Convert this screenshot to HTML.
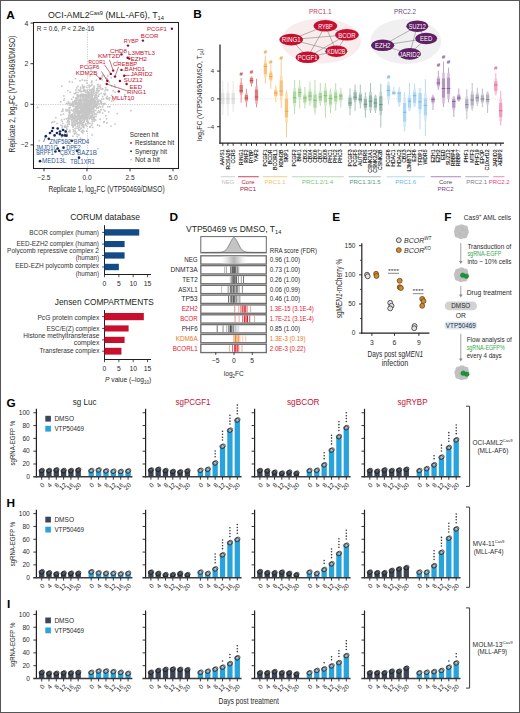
<!DOCTYPE html>
<html><head><meta charset="utf-8"><style>
html,body{margin:0;padding:0;background:#fff;}
svg{display:block;font-family:"Liberation Sans", sans-serif;}
</style></head><body>
<svg width="520" height="713" viewBox="0 0 520 713">
<rect x="0" y="0" width="520" height="713" fill="#fff"/>
<text x="6.30" y="18.60" font-size="11.8" fill="#000" font-weight="bold">A</text>
<text x="48" y="17.8" font-size="8.6" fill="#231f20" textLength="116" lengthAdjust="spacingAndGlyphs">OCI-AML2<tspan font-size="5.6" dy="-3">Cas9</tspan><tspan dy="3"> (MLL-AF6), T</tspan><tspan font-size="5.6" dy="1.8">14</tspan></text>
<line x1="87.50" y1="22.50" x2="87.50" y2="168.50" stroke="#b8b8b8" stroke-width="0.7" stroke-dasharray="1.2,1.2"/>
<line x1="33.50" y1="104.50" x2="178.50" y2="104.50" stroke="#b8b8b8" stroke-width="0.7" stroke-dasharray="1.2,1.2"/>
<circle cx="73.05" cy="110.75" r="0.90" fill="#c6c6c6"/>
<circle cx="93.66" cy="108.48" r="0.90" fill="#c6c6c6"/>
<circle cx="72.08" cy="115.69" r="0.90" fill="#c6c6c6"/>
<circle cx="88.86" cy="95.01" r="0.90" fill="#c6c6c6"/>
<circle cx="73.13" cy="127.36" r="0.90" fill="#c6c6c6"/>
<circle cx="90.98" cy="100.09" r="0.90" fill="#c6c6c6"/>
<circle cx="98.67" cy="90.86" r="0.90" fill="#c6c6c6"/>
<circle cx="83.47" cy="111.61" r="0.90" fill="#c6c6c6"/>
<circle cx="108.30" cy="98.32" r="0.90" fill="#c6c6c6"/>
<circle cx="77.13" cy="123.65" r="0.90" fill="#c6c6c6"/>
<circle cx="85.31" cy="106.43" r="0.90" fill="#c6c6c6"/>
<circle cx="81.22" cy="110.71" r="0.90" fill="#c6c6c6"/>
<circle cx="86.96" cy="100.08" r="0.90" fill="#c6c6c6"/>
<circle cx="94.61" cy="100.76" r="0.90" fill="#c6c6c6"/>
<circle cx="67.80" cy="110.36" r="0.90" fill="#c6c6c6"/>
<circle cx="71.23" cy="117.20" r="0.90" fill="#c6c6c6"/>
<circle cx="70.73" cy="115.74" r="0.90" fill="#c6c6c6"/>
<circle cx="77.19" cy="110.14" r="0.90" fill="#c6c6c6"/>
<circle cx="115.07" cy="92.26" r="0.90" fill="#c6c6c6"/>
<circle cx="92.24" cy="117.32" r="0.90" fill="#c6c6c6"/>
<circle cx="81.74" cy="103.20" r="0.90" fill="#c6c6c6"/>
<circle cx="83.56" cy="105.13" r="0.90" fill="#c6c6c6"/>
<circle cx="85.38" cy="117.87" r="0.90" fill="#c6c6c6"/>
<circle cx="89.66" cy="113.62" r="0.90" fill="#c6c6c6"/>
<circle cx="101.80" cy="103.99" r="0.90" fill="#c6c6c6"/>
<circle cx="90.79" cy="104.89" r="0.90" fill="#c6c6c6"/>
<circle cx="93.27" cy="109.58" r="0.90" fill="#c6c6c6"/>
<circle cx="93.70" cy="104.58" r="0.90" fill="#c6c6c6"/>
<circle cx="96.15" cy="95.79" r="0.90" fill="#c6c6c6"/>
<circle cx="85.73" cy="115.43" r="0.90" fill="#c6c6c6"/>
<circle cx="91.55" cy="99.83" r="0.90" fill="#c6c6c6"/>
<circle cx="99.67" cy="103.87" r="0.90" fill="#c6c6c6"/>
<circle cx="89.57" cy="100.51" r="0.90" fill="#c6c6c6"/>
<circle cx="87.05" cy="104.86" r="0.90" fill="#c6c6c6"/>
<circle cx="86.11" cy="113.41" r="0.90" fill="#c6c6c6"/>
<circle cx="75.00" cy="117.41" r="0.90" fill="#c6c6c6"/>
<circle cx="89.91" cy="90.32" r="0.90" fill="#c6c6c6"/>
<circle cx="93.50" cy="92.95" r="0.90" fill="#c6c6c6"/>
<circle cx="91.64" cy="97.49" r="0.90" fill="#c6c6c6"/>
<circle cx="86.12" cy="99.75" r="0.90" fill="#c6c6c6"/>
<circle cx="100.89" cy="102.72" r="0.90" fill="#c6c6c6"/>
<circle cx="77.98" cy="92.30" r="0.90" fill="#c6c6c6"/>
<circle cx="86.69" cy="97.45" r="0.90" fill="#c6c6c6"/>
<circle cx="92.54" cy="115.29" r="0.90" fill="#c6c6c6"/>
<circle cx="107.02" cy="78.43" r="0.90" fill="#c6c6c6"/>
<circle cx="86.06" cy="99.97" r="0.90" fill="#c6c6c6"/>
<circle cx="85.60" cy="116.54" r="0.90" fill="#c6c6c6"/>
<circle cx="83.38" cy="105.19" r="0.90" fill="#c6c6c6"/>
<circle cx="94.78" cy="95.68" r="0.90" fill="#c6c6c6"/>
<circle cx="84.97" cy="94.55" r="0.90" fill="#c6c6c6"/>
<circle cx="77.35" cy="104.28" r="0.90" fill="#c6c6c6"/>
<circle cx="94.75" cy="105.68" r="0.90" fill="#c6c6c6"/>
<circle cx="67.79" cy="126.39" r="0.90" fill="#c6c6c6"/>
<circle cx="86.62" cy="101.91" r="0.90" fill="#c6c6c6"/>
<circle cx="98.80" cy="110.59" r="0.90" fill="#c6c6c6"/>
<circle cx="84.44" cy="101.88" r="0.90" fill="#c6c6c6"/>
<circle cx="82.96" cy="132.78" r="0.90" fill="#c6c6c6"/>
<circle cx="91.91" cy="81.25" r="0.90" fill="#c6c6c6"/>
<circle cx="93.75" cy="112.46" r="0.90" fill="#c6c6c6"/>
<circle cx="80.59" cy="108.22" r="0.90" fill="#c6c6c6"/>
<circle cx="107.54" cy="89.70" r="0.90" fill="#c6c6c6"/>
<circle cx="85.48" cy="92.26" r="0.90" fill="#c6c6c6"/>
<circle cx="83.66" cy="90.21" r="0.90" fill="#c6c6c6"/>
<circle cx="78.06" cy="116.54" r="0.90" fill="#c6c6c6"/>
<circle cx="91.12" cy="90.54" r="0.90" fill="#c6c6c6"/>
<circle cx="90.49" cy="102.07" r="0.90" fill="#c6c6c6"/>
<circle cx="67.50" cy="124.62" r="0.90" fill="#c6c6c6"/>
<circle cx="78.75" cy="116.75" r="0.90" fill="#c6c6c6"/>
<circle cx="89.87" cy="108.76" r="0.90" fill="#c6c6c6"/>
<circle cx="91.74" cy="103.58" r="0.90" fill="#c6c6c6"/>
<circle cx="81.33" cy="108.85" r="0.90" fill="#c6c6c6"/>
<circle cx="88.40" cy="97.65" r="0.90" fill="#c6c6c6"/>
<circle cx="79.98" cy="113.08" r="0.90" fill="#c6c6c6"/>
<circle cx="71.75" cy="99.22" r="0.90" fill="#c6c6c6"/>
<circle cx="97.90" cy="102.85" r="0.90" fill="#c6c6c6"/>
<circle cx="79.98" cy="123.09" r="0.90" fill="#c6c6c6"/>
<circle cx="86.00" cy="105.45" r="0.90" fill="#c6c6c6"/>
<circle cx="104.68" cy="94.94" r="0.90" fill="#c6c6c6"/>
<circle cx="77.20" cy="136.64" r="0.90" fill="#c6c6c6"/>
<circle cx="97.51" cy="99.39" r="0.90" fill="#c6c6c6"/>
<circle cx="69.47" cy="114.65" r="0.90" fill="#c6c6c6"/>
<circle cx="69.48" cy="81.74" r="0.90" fill="#c6c6c6"/>
<circle cx="94.81" cy="97.03" r="0.90" fill="#c6c6c6"/>
<circle cx="82.79" cy="130.57" r="0.90" fill="#c6c6c6"/>
<circle cx="83.25" cy="124.49" r="0.90" fill="#c6c6c6"/>
<circle cx="89.96" cy="126.69" r="0.90" fill="#c6c6c6"/>
<circle cx="75.99" cy="100.76" r="0.90" fill="#c6c6c6"/>
<circle cx="99.69" cy="111.88" r="0.90" fill="#c6c6c6"/>
<circle cx="70.17" cy="107.30" r="0.90" fill="#c6c6c6"/>
<circle cx="92.34" cy="113.91" r="0.90" fill="#c6c6c6"/>
<circle cx="77.97" cy="118.77" r="0.90" fill="#c6c6c6"/>
<circle cx="73.37" cy="121.12" r="0.90" fill="#c6c6c6"/>
<circle cx="96.04" cy="95.20" r="0.90" fill="#c6c6c6"/>
<circle cx="103.52" cy="98.89" r="0.90" fill="#c6c6c6"/>
<circle cx="83.16" cy="118.84" r="0.90" fill="#c6c6c6"/>
<circle cx="83.27" cy="122.07" r="0.90" fill="#c6c6c6"/>
<circle cx="67.91" cy="110.34" r="0.90" fill="#c6c6c6"/>
<circle cx="97.80" cy="92.78" r="0.90" fill="#c6c6c6"/>
<circle cx="96.80" cy="99.15" r="0.90" fill="#c6c6c6"/>
<circle cx="77.75" cy="111.11" r="0.90" fill="#c6c6c6"/>
<circle cx="80.95" cy="121.32" r="0.90" fill="#c6c6c6"/>
<circle cx="68.70" cy="131.65" r="0.90" fill="#c6c6c6"/>
<circle cx="84.37" cy="106.89" r="0.90" fill="#c6c6c6"/>
<circle cx="80.01" cy="96.50" r="0.90" fill="#c6c6c6"/>
<circle cx="86.08" cy="101.65" r="0.90" fill="#c6c6c6"/>
<circle cx="95.74" cy="110.41" r="0.90" fill="#c6c6c6"/>
<circle cx="66.12" cy="110.76" r="0.90" fill="#c6c6c6"/>
<circle cx="78.03" cy="98.75" r="0.90" fill="#c6c6c6"/>
<circle cx="87.56" cy="96.63" r="0.90" fill="#c6c6c6"/>
<circle cx="91.51" cy="125.27" r="0.90" fill="#c6c6c6"/>
<circle cx="91.10" cy="111.46" r="0.90" fill="#c6c6c6"/>
<circle cx="77.40" cy="116.50" r="0.90" fill="#c6c6c6"/>
<circle cx="91.55" cy="95.68" r="0.90" fill="#c6c6c6"/>
<circle cx="93.81" cy="119.83" r="0.90" fill="#c6c6c6"/>
<circle cx="78.93" cy="135.01" r="0.90" fill="#c6c6c6"/>
<circle cx="83.47" cy="102.89" r="0.90" fill="#c6c6c6"/>
<circle cx="77.32" cy="109.76" r="0.90" fill="#c6c6c6"/>
<circle cx="86.57" cy="97.15" r="0.90" fill="#c6c6c6"/>
<circle cx="76.79" cy="120.75" r="0.90" fill="#c6c6c6"/>
<circle cx="77.33" cy="94.72" r="0.90" fill="#c6c6c6"/>
<circle cx="94.55" cy="104.11" r="0.90" fill="#c6c6c6"/>
<circle cx="86.52" cy="106.09" r="0.90" fill="#c6c6c6"/>
<circle cx="86.31" cy="109.42" r="0.90" fill="#c6c6c6"/>
<circle cx="81.32" cy="122.57" r="0.90" fill="#c6c6c6"/>
<circle cx="78.46" cy="95.13" r="0.90" fill="#c6c6c6"/>
<circle cx="89.40" cy="105.02" r="0.90" fill="#c6c6c6"/>
<circle cx="82.42" cy="108.81" r="0.90" fill="#c6c6c6"/>
<circle cx="87.70" cy="113.02" r="0.90" fill="#c6c6c6"/>
<circle cx="86.24" cy="104.98" r="0.90" fill="#c6c6c6"/>
<circle cx="77.47" cy="119.99" r="0.90" fill="#c6c6c6"/>
<circle cx="75.14" cy="123.98" r="0.90" fill="#c6c6c6"/>
<circle cx="92.69" cy="127.42" r="0.90" fill="#c6c6c6"/>
<circle cx="81.94" cy="115.79" r="0.90" fill="#c6c6c6"/>
<circle cx="78.66" cy="110.50" r="0.90" fill="#c6c6c6"/>
<circle cx="94.90" cy="101.93" r="0.90" fill="#c6c6c6"/>
<circle cx="83.12" cy="115.17" r="0.90" fill="#c6c6c6"/>
<circle cx="83.22" cy="99.91" r="0.90" fill="#c6c6c6"/>
<circle cx="80.76" cy="121.77" r="0.90" fill="#c6c6c6"/>
<circle cx="72.68" cy="125.75" r="0.90" fill="#c6c6c6"/>
<circle cx="71.51" cy="104.39" r="0.90" fill="#c6c6c6"/>
<circle cx="87.72" cy="108.94" r="0.90" fill="#c6c6c6"/>
<circle cx="97.98" cy="107.59" r="0.90" fill="#c6c6c6"/>
<circle cx="91.41" cy="96.59" r="0.90" fill="#c6c6c6"/>
<circle cx="70.06" cy="131.65" r="0.90" fill="#c6c6c6"/>
<circle cx="75.81" cy="103.98" r="0.90" fill="#c6c6c6"/>
<circle cx="96.46" cy="114.09" r="0.90" fill="#c6c6c6"/>
<circle cx="94.16" cy="106.91" r="0.90" fill="#c6c6c6"/>
<circle cx="80.77" cy="115.83" r="0.90" fill="#c6c6c6"/>
<circle cx="81.41" cy="128.12" r="0.90" fill="#c6c6c6"/>
<circle cx="75.12" cy="125.71" r="0.90" fill="#c6c6c6"/>
<circle cx="88.98" cy="85.07" r="0.90" fill="#c6c6c6"/>
<circle cx="109.79" cy="97.99" r="0.90" fill="#c6c6c6"/>
<circle cx="68.43" cy="121.07" r="0.90" fill="#c6c6c6"/>
<circle cx="75.70" cy="93.31" r="0.90" fill="#c6c6c6"/>
<circle cx="89.72" cy="112.76" r="0.90" fill="#c6c6c6"/>
<circle cx="93.11" cy="98.32" r="0.90" fill="#c6c6c6"/>
<circle cx="69.32" cy="121.83" r="0.90" fill="#c6c6c6"/>
<circle cx="82.20" cy="109.37" r="0.90" fill="#c6c6c6"/>
<circle cx="85.65" cy="111.08" r="0.90" fill="#c6c6c6"/>
<circle cx="86.18" cy="113.25" r="0.90" fill="#c6c6c6"/>
<circle cx="76.09" cy="97.75" r="0.90" fill="#c6c6c6"/>
<circle cx="87.77" cy="102.18" r="0.90" fill="#c6c6c6"/>
<circle cx="69.61" cy="118.03" r="0.90" fill="#c6c6c6"/>
<circle cx="92.03" cy="117.12" r="0.90" fill="#c6c6c6"/>
<circle cx="94.62" cy="106.73" r="0.90" fill="#c6c6c6"/>
<circle cx="88.16" cy="107.66" r="0.90" fill="#c6c6c6"/>
<circle cx="86.45" cy="95.26" r="0.90" fill="#c6c6c6"/>
<circle cx="80.67" cy="94.79" r="0.90" fill="#c6c6c6"/>
<circle cx="77.16" cy="121.58" r="0.90" fill="#c6c6c6"/>
<circle cx="91.02" cy="115.42" r="0.90" fill="#c6c6c6"/>
<circle cx="80.98" cy="101.18" r="0.90" fill="#c6c6c6"/>
<circle cx="95.66" cy="119.97" r="0.90" fill="#c6c6c6"/>
<circle cx="89.12" cy="87.04" r="0.90" fill="#c6c6c6"/>
<circle cx="95.52" cy="104.75" r="0.90" fill="#c6c6c6"/>
<circle cx="78.84" cy="114.33" r="0.90" fill="#c6c6c6"/>
<circle cx="73.71" cy="116.79" r="0.90" fill="#c6c6c6"/>
<circle cx="82.68" cy="110.75" r="0.90" fill="#c6c6c6"/>
<circle cx="95.40" cy="104.71" r="0.90" fill="#c6c6c6"/>
<circle cx="70.88" cy="105.21" r="0.90" fill="#c6c6c6"/>
<circle cx="74.46" cy="118.21" r="0.90" fill="#c6c6c6"/>
<circle cx="83.18" cy="112.46" r="0.90" fill="#c6c6c6"/>
<circle cx="75.10" cy="115.88" r="0.90" fill="#c6c6c6"/>
<circle cx="104.71" cy="103.44" r="0.90" fill="#c6c6c6"/>
<circle cx="83.15" cy="97.84" r="0.90" fill="#c6c6c6"/>
<circle cx="91.34" cy="97.01" r="0.90" fill="#c6c6c6"/>
<circle cx="92.43" cy="123.65" r="0.90" fill="#c6c6c6"/>
<circle cx="76.39" cy="111.42" r="0.90" fill="#c6c6c6"/>
<circle cx="89.05" cy="92.95" r="0.90" fill="#c6c6c6"/>
<circle cx="88.78" cy="108.38" r="0.90" fill="#c6c6c6"/>
<circle cx="84.78" cy="110.27" r="0.90" fill="#c6c6c6"/>
<circle cx="86.71" cy="100.40" r="0.90" fill="#c6c6c6"/>
<circle cx="81.26" cy="118.18" r="0.90" fill="#c6c6c6"/>
<circle cx="76.48" cy="101.72" r="0.90" fill="#c6c6c6"/>
<circle cx="96.32" cy="92.03" r="0.90" fill="#c6c6c6"/>
<circle cx="92.38" cy="95.75" r="0.90" fill="#c6c6c6"/>
<circle cx="84.40" cy="101.75" r="0.90" fill="#c6c6c6"/>
<circle cx="74.65" cy="115.67" r="0.90" fill="#c6c6c6"/>
<circle cx="77.61" cy="104.80" r="0.90" fill="#c6c6c6"/>
<circle cx="79.03" cy="112.35" r="0.90" fill="#c6c6c6"/>
<circle cx="88.14" cy="92.84" r="0.90" fill="#c6c6c6"/>
<circle cx="77.06" cy="121.70" r="0.90" fill="#c6c6c6"/>
<circle cx="92.01" cy="115.28" r="0.90" fill="#c6c6c6"/>
<circle cx="88.62" cy="111.77" r="0.90" fill="#c6c6c6"/>
<circle cx="83.44" cy="127.05" r="0.90" fill="#c6c6c6"/>
<circle cx="91.05" cy="109.76" r="0.90" fill="#c6c6c6"/>
<circle cx="76.07" cy="92.17" r="0.90" fill="#c6c6c6"/>
<circle cx="91.03" cy="69.80" r="0.90" fill="#c6c6c6"/>
<circle cx="88.21" cy="109.78" r="0.90" fill="#c6c6c6"/>
<circle cx="85.42" cy="91.80" r="0.90" fill="#c6c6c6"/>
<circle cx="84.17" cy="104.00" r="0.90" fill="#c6c6c6"/>
<circle cx="89.22" cy="114.84" r="0.90" fill="#c6c6c6"/>
<circle cx="85.62" cy="112.73" r="0.90" fill="#c6c6c6"/>
<circle cx="72.85" cy="105.92" r="0.90" fill="#c6c6c6"/>
<circle cx="90.60" cy="104.27" r="0.90" fill="#c6c6c6"/>
<circle cx="75.99" cy="132.92" r="0.90" fill="#c6c6c6"/>
<circle cx="88.93" cy="106.90" r="0.90" fill="#c6c6c6"/>
<circle cx="68.78" cy="117.42" r="0.90" fill="#c6c6c6"/>
<circle cx="70.29" cy="116.27" r="0.90" fill="#c6c6c6"/>
<circle cx="85.75" cy="104.10" r="0.90" fill="#c6c6c6"/>
<circle cx="86.44" cy="105.57" r="0.90" fill="#c6c6c6"/>
<circle cx="73.83" cy="117.91" r="0.90" fill="#c6c6c6"/>
<circle cx="79.67" cy="113.28" r="0.90" fill="#c6c6c6"/>
<circle cx="86.93" cy="100.83" r="0.90" fill="#c6c6c6"/>
<circle cx="99.61" cy="125.76" r="0.90" fill="#c6c6c6"/>
<circle cx="88.14" cy="108.32" r="0.90" fill="#c6c6c6"/>
<circle cx="105.56" cy="87.62" r="0.90" fill="#c6c6c6"/>
<circle cx="69.07" cy="112.66" r="0.90" fill="#c6c6c6"/>
<circle cx="79.58" cy="101.07" r="0.90" fill="#c6c6c6"/>
<circle cx="74.62" cy="114.68" r="0.90" fill="#c6c6c6"/>
<circle cx="83.20" cy="109.99" r="0.90" fill="#c6c6c6"/>
<circle cx="79.00" cy="129.62" r="0.90" fill="#c6c6c6"/>
<circle cx="88.70" cy="96.09" r="0.90" fill="#c6c6c6"/>
<circle cx="83.79" cy="118.85" r="0.90" fill="#c6c6c6"/>
<circle cx="86.31" cy="101.70" r="0.90" fill="#c6c6c6"/>
<circle cx="82.79" cy="109.38" r="0.90" fill="#c6c6c6"/>
<circle cx="97.50" cy="112.44" r="0.90" fill="#c6c6c6"/>
<circle cx="79.24" cy="130.16" r="0.90" fill="#c6c6c6"/>
<circle cx="77.92" cy="119.25" r="0.90" fill="#c6c6c6"/>
<circle cx="75.50" cy="120.10" r="0.90" fill="#c6c6c6"/>
<circle cx="101.11" cy="101.29" r="0.90" fill="#c6c6c6"/>
<circle cx="83.36" cy="87.02" r="0.90" fill="#c6c6c6"/>
<circle cx="83.86" cy="125.95" r="0.90" fill="#c6c6c6"/>
<circle cx="88.16" cy="115.68" r="0.90" fill="#c6c6c6"/>
<circle cx="99.64" cy="112.55" r="0.90" fill="#c6c6c6"/>
<circle cx="79.03" cy="127.29" r="0.90" fill="#c6c6c6"/>
<circle cx="85.33" cy="118.00" r="0.90" fill="#c6c6c6"/>
<circle cx="83.81" cy="112.45" r="0.90" fill="#c6c6c6"/>
<circle cx="78.73" cy="102.04" r="0.90" fill="#c6c6c6"/>
<circle cx="93.11" cy="103.04" r="0.90" fill="#c6c6c6"/>
<circle cx="76.06" cy="123.56" r="0.90" fill="#c6c6c6"/>
<circle cx="86.93" cy="83.17" r="0.90" fill="#c6c6c6"/>
<circle cx="80.18" cy="118.48" r="0.90" fill="#c6c6c6"/>
<circle cx="77.94" cy="122.78" r="0.90" fill="#c6c6c6"/>
<circle cx="75.39" cy="115.29" r="0.90" fill="#c6c6c6"/>
<circle cx="97.74" cy="101.17" r="0.90" fill="#c6c6c6"/>
<circle cx="79.68" cy="127.03" r="0.90" fill="#c6c6c6"/>
<circle cx="86.40" cy="107.56" r="0.90" fill="#c6c6c6"/>
<circle cx="73.03" cy="125.36" r="0.90" fill="#c6c6c6"/>
<circle cx="84.03" cy="98.48" r="0.90" fill="#c6c6c6"/>
<circle cx="90.24" cy="103.16" r="0.90" fill="#c6c6c6"/>
<circle cx="81.42" cy="106.79" r="0.90" fill="#c6c6c6"/>
<circle cx="84.31" cy="86.76" r="0.90" fill="#c6c6c6"/>
<circle cx="73.90" cy="117.72" r="0.90" fill="#c6c6c6"/>
<circle cx="96.20" cy="104.64" r="0.90" fill="#c6c6c6"/>
<circle cx="97.65" cy="101.64" r="0.90" fill="#c6c6c6"/>
<circle cx="85.77" cy="111.32" r="0.90" fill="#c6c6c6"/>
<circle cx="71.60" cy="124.97" r="0.90" fill="#c6c6c6"/>
<circle cx="104.99" cy="90.80" r="0.90" fill="#c6c6c6"/>
<circle cx="90.05" cy="95.81" r="0.90" fill="#c6c6c6"/>
<circle cx="89.71" cy="95.31" r="0.90" fill="#c6c6c6"/>
<circle cx="81.95" cy="111.92" r="0.90" fill="#c6c6c6"/>
<circle cx="93.56" cy="106.93" r="0.90" fill="#c6c6c6"/>
<circle cx="72.06" cy="117.30" r="0.90" fill="#c6c6c6"/>
<circle cx="79.36" cy="104.98" r="0.90" fill="#c6c6c6"/>
<circle cx="77.73" cy="122.56" r="0.90" fill="#c6c6c6"/>
<circle cx="81.34" cy="94.55" r="0.90" fill="#c6c6c6"/>
<circle cx="83.97" cy="107.00" r="0.90" fill="#c6c6c6"/>
<circle cx="84.51" cy="105.37" r="0.90" fill="#c6c6c6"/>
<circle cx="93.04" cy="89.78" r="0.90" fill="#c6c6c6"/>
<circle cx="69.15" cy="103.05" r="0.90" fill="#c6c6c6"/>
<circle cx="84.39" cy="111.58" r="0.90" fill="#c6c6c6"/>
<circle cx="106.70" cy="98.00" r="0.90" fill="#c6c6c6"/>
<circle cx="102.48" cy="88.94" r="0.90" fill="#c6c6c6"/>
<circle cx="74.86" cy="108.66" r="0.90" fill="#c6c6c6"/>
<circle cx="91.26" cy="105.91" r="0.90" fill="#c6c6c6"/>
<circle cx="62.80" cy="123.49" r="0.90" fill="#c6c6c6"/>
<circle cx="82.64" cy="120.37" r="0.90" fill="#c6c6c6"/>
<circle cx="101.38" cy="101.62" r="0.90" fill="#c6c6c6"/>
<circle cx="80.77" cy="113.32" r="0.90" fill="#c6c6c6"/>
<circle cx="77.14" cy="120.04" r="0.90" fill="#c6c6c6"/>
<circle cx="85.29" cy="104.77" r="0.90" fill="#c6c6c6"/>
<circle cx="79.71" cy="111.81" r="0.90" fill="#c6c6c6"/>
<circle cx="71.51" cy="110.14" r="0.90" fill="#c6c6c6"/>
<circle cx="77.46" cy="109.98" r="0.90" fill="#c6c6c6"/>
<circle cx="76.00" cy="118.05" r="0.90" fill="#c6c6c6"/>
<circle cx="86.42" cy="119.36" r="0.90" fill="#c6c6c6"/>
<circle cx="107.36" cy="96.32" r="0.90" fill="#c6c6c6"/>
<circle cx="83.74" cy="116.05" r="0.90" fill="#c6c6c6"/>
<circle cx="99.23" cy="86.53" r="0.90" fill="#c6c6c6"/>
<circle cx="87.20" cy="120.50" r="0.90" fill="#c6c6c6"/>
<circle cx="79.74" cy="104.75" r="0.90" fill="#c6c6c6"/>
<circle cx="79.66" cy="122.74" r="0.90" fill="#c6c6c6"/>
<circle cx="73.39" cy="122.02" r="0.90" fill="#c6c6c6"/>
<circle cx="84.55" cy="114.76" r="0.90" fill="#c6c6c6"/>
<circle cx="84.59" cy="80.43" r="0.90" fill="#c6c6c6"/>
<circle cx="100.89" cy="109.80" r="0.90" fill="#c6c6c6"/>
<circle cx="87.61" cy="105.77" r="0.90" fill="#c6c6c6"/>
<circle cx="83.14" cy="98.65" r="0.90" fill="#c6c6c6"/>
<circle cx="81.33" cy="113.27" r="0.90" fill="#c6c6c6"/>
<circle cx="80.94" cy="111.24" r="0.90" fill="#c6c6c6"/>
<circle cx="96.36" cy="94.16" r="0.90" fill="#c6c6c6"/>
<circle cx="71.96" cy="119.50" r="0.90" fill="#c6c6c6"/>
<circle cx="77.01" cy="104.23" r="0.90" fill="#c6c6c6"/>
<circle cx="86.51" cy="98.36" r="0.90" fill="#c6c6c6"/>
<circle cx="83.84" cy="127.70" r="0.90" fill="#c6c6c6"/>
<circle cx="88.61" cy="103.83" r="0.90" fill="#c6c6c6"/>
<circle cx="89.14" cy="118.80" r="0.90" fill="#c6c6c6"/>
<circle cx="85.18" cy="114.81" r="0.90" fill="#c6c6c6"/>
<circle cx="78.04" cy="108.29" r="0.90" fill="#c6c6c6"/>
<circle cx="87.69" cy="115.49" r="0.90" fill="#c6c6c6"/>
<circle cx="68.52" cy="141.63" r="0.90" fill="#c6c6c6"/>
<circle cx="79.08" cy="100.06" r="0.90" fill="#c6c6c6"/>
<circle cx="83.91" cy="131.08" r="0.90" fill="#c6c6c6"/>
<circle cx="76.41" cy="108.49" r="0.90" fill="#c6c6c6"/>
<circle cx="99.96" cy="88.31" r="0.90" fill="#c6c6c6"/>
<circle cx="87.83" cy="104.55" r="0.90" fill="#c6c6c6"/>
<circle cx="74.58" cy="118.19" r="0.90" fill="#c6c6c6"/>
<circle cx="81.33" cy="117.75" r="0.90" fill="#c6c6c6"/>
<circle cx="85.01" cy="111.96" r="0.90" fill="#c6c6c6"/>
<circle cx="87.55" cy="92.37" r="0.90" fill="#c6c6c6"/>
<circle cx="91.31" cy="100.47" r="0.90" fill="#c6c6c6"/>
<circle cx="82.18" cy="124.72" r="0.90" fill="#c6c6c6"/>
<circle cx="83.36" cy="103.51" r="0.90" fill="#c6c6c6"/>
<circle cx="75.05" cy="100.93" r="0.90" fill="#c6c6c6"/>
<circle cx="81.32" cy="106.33" r="0.90" fill="#c6c6c6"/>
<circle cx="81.37" cy="122.53" r="0.90" fill="#c6c6c6"/>
<circle cx="103.63" cy="109.55" r="0.90" fill="#c6c6c6"/>
<circle cx="92.95" cy="109.29" r="0.90" fill="#c6c6c6"/>
<circle cx="87.01" cy="114.99" r="0.90" fill="#c6c6c6"/>
<circle cx="80.55" cy="101.28" r="0.90" fill="#c6c6c6"/>
<circle cx="102.49" cy="107.03" r="0.90" fill="#c6c6c6"/>
<circle cx="84.51" cy="98.86" r="0.90" fill="#c6c6c6"/>
<circle cx="78.56" cy="104.45" r="0.90" fill="#c6c6c6"/>
<circle cx="77.13" cy="106.28" r="0.90" fill="#c6c6c6"/>
<circle cx="88.48" cy="94.08" r="0.90" fill="#c6c6c6"/>
<circle cx="87.80" cy="118.43" r="0.90" fill="#c6c6c6"/>
<circle cx="90.59" cy="116.00" r="0.90" fill="#c6c6c6"/>
<circle cx="91.39" cy="89.53" r="0.90" fill="#c6c6c6"/>
<circle cx="89.95" cy="110.88" r="0.90" fill="#c6c6c6"/>
<circle cx="95.49" cy="100.70" r="0.90" fill="#c6c6c6"/>
<circle cx="72.85" cy="118.15" r="0.90" fill="#c6c6c6"/>
<circle cx="97.60" cy="104.26" r="0.90" fill="#c6c6c6"/>
<circle cx="85.55" cy="111.17" r="0.90" fill="#c6c6c6"/>
<circle cx="68.76" cy="121.92" r="0.90" fill="#c6c6c6"/>
<circle cx="87.73" cy="104.49" r="0.90" fill="#c6c6c6"/>
<circle cx="82.80" cy="130.52" r="0.90" fill="#c6c6c6"/>
<circle cx="95.77" cy="95.05" r="0.90" fill="#c6c6c6"/>
<circle cx="93.93" cy="90.25" r="0.90" fill="#c6c6c6"/>
<circle cx="80.29" cy="116.62" r="0.90" fill="#c6c6c6"/>
<circle cx="87.34" cy="90.10" r="0.90" fill="#c6c6c6"/>
<circle cx="68.76" cy="119.12" r="0.90" fill="#c6c6c6"/>
<circle cx="77.78" cy="106.38" r="0.90" fill="#c6c6c6"/>
<circle cx="98.02" cy="103.95" r="0.90" fill="#c6c6c6"/>
<circle cx="72.90" cy="114.10" r="0.90" fill="#c6c6c6"/>
<circle cx="81.77" cy="125.18" r="0.90" fill="#c6c6c6"/>
<circle cx="92.64" cy="109.13" r="0.90" fill="#c6c6c6"/>
<circle cx="90.77" cy="118.04" r="0.90" fill="#c6c6c6"/>
<circle cx="94.60" cy="117.22" r="0.90" fill="#c6c6c6"/>
<circle cx="94.20" cy="121.13" r="0.90" fill="#c6c6c6"/>
<circle cx="97.24" cy="105.16" r="0.90" fill="#c6c6c6"/>
<circle cx="69.97" cy="118.52" r="0.90" fill="#c6c6c6"/>
<circle cx="87.55" cy="116.54" r="0.90" fill="#c6c6c6"/>
<circle cx="79.84" cy="108.15" r="0.90" fill="#c6c6c6"/>
<circle cx="82.85" cy="139.77" r="0.90" fill="#c6c6c6"/>
<circle cx="80.43" cy="106.26" r="0.90" fill="#c6c6c6"/>
<circle cx="87.18" cy="96.81" r="0.90" fill="#c6c6c6"/>
<circle cx="78.01" cy="86.37" r="0.90" fill="#c6c6c6"/>
<circle cx="91.85" cy="101.23" r="0.90" fill="#c6c6c6"/>
<circle cx="94.50" cy="93.39" r="0.90" fill="#c6c6c6"/>
<circle cx="85.37" cy="114.03" r="0.90" fill="#c6c6c6"/>
<circle cx="93.93" cy="99.00" r="0.90" fill="#c6c6c6"/>
<circle cx="66.84" cy="128.88" r="0.90" fill="#c6c6c6"/>
<circle cx="88.76" cy="104.93" r="0.90" fill="#c6c6c6"/>
<circle cx="87.02" cy="100.56" r="0.90" fill="#c6c6c6"/>
<circle cx="85.77" cy="91.85" r="0.90" fill="#c6c6c6"/>
<circle cx="78.94" cy="115.30" r="0.90" fill="#c6c6c6"/>
<circle cx="87.42" cy="99.31" r="0.90" fill="#c6c6c6"/>
<circle cx="91.73" cy="89.57" r="0.90" fill="#c6c6c6"/>
<circle cx="79.99" cy="99.12" r="0.90" fill="#c6c6c6"/>
<circle cx="88.77" cy="116.40" r="0.90" fill="#c6c6c6"/>
<circle cx="83.14" cy="88.26" r="0.90" fill="#c6c6c6"/>
<circle cx="91.72" cy="109.09" r="0.90" fill="#c6c6c6"/>
<circle cx="62.14" cy="127.74" r="0.90" fill="#c6c6c6"/>
<circle cx="77.89" cy="111.12" r="0.90" fill="#c6c6c6"/>
<circle cx="105.88" cy="89.31" r="0.90" fill="#c6c6c6"/>
<circle cx="87.33" cy="116.11" r="0.90" fill="#c6c6c6"/>
<circle cx="73.40" cy="116.39" r="0.90" fill="#c6c6c6"/>
<circle cx="80.08" cy="80.73" r="0.90" fill="#c6c6c6"/>
<circle cx="80.67" cy="116.53" r="0.90" fill="#c6c6c6"/>
<circle cx="94.90" cy="101.92" r="0.90" fill="#c6c6c6"/>
<circle cx="72.95" cy="101.71" r="0.90" fill="#c6c6c6"/>
<circle cx="81.52" cy="123.18" r="0.90" fill="#c6c6c6"/>
<circle cx="87.41" cy="101.88" r="0.90" fill="#c6c6c6"/>
<circle cx="81.28" cy="103.10" r="0.90" fill="#c6c6c6"/>
<circle cx="92.04" cy="113.03" r="0.90" fill="#c6c6c6"/>
<circle cx="65.31" cy="142.55" r="0.90" fill="#c6c6c6"/>
<circle cx="83.23" cy="96.74" r="0.90" fill="#c6c6c6"/>
<circle cx="93.73" cy="89.44" r="0.90" fill="#c6c6c6"/>
<circle cx="101.66" cy="98.88" r="0.90" fill="#c6c6c6"/>
<circle cx="94.23" cy="118.30" r="0.90" fill="#c6c6c6"/>
<circle cx="90.82" cy="100.98" r="0.90" fill="#c6c6c6"/>
<circle cx="83.54" cy="113.24" r="0.90" fill="#c6c6c6"/>
<circle cx="74.06" cy="112.57" r="0.90" fill="#c6c6c6"/>
<circle cx="96.29" cy="105.60" r="0.90" fill="#c6c6c6"/>
<circle cx="89.35" cy="112.32" r="0.90" fill="#c6c6c6"/>
<circle cx="86.78" cy="117.13" r="0.90" fill="#c6c6c6"/>
<circle cx="87.93" cy="108.63" r="0.90" fill="#c6c6c6"/>
<circle cx="87.35" cy="112.82" r="0.90" fill="#c6c6c6"/>
<circle cx="73.49" cy="117.55" r="0.90" fill="#c6c6c6"/>
<circle cx="94.05" cy="87.41" r="0.90" fill="#c6c6c6"/>
<circle cx="81.40" cy="102.02" r="0.90" fill="#c6c6c6"/>
<circle cx="91.47" cy="100.63" r="0.90" fill="#c6c6c6"/>
<circle cx="70.01" cy="112.92" r="0.90" fill="#c6c6c6"/>
<circle cx="75.42" cy="101.50" r="0.90" fill="#c6c6c6"/>
<circle cx="91.74" cy="98.24" r="0.90" fill="#c6c6c6"/>
<circle cx="60.87" cy="114.91" r="0.90" fill="#c6c6c6"/>
<circle cx="90.92" cy="117.58" r="0.90" fill="#c6c6c6"/>
<circle cx="93.43" cy="102.73" r="0.90" fill="#c6c6c6"/>
<circle cx="82.72" cy="116.39" r="0.90" fill="#c6c6c6"/>
<circle cx="74.96" cy="117.80" r="0.90" fill="#c6c6c6"/>
<circle cx="113.08" cy="90.83" r="0.90" fill="#c6c6c6"/>
<circle cx="86.35" cy="113.78" r="0.90" fill="#c6c6c6"/>
<circle cx="78.68" cy="116.97" r="0.90" fill="#c6c6c6"/>
<circle cx="76.19" cy="104.09" r="0.90" fill="#c6c6c6"/>
<circle cx="81.91" cy="101.09" r="0.90" fill="#c6c6c6"/>
<circle cx="73.69" cy="104.90" r="0.90" fill="#c6c6c6"/>
<circle cx="84.17" cy="101.84" r="0.90" fill="#c6c6c6"/>
<circle cx="83.45" cy="117.74" r="0.90" fill="#c6c6c6"/>
<circle cx="95.66" cy="106.62" r="0.90" fill="#c6c6c6"/>
<circle cx="83.05" cy="117.93" r="0.90" fill="#c6c6c6"/>
<circle cx="86.32" cy="111.22" r="0.90" fill="#c6c6c6"/>
<circle cx="87.04" cy="103.51" r="0.90" fill="#c6c6c6"/>
<circle cx="78.02" cy="125.88" r="0.90" fill="#c6c6c6"/>
<circle cx="88.44" cy="97.04" r="0.90" fill="#c6c6c6"/>
<circle cx="90.89" cy="116.28" r="0.90" fill="#c6c6c6"/>
<circle cx="90.04" cy="101.49" r="0.90" fill="#c6c6c6"/>
<circle cx="87.06" cy="102.65" r="0.90" fill="#c6c6c6"/>
<circle cx="81.41" cy="107.85" r="0.90" fill="#c6c6c6"/>
<circle cx="93.03" cy="108.74" r="0.90" fill="#c6c6c6"/>
<circle cx="71.05" cy="116.64" r="0.90" fill="#c6c6c6"/>
<circle cx="86.24" cy="125.77" r="0.90" fill="#c6c6c6"/>
<circle cx="78.14" cy="105.88" r="0.90" fill="#c6c6c6"/>
<circle cx="83.03" cy="108.19" r="0.90" fill="#c6c6c6"/>
<circle cx="72.72" cy="105.65" r="0.90" fill="#c6c6c6"/>
<circle cx="100.72" cy="101.54" r="0.90" fill="#c6c6c6"/>
<circle cx="77.62" cy="123.58" r="0.90" fill="#c6c6c6"/>
<circle cx="92.69" cy="102.85" r="0.90" fill="#c6c6c6"/>
<circle cx="77.04" cy="100.25" r="0.90" fill="#c6c6c6"/>
<circle cx="91.52" cy="98.51" r="0.90" fill="#c6c6c6"/>
<circle cx="68.08" cy="118.23" r="0.90" fill="#c6c6c6"/>
<circle cx="90.23" cy="117.42" r="0.90" fill="#c6c6c6"/>
<circle cx="93.05" cy="89.43" r="0.90" fill="#c6c6c6"/>
<circle cx="94.02" cy="110.36" r="0.90" fill="#c6c6c6"/>
<circle cx="77.85" cy="102.53" r="0.90" fill="#c6c6c6"/>
<circle cx="93.65" cy="91.11" r="0.90" fill="#c6c6c6"/>
<circle cx="95.57" cy="103.32" r="0.90" fill="#c6c6c6"/>
<circle cx="80.61" cy="128.92" r="0.90" fill="#c6c6c6"/>
<circle cx="91.70" cy="81.72" r="0.90" fill="#c6c6c6"/>
<circle cx="80.12" cy="115.43" r="0.90" fill="#c6c6c6"/>
<circle cx="90.45" cy="101.37" r="0.90" fill="#c6c6c6"/>
<circle cx="71.69" cy="122.37" r="0.90" fill="#c6c6c6"/>
<circle cx="74.22" cy="93.72" r="0.90" fill="#c6c6c6"/>
<circle cx="77.76" cy="103.45" r="0.90" fill="#c6c6c6"/>
<circle cx="102.23" cy="79.84" r="0.90" fill="#c6c6c6"/>
<circle cx="97.66" cy="84.95" r="0.90" fill="#c6c6c6"/>
<circle cx="72.95" cy="118.01" r="0.90" fill="#c6c6c6"/>
<circle cx="77.66" cy="114.91" r="0.90" fill="#c6c6c6"/>
<circle cx="108.77" cy="111.93" r="0.90" fill="#c6c6c6"/>
<circle cx="89.61" cy="117.88" r="0.90" fill="#c6c6c6"/>
<circle cx="96.85" cy="88.67" r="0.90" fill="#c6c6c6"/>
<circle cx="79.67" cy="90.29" r="0.90" fill="#c6c6c6"/>
<circle cx="85.12" cy="94.99" r="0.90" fill="#c6c6c6"/>
<circle cx="87.31" cy="112.38" r="0.90" fill="#c6c6c6"/>
<circle cx="80.89" cy="111.45" r="0.90" fill="#c6c6c6"/>
<circle cx="90.15" cy="104.00" r="0.90" fill="#c6c6c6"/>
<circle cx="106.34" cy="98.43" r="0.90" fill="#c6c6c6"/>
<circle cx="80.08" cy="117.88" r="0.90" fill="#c6c6c6"/>
<circle cx="77.20" cy="126.62" r="0.90" fill="#c6c6c6"/>
<circle cx="75.27" cy="104.27" r="0.90" fill="#c6c6c6"/>
<circle cx="84.98" cy="109.77" r="0.90" fill="#c6c6c6"/>
<circle cx="87.67" cy="95.96" r="0.90" fill="#c6c6c6"/>
<circle cx="90.14" cy="97.56" r="0.90" fill="#c6c6c6"/>
<circle cx="79.22" cy="113.78" r="0.90" fill="#c6c6c6"/>
<circle cx="77.21" cy="113.23" r="0.90" fill="#c6c6c6"/>
<circle cx="76.83" cy="116.18" r="0.90" fill="#c6c6c6"/>
<circle cx="82.80" cy="111.39" r="0.90" fill="#c6c6c6"/>
<circle cx="81.95" cy="114.60" r="0.90" fill="#c6c6c6"/>
<circle cx="96.59" cy="105.19" r="0.90" fill="#c6c6c6"/>
<circle cx="75.03" cy="111.51" r="0.90" fill="#c6c6c6"/>
<circle cx="74.30" cy="124.53" r="0.90" fill="#c6c6c6"/>
<circle cx="85.20" cy="124.56" r="0.90" fill="#c6c6c6"/>
<circle cx="54.52" cy="121.66" r="0.90" fill="#c6c6c6"/>
<circle cx="94.03" cy="119.82" r="0.90" fill="#c6c6c6"/>
<circle cx="76.09" cy="107.11" r="0.90" fill="#c6c6c6"/>
<circle cx="65.96" cy="127.06" r="0.90" fill="#c6c6c6"/>
<circle cx="73.24" cy="116.39" r="0.90" fill="#c6c6c6"/>
<circle cx="66.10" cy="109.35" r="0.90" fill="#c6c6c6"/>
<circle cx="83.08" cy="106.06" r="0.90" fill="#c6c6c6"/>
<circle cx="81.37" cy="131.16" r="0.90" fill="#c6c6c6"/>
<circle cx="83.01" cy="122.49" r="0.90" fill="#c6c6c6"/>
<circle cx="84.51" cy="116.81" r="0.90" fill="#c6c6c6"/>
<circle cx="81.48" cy="112.05" r="0.90" fill="#c6c6c6"/>
<circle cx="91.59" cy="96.83" r="0.90" fill="#c6c6c6"/>
<circle cx="75.08" cy="113.58" r="0.90" fill="#c6c6c6"/>
<circle cx="97.98" cy="96.10" r="0.90" fill="#c6c6c6"/>
<circle cx="77.65" cy="113.23" r="0.90" fill="#c6c6c6"/>
<circle cx="81.19" cy="100.72" r="0.90" fill="#c6c6c6"/>
<circle cx="84.73" cy="104.45" r="0.90" fill="#c6c6c6"/>
<circle cx="104.96" cy="110.99" r="0.90" fill="#c6c6c6"/>
<circle cx="75.00" cy="130.72" r="0.90" fill="#c6c6c6"/>
<circle cx="69.63" cy="107.81" r="0.90" fill="#c6c6c6"/>
<circle cx="87.13" cy="90.63" r="0.90" fill="#c6c6c6"/>
<circle cx="66.08" cy="127.06" r="0.90" fill="#c6c6c6"/>
<circle cx="97.83" cy="90.84" r="0.90" fill="#c6c6c6"/>
<circle cx="92.64" cy="95.22" r="0.90" fill="#c6c6c6"/>
<circle cx="84.72" cy="108.30" r="0.90" fill="#c6c6c6"/>
<circle cx="84.72" cy="99.80" r="0.90" fill="#c6c6c6"/>
<circle cx="82.91" cy="105.98" r="0.90" fill="#c6c6c6"/>
<circle cx="97.92" cy="112.28" r="0.90" fill="#c6c6c6"/>
<circle cx="77.45" cy="106.50" r="0.90" fill="#c6c6c6"/>
<circle cx="81.97" cy="111.25" r="0.90" fill="#c6c6c6"/>
<circle cx="103.91" cy="93.67" r="0.90" fill="#c6c6c6"/>
<circle cx="80.54" cy="99.51" r="0.90" fill="#c6c6c6"/>
<circle cx="107.80" cy="106.77" r="0.90" fill="#c6c6c6"/>
<circle cx="78.20" cy="110.57" r="0.90" fill="#c6c6c6"/>
<circle cx="78.51" cy="89.91" r="0.90" fill="#c6c6c6"/>
<circle cx="89.30" cy="109.69" r="0.90" fill="#c6c6c6"/>
<circle cx="88.98" cy="113.83" r="0.90" fill="#c6c6c6"/>
<circle cx="78.80" cy="110.35" r="0.90" fill="#c6c6c6"/>
<circle cx="106.60" cy="118.80" r="0.90" fill="#c6c6c6"/>
<circle cx="88.32" cy="92.78" r="0.90" fill="#c6c6c6"/>
<circle cx="91.29" cy="85.47" r="0.90" fill="#c6c6c6"/>
<circle cx="88.60" cy="104.64" r="0.90" fill="#c6c6c6"/>
<circle cx="83.20" cy="117.56" r="0.90" fill="#c6c6c6"/>
<circle cx="99.61" cy="111.94" r="0.90" fill="#c6c6c6"/>
<circle cx="83.27" cy="114.20" r="0.90" fill="#c6c6c6"/>
<circle cx="77.13" cy="134.46" r="0.90" fill="#c6c6c6"/>
<circle cx="80.87" cy="108.91" r="0.90" fill="#c6c6c6"/>
<circle cx="85.75" cy="99.22" r="0.90" fill="#c6c6c6"/>
<circle cx="82.91" cy="115.57" r="0.90" fill="#c6c6c6"/>
<circle cx="87.28" cy="100.18" r="0.90" fill="#c6c6c6"/>
<circle cx="76.02" cy="128.05" r="0.90" fill="#c6c6c6"/>
<circle cx="74.90" cy="102.97" r="0.90" fill="#c6c6c6"/>
<circle cx="93.69" cy="112.18" r="0.90" fill="#c6c6c6"/>
<circle cx="85.45" cy="99.44" r="0.90" fill="#c6c6c6"/>
<circle cx="96.76" cy="108.25" r="0.90" fill="#c6c6c6"/>
<circle cx="82.19" cy="95.52" r="0.90" fill="#c6c6c6"/>
<circle cx="106.81" cy="81.00" r="0.90" fill="#c6c6c6"/>
<circle cx="73.82" cy="109.62" r="0.90" fill="#c6c6c6"/>
<circle cx="81.64" cy="110.45" r="0.90" fill="#c6c6c6"/>
<circle cx="78.26" cy="116.47" r="0.90" fill="#c6c6c6"/>
<circle cx="84.32" cy="90.43" r="0.90" fill="#c6c6c6"/>
<circle cx="90.92" cy="100.59" r="0.90" fill="#c6c6c6"/>
<circle cx="84.67" cy="115.71" r="0.90" fill="#c6c6c6"/>
<circle cx="82.29" cy="97.15" r="0.90" fill="#c6c6c6"/>
<circle cx="92.13" cy="84.61" r="0.90" fill="#c6c6c6"/>
<circle cx="86.84" cy="107.25" r="0.90" fill="#c6c6c6"/>
<circle cx="69.39" cy="112.52" r="0.90" fill="#c6c6c6"/>
<circle cx="68.41" cy="101.81" r="0.90" fill="#c6c6c6"/>
<circle cx="78.57" cy="111.52" r="0.90" fill="#c6c6c6"/>
<circle cx="71.87" cy="120.09" r="0.90" fill="#c6c6c6"/>
<circle cx="75.77" cy="101.76" r="0.90" fill="#c6c6c6"/>
<circle cx="86.73" cy="118.88" r="0.90" fill="#c6c6c6"/>
<circle cx="66.48" cy="118.74" r="0.90" fill="#c6c6c6"/>
<circle cx="79.90" cy="121.88" r="0.90" fill="#c6c6c6"/>
<circle cx="89.90" cy="107.25" r="0.90" fill="#c6c6c6"/>
<circle cx="85.45" cy="113.69" r="0.90" fill="#c6c6c6"/>
<circle cx="79.13" cy="115.81" r="0.90" fill="#c6c6c6"/>
<circle cx="69.53" cy="110.14" r="0.90" fill="#c6c6c6"/>
<circle cx="88.16" cy="123.52" r="0.90" fill="#c6c6c6"/>
<circle cx="85.37" cy="96.34" r="0.90" fill="#c6c6c6"/>
<circle cx="86.62" cy="94.25" r="0.90" fill="#c6c6c6"/>
<circle cx="81.93" cy="109.69" r="0.90" fill="#c6c6c6"/>
<circle cx="72.35" cy="123.92" r="0.90" fill="#c6c6c6"/>
<circle cx="67.49" cy="126.45" r="0.90" fill="#c6c6c6"/>
<circle cx="86.69" cy="101.96" r="0.90" fill="#c6c6c6"/>
<circle cx="95.23" cy="101.21" r="0.90" fill="#c6c6c6"/>
<circle cx="75.23" cy="109.04" r="0.90" fill="#c6c6c6"/>
<circle cx="83.07" cy="91.30" r="0.90" fill="#c6c6c6"/>
<circle cx="102.61" cy="88.95" r="0.90" fill="#c6c6c6"/>
<circle cx="73.87" cy="119.31" r="0.90" fill="#c6c6c6"/>
<circle cx="86.19" cy="114.50" r="0.90" fill="#c6c6c6"/>
<circle cx="89.28" cy="98.89" r="0.90" fill="#c6c6c6"/>
<circle cx="92.21" cy="101.87" r="0.90" fill="#c6c6c6"/>
<circle cx="76.21" cy="121.20" r="0.90" fill="#c6c6c6"/>
<circle cx="83.28" cy="95.75" r="0.90" fill="#c6c6c6"/>
<circle cx="99.04" cy="90.70" r="0.90" fill="#c6c6c6"/>
<circle cx="87.79" cy="99.80" r="0.90" fill="#c6c6c6"/>
<circle cx="92.06" cy="91.34" r="0.90" fill="#c6c6c6"/>
<circle cx="92.37" cy="119.37" r="0.90" fill="#c6c6c6"/>
<circle cx="93.27" cy="99.73" r="0.90" fill="#c6c6c6"/>
<circle cx="80.15" cy="105.43" r="0.90" fill="#c6c6c6"/>
<circle cx="87.10" cy="107.45" r="0.90" fill="#c6c6c6"/>
<circle cx="68.73" cy="115.74" r="0.90" fill="#c6c6c6"/>
<circle cx="89.59" cy="106.05" r="0.90" fill="#c6c6c6"/>
<circle cx="69.67" cy="111.77" r="0.90" fill="#c6c6c6"/>
<circle cx="91.10" cy="102.94" r="0.90" fill="#c6c6c6"/>
<circle cx="88.38" cy="109.73" r="0.90" fill="#c6c6c6"/>
<circle cx="78.31" cy="106.44" r="0.90" fill="#c6c6c6"/>
<circle cx="81.12" cy="108.32" r="0.90" fill="#c6c6c6"/>
<circle cx="114.66" cy="84.90" r="0.90" fill="#c6c6c6"/>
<circle cx="85.68" cy="123.85" r="0.90" fill="#c6c6c6"/>
<circle cx="85.32" cy="100.32" r="0.90" fill="#c6c6c6"/>
<circle cx="77.88" cy="114.28" r="0.90" fill="#c6c6c6"/>
<circle cx="63.48" cy="114.15" r="0.90" fill="#c6c6c6"/>
<circle cx="78.89" cy="104.53" r="0.90" fill="#c6c6c6"/>
<circle cx="97.09" cy="103.11" r="0.90" fill="#c6c6c6"/>
<circle cx="93.56" cy="100.92" r="0.90" fill="#c6c6c6"/>
<circle cx="82.52" cy="112.19" r="0.90" fill="#c6c6c6"/>
<circle cx="76.51" cy="99.84" r="0.90" fill="#c6c6c6"/>
<circle cx="92.60" cy="113.97" r="0.90" fill="#c6c6c6"/>
<circle cx="92.24" cy="111.40" r="0.90" fill="#c6c6c6"/>
<circle cx="70.44" cy="103.97" r="0.90" fill="#c6c6c6"/>
<circle cx="72.54" cy="102.98" r="0.90" fill="#c6c6c6"/>
<circle cx="86.27" cy="98.36" r="0.90" fill="#c6c6c6"/>
<circle cx="89.17" cy="94.28" r="0.90" fill="#c6c6c6"/>
<circle cx="87.65" cy="100.85" r="0.90" fill="#c6c6c6"/>
<circle cx="86.73" cy="96.19" r="0.90" fill="#c6c6c6"/>
<circle cx="80.78" cy="100.20" r="0.90" fill="#c6c6c6"/>
<circle cx="98.41" cy="101.42" r="0.90" fill="#c6c6c6"/>
<circle cx="88.51" cy="111.27" r="0.90" fill="#c6c6c6"/>
<circle cx="81.74" cy="107.21" r="0.90" fill="#c6c6c6"/>
<circle cx="81.24" cy="118.91" r="0.90" fill="#c6c6c6"/>
<circle cx="84.14" cy="106.60" r="0.90" fill="#c6c6c6"/>
<circle cx="87.42" cy="99.66" r="0.90" fill="#c6c6c6"/>
<circle cx="67.94" cy="103.19" r="0.90" fill="#c6c6c6"/>
<circle cx="82.83" cy="116.92" r="0.90" fill="#c6c6c6"/>
<circle cx="80.97" cy="105.81" r="0.90" fill="#c6c6c6"/>
<circle cx="92.50" cy="107.64" r="0.90" fill="#c6c6c6"/>
<circle cx="85.89" cy="123.48" r="0.90" fill="#c6c6c6"/>
<circle cx="85.99" cy="108.62" r="0.90" fill="#c6c6c6"/>
<circle cx="80.42" cy="101.69" r="0.90" fill="#c6c6c6"/>
<circle cx="101.07" cy="89.06" r="0.90" fill="#c6c6c6"/>
<circle cx="77.16" cy="97.05" r="0.90" fill="#c6c6c6"/>
<circle cx="81.32" cy="110.44" r="0.90" fill="#c6c6c6"/>
<circle cx="79.03" cy="106.73" r="0.90" fill="#c6c6c6"/>
<circle cx="89.56" cy="104.13" r="0.90" fill="#c6c6c6"/>
<circle cx="82.47" cy="110.84" r="0.90" fill="#c6c6c6"/>
<circle cx="80.70" cy="100.69" r="0.90" fill="#c6c6c6"/>
<circle cx="79.59" cy="112.44" r="0.90" fill="#c6c6c6"/>
<circle cx="82.48" cy="116.87" r="0.90" fill="#c6c6c6"/>
<circle cx="82.31" cy="124.10" r="0.90" fill="#c6c6c6"/>
<circle cx="88.21" cy="100.92" r="0.90" fill="#c6c6c6"/>
<circle cx="81.64" cy="94.40" r="0.90" fill="#c6c6c6"/>
<circle cx="76.82" cy="106.95" r="0.90" fill="#c6c6c6"/>
<circle cx="88.85" cy="111.29" r="0.90" fill="#c6c6c6"/>
<circle cx="82.19" cy="100.72" r="0.90" fill="#c6c6c6"/>
<circle cx="84.99" cy="105.24" r="0.90" fill="#c6c6c6"/>
<circle cx="97.37" cy="99.20" r="0.90" fill="#c6c6c6"/>
<circle cx="68.96" cy="124.03" r="0.90" fill="#c6c6c6"/>
<circle cx="92.14" cy="105.46" r="0.90" fill="#c6c6c6"/>
<circle cx="74.44" cy="133.38" r="0.90" fill="#c6c6c6"/>
<circle cx="87.41" cy="91.84" r="0.90" fill="#c6c6c6"/>
<circle cx="72.84" cy="136.13" r="0.90" fill="#c6c6c6"/>
<circle cx="89.02" cy="111.24" r="0.90" fill="#c6c6c6"/>
<circle cx="81.71" cy="113.03" r="0.90" fill="#c6c6c6"/>
<circle cx="76.09" cy="108.50" r="0.90" fill="#c6c6c6"/>
<circle cx="92.91" cy="100.15" r="0.90" fill="#c6c6c6"/>
<circle cx="79.28" cy="100.83" r="0.90" fill="#c6c6c6"/>
<circle cx="83.40" cy="103.15" r="0.90" fill="#c6c6c6"/>
<circle cx="75.79" cy="106.51" r="0.90" fill="#c6c6c6"/>
<circle cx="91.29" cy="91.87" r="0.90" fill="#c6c6c6"/>
<circle cx="84.68" cy="103.82" r="0.90" fill="#c6c6c6"/>
<circle cx="79.11" cy="102.48" r="0.90" fill="#c6c6c6"/>
<circle cx="91.59" cy="93.78" r="0.90" fill="#c6c6c6"/>
<circle cx="80.87" cy="122.35" r="0.90" fill="#c6c6c6"/>
<circle cx="83.80" cy="110.74" r="0.90" fill="#c6c6c6"/>
<circle cx="77.56" cy="106.08" r="0.90" fill="#c6c6c6"/>
<circle cx="93.15" cy="99.73" r="0.90" fill="#c6c6c6"/>
<circle cx="94.65" cy="98.90" r="0.90" fill="#c6c6c6"/>
<circle cx="75.46" cy="118.97" r="0.90" fill="#c6c6c6"/>
<circle cx="81.18" cy="103.34" r="0.90" fill="#c6c6c6"/>
<circle cx="92.90" cy="102.42" r="0.90" fill="#c6c6c6"/>
<circle cx="93.75" cy="111.41" r="0.90" fill="#c6c6c6"/>
<circle cx="83.39" cy="94.15" r="0.90" fill="#c6c6c6"/>
<circle cx="88.51" cy="95.82" r="0.90" fill="#c6c6c6"/>
<circle cx="67.12" cy="134.15" r="0.90" fill="#c6c6c6"/>
<circle cx="76.51" cy="102.71" r="0.90" fill="#c6c6c6"/>
<circle cx="99.34" cy="106.35" r="0.90" fill="#c6c6c6"/>
<circle cx="75.41" cy="123.20" r="0.90" fill="#c6c6c6"/>
<circle cx="76.26" cy="107.29" r="0.90" fill="#c6c6c6"/>
<circle cx="81.56" cy="91.40" r="0.90" fill="#c6c6c6"/>
<circle cx="91.05" cy="111.48" r="0.90" fill="#c6c6c6"/>
<circle cx="86.60" cy="108.67" r="0.90" fill="#c6c6c6"/>
<circle cx="91.68" cy="95.49" r="0.90" fill="#c6c6c6"/>
<circle cx="81.26" cy="101.28" r="0.90" fill="#c6c6c6"/>
<circle cx="89.66" cy="106.35" r="0.90" fill="#c6c6c6"/>
<circle cx="86.79" cy="100.36" r="0.90" fill="#c6c6c6"/>
<circle cx="81.54" cy="116.52" r="0.90" fill="#c6c6c6"/>
<circle cx="96.06" cy="101.99" r="0.90" fill="#c6c6c6"/>
<circle cx="79.02" cy="106.72" r="0.90" fill="#c6c6c6"/>
<circle cx="70.97" cy="115.06" r="0.90" fill="#c6c6c6"/>
<circle cx="72.01" cy="119.23" r="0.90" fill="#c6c6c6"/>
<circle cx="68.16" cy="124.16" r="0.90" fill="#c6c6c6"/>
<circle cx="92.63" cy="105.67" r="0.90" fill="#c6c6c6"/>
<circle cx="73.37" cy="97.27" r="0.90" fill="#c6c6c6"/>
<circle cx="78.71" cy="96.87" r="0.90" fill="#c6c6c6"/>
<circle cx="79.66" cy="125.24" r="0.90" fill="#c6c6c6"/>
<circle cx="101.30" cy="103.41" r="0.90" fill="#c6c6c6"/>
<circle cx="91.39" cy="92.88" r="0.90" fill="#c6c6c6"/>
<circle cx="72.48" cy="114.07" r="0.90" fill="#c6c6c6"/>
<circle cx="79.22" cy="105.19" r="0.90" fill="#c6c6c6"/>
<circle cx="84.35" cy="120.72" r="0.90" fill="#c6c6c6"/>
<circle cx="84.99" cy="100.52" r="0.90" fill="#c6c6c6"/>
<circle cx="81.78" cy="104.23" r="0.90" fill="#c6c6c6"/>
<circle cx="79.62" cy="111.40" r="0.90" fill="#c6c6c6"/>
<circle cx="87.65" cy="105.16" r="0.90" fill="#c6c6c6"/>
<circle cx="96.04" cy="92.75" r="0.90" fill="#c6c6c6"/>
<circle cx="92.15" cy="97.07" r="0.90" fill="#c6c6c6"/>
<circle cx="85.89" cy="118.87" r="0.90" fill="#c6c6c6"/>
<circle cx="94.15" cy="86.04" r="0.90" fill="#c6c6c6"/>
<circle cx="86.52" cy="109.63" r="0.90" fill="#c6c6c6"/>
<circle cx="84.15" cy="96.64" r="0.90" fill="#c6c6c6"/>
<circle cx="87.09" cy="116.45" r="0.90" fill="#c6c6c6"/>
<circle cx="82.92" cy="116.59" r="0.90" fill="#c6c6c6"/>
<circle cx="82.65" cy="117.98" r="0.90" fill="#c6c6c6"/>
<circle cx="76.54" cy="98.08" r="0.90" fill="#c6c6c6"/>
<circle cx="94.02" cy="118.81" r="0.90" fill="#c6c6c6"/>
<circle cx="75.58" cy="117.43" r="0.90" fill="#c6c6c6"/>
<circle cx="80.95" cy="123.66" r="0.90" fill="#c6c6c6"/>
<circle cx="92.56" cy="119.61" r="0.90" fill="#c6c6c6"/>
<circle cx="90.80" cy="98.04" r="0.90" fill="#c6c6c6"/>
<circle cx="81.15" cy="116.45" r="0.90" fill="#c6c6c6"/>
<circle cx="85.04" cy="106.51" r="0.90" fill="#c6c6c6"/>
<circle cx="65.44" cy="130.77" r="0.90" fill="#c6c6c6"/>
<circle cx="89.31" cy="106.70" r="0.90" fill="#c6c6c6"/>
<circle cx="80.72" cy="119.97" r="0.90" fill="#c6c6c6"/>
<circle cx="78.09" cy="119.15" r="0.90" fill="#c6c6c6"/>
<circle cx="109.86" cy="106.75" r="0.90" fill="#c6c6c6"/>
<circle cx="98.42" cy="96.04" r="0.90" fill="#c6c6c6"/>
<circle cx="86.43" cy="105.28" r="0.90" fill="#c6c6c6"/>
<circle cx="81.04" cy="94.44" r="0.90" fill="#c6c6c6"/>
<circle cx="89.12" cy="106.02" r="0.90" fill="#c6c6c6"/>
<circle cx="83.38" cy="106.90" r="0.90" fill="#c6c6c6"/>
<circle cx="74.13" cy="116.95" r="0.90" fill="#c6c6c6"/>
<circle cx="78.83" cy="105.26" r="0.90" fill="#c6c6c6"/>
<circle cx="89.95" cy="123.46" r="0.90" fill="#c6c6c6"/>
<circle cx="82.47" cy="99.70" r="0.90" fill="#c6c6c6"/>
<circle cx="72.74" cy="126.12" r="0.90" fill="#c6c6c6"/>
<circle cx="93.58" cy="104.59" r="0.90" fill="#c6c6c6"/>
<circle cx="80.40" cy="122.30" r="0.90" fill="#c6c6c6"/>
<circle cx="86.04" cy="112.83" r="0.90" fill="#c6c6c6"/>
<circle cx="86.43" cy="103.05" r="0.90" fill="#c6c6c6"/>
<circle cx="90.88" cy="107.94" r="0.90" fill="#c6c6c6"/>
<circle cx="79.73" cy="110.53" r="0.90" fill="#c6c6c6"/>
<circle cx="83.60" cy="107.04" r="0.90" fill="#c6c6c6"/>
<circle cx="79.68" cy="113.16" r="0.90" fill="#c6c6c6"/>
<circle cx="79.17" cy="116.85" r="0.90" fill="#c6c6c6"/>
<circle cx="85.92" cy="96.22" r="0.90" fill="#c6c6c6"/>
<circle cx="79.63" cy="105.18" r="0.90" fill="#c6c6c6"/>
<circle cx="87.63" cy="105.47" r="0.90" fill="#c6c6c6"/>
<circle cx="90.66" cy="110.34" r="0.90" fill="#c6c6c6"/>
<circle cx="89.61" cy="102.56" r="0.90" fill="#c6c6c6"/>
<circle cx="52.79" cy="121.93" r="0.90" fill="#c6c6c6"/>
<circle cx="89.94" cy="86.23" r="0.90" fill="#c6c6c6"/>
<circle cx="74.86" cy="112.51" r="0.90" fill="#c6c6c6"/>
<circle cx="87.69" cy="115.97" r="0.90" fill="#c6c6c6"/>
<circle cx="95.40" cy="97.95" r="0.90" fill="#c6c6c6"/>
<circle cx="77.26" cy="123.85" r="0.90" fill="#c6c6c6"/>
<circle cx="80.70" cy="87.14" r="0.90" fill="#c6c6c6"/>
<circle cx="104.11" cy="121.80" r="0.90" fill="#c6c6c6"/>
<circle cx="67.93" cy="110.68" r="0.90" fill="#c6c6c6"/>
<circle cx="83.52" cy="114.97" r="0.90" fill="#c6c6c6"/>
<circle cx="89.99" cy="104.33" r="0.90" fill="#c6c6c6"/>
<circle cx="87.11" cy="104.24" r="0.90" fill="#c6c6c6"/>
<circle cx="74.59" cy="100.75" r="0.90" fill="#c6c6c6"/>
<circle cx="80.31" cy="99.44" r="0.90" fill="#c6c6c6"/>
<circle cx="90.79" cy="104.47" r="0.90" fill="#c6c6c6"/>
<circle cx="85.76" cy="108.01" r="0.90" fill="#c6c6c6"/>
<circle cx="67.74" cy="120.48" r="0.90" fill="#c6c6c6"/>
<circle cx="88.40" cy="121.90" r="0.90" fill="#c6c6c6"/>
<circle cx="70.92" cy="105.03" r="0.90" fill="#c6c6c6"/>
<circle cx="91.86" cy="119.38" r="0.90" fill="#c6c6c6"/>
<circle cx="88.69" cy="106.46" r="0.90" fill="#c6c6c6"/>
<circle cx="93.39" cy="106.61" r="0.90" fill="#c6c6c6"/>
<circle cx="82.46" cy="116.69" r="0.90" fill="#c6c6c6"/>
<circle cx="86.13" cy="108.61" r="0.90" fill="#c6c6c6"/>
<circle cx="78.51" cy="114.88" r="0.90" fill="#c6c6c6"/>
<circle cx="77.61" cy="105.87" r="0.90" fill="#c6c6c6"/>
<circle cx="75.07" cy="128.59" r="0.90" fill="#c6c6c6"/>
<circle cx="75.68" cy="102.41" r="0.90" fill="#c6c6c6"/>
<circle cx="79.85" cy="104.43" r="0.90" fill="#c6c6c6"/>
<circle cx="91.19" cy="109.63" r="0.90" fill="#c6c6c6"/>
<circle cx="91.38" cy="99.57" r="0.90" fill="#c6c6c6"/>
<circle cx="84.08" cy="115.40" r="0.90" fill="#c6c6c6"/>
<circle cx="83.92" cy="121.15" r="0.90" fill="#c6c6c6"/>
<circle cx="81.96" cy="115.33" r="0.90" fill="#c6c6c6"/>
<circle cx="88.48" cy="102.75" r="0.90" fill="#c6c6c6"/>
<circle cx="78.61" cy="102.95" r="0.90" fill="#c6c6c6"/>
<circle cx="95.38" cy="101.73" r="0.90" fill="#c6c6c6"/>
<circle cx="77.70" cy="106.98" r="0.90" fill="#c6c6c6"/>
<circle cx="62.13" cy="126.11" r="0.90" fill="#c6c6c6"/>
<circle cx="89.80" cy="85.73" r="0.90" fill="#c6c6c6"/>
<circle cx="77.72" cy="96.91" r="0.90" fill="#c6c6c6"/>
<circle cx="105.79" cy="78.22" r="0.90" fill="#c6c6c6"/>
<circle cx="62.86" cy="109.15" r="0.90" fill="#c6c6c6"/>
<circle cx="86.22" cy="97.36" r="0.90" fill="#c6c6c6"/>
<circle cx="82.84" cy="115.22" r="0.90" fill="#c6c6c6"/>
<circle cx="82.38" cy="94.63" r="0.90" fill="#c6c6c6"/>
<circle cx="92.17" cy="107.00" r="0.90" fill="#c6c6c6"/>
<circle cx="87.97" cy="97.88" r="0.90" fill="#c6c6c6"/>
<circle cx="89.67" cy="105.89" r="0.90" fill="#c6c6c6"/>
<circle cx="78.42" cy="118.88" r="0.90" fill="#c6c6c6"/>
<circle cx="80.45" cy="115.92" r="0.90" fill="#c6c6c6"/>
<circle cx="69.96" cy="130.10" r="0.90" fill="#c6c6c6"/>
<circle cx="92.52" cy="114.99" r="0.90" fill="#c6c6c6"/>
<circle cx="72.40" cy="115.26" r="0.90" fill="#c6c6c6"/>
<circle cx="97.76" cy="88.65" r="0.90" fill="#c6c6c6"/>
<circle cx="80.65" cy="120.58" r="0.90" fill="#c6c6c6"/>
<circle cx="79.51" cy="119.98" r="0.90" fill="#c6c6c6"/>
<circle cx="79.39" cy="106.30" r="0.90" fill="#c6c6c6"/>
<circle cx="74.65" cy="121.33" r="0.90" fill="#c6c6c6"/>
<circle cx="82.05" cy="109.88" r="0.90" fill="#c6c6c6"/>
<circle cx="77.38" cy="119.95" r="0.90" fill="#c6c6c6"/>
<circle cx="74.03" cy="121.40" r="0.90" fill="#c6c6c6"/>
<circle cx="89.27" cy="108.12" r="0.90" fill="#c6c6c6"/>
<circle cx="55.78" cy="117.72" r="0.90" fill="#c6c6c6"/>
<circle cx="83.81" cy="117.30" r="0.90" fill="#c6c6c6"/>
<circle cx="82.09" cy="139.59" r="0.90" fill="#c6c6c6"/>
<circle cx="69.17" cy="105.04" r="0.90" fill="#c6c6c6"/>
<circle cx="104.15" cy="76.05" r="0.90" fill="#c6c6c6"/>
<circle cx="77.65" cy="111.62" r="0.90" fill="#c6c6c6"/>
<circle cx="91.64" cy="116.63" r="0.90" fill="#c6c6c6"/>
<circle cx="100.56" cy="106.78" r="0.90" fill="#c6c6c6"/>
<circle cx="87.70" cy="117.99" r="0.90" fill="#c6c6c6"/>
<circle cx="87.82" cy="106.67" r="0.90" fill="#c6c6c6"/>
<circle cx="94.45" cy="114.39" r="0.90" fill="#c6c6c6"/>
<circle cx="84.34" cy="90.31" r="0.90" fill="#c6c6c6"/>
<circle cx="73.38" cy="110.81" r="0.90" fill="#c6c6c6"/>
<circle cx="88.49" cy="111.08" r="0.90" fill="#c6c6c6"/>
<circle cx="81.95" cy="95.62" r="0.90" fill="#c6c6c6"/>
<circle cx="95.00" cy="96.98" r="0.90" fill="#c6c6c6"/>
<circle cx="86.91" cy="118.28" r="0.90" fill="#c6c6c6"/>
<circle cx="85.28" cy="90.03" r="0.90" fill="#c6c6c6"/>
<circle cx="94.20" cy="116.59" r="0.90" fill="#c6c6c6"/>
<circle cx="65.20" cy="125.36" r="0.90" fill="#c6c6c6"/>
<circle cx="85.96" cy="113.00" r="0.90" fill="#c6c6c6"/>
<circle cx="81.58" cy="106.47" r="0.90" fill="#c6c6c6"/>
<circle cx="92.75" cy="101.75" r="0.90" fill="#c6c6c6"/>
<circle cx="96.05" cy="116.25" r="0.90" fill="#c6c6c6"/>
<circle cx="88.77" cy="101.76" r="0.90" fill="#c6c6c6"/>
<circle cx="70.60" cy="103.35" r="0.90" fill="#c6c6c6"/>
<circle cx="69.58" cy="130.80" r="0.90" fill="#c6c6c6"/>
<circle cx="109.24" cy="82.01" r="0.90" fill="#c6c6c6"/>
<circle cx="87.93" cy="92.93" r="0.90" fill="#c6c6c6"/>
<circle cx="95.12" cy="113.83" r="0.90" fill="#c6c6c6"/>
<circle cx="88.93" cy="91.92" r="0.90" fill="#c6c6c6"/>
<circle cx="82.94" cy="108.42" r="0.90" fill="#c6c6c6"/>
<circle cx="80.11" cy="103.35" r="0.90" fill="#c6c6c6"/>
<circle cx="79.27" cy="117.01" r="0.90" fill="#c6c6c6"/>
<circle cx="73.01" cy="123.80" r="0.90" fill="#c6c6c6"/>
<circle cx="86.47" cy="102.52" r="0.90" fill="#c6c6c6"/>
<circle cx="80.82" cy="120.79" r="0.90" fill="#c6c6c6"/>
<circle cx="87.60" cy="103.05" r="0.90" fill="#c6c6c6"/>
<circle cx="96.30" cy="106.89" r="0.90" fill="#c6c6c6"/>
<circle cx="80.58" cy="105.30" r="0.90" fill="#c6c6c6"/>
<circle cx="98.66" cy="101.15" r="0.90" fill="#c6c6c6"/>
<circle cx="83.66" cy="118.16" r="0.90" fill="#c6c6c6"/>
<circle cx="80.90" cy="100.77" r="0.90" fill="#c6c6c6"/>
<circle cx="92.38" cy="92.86" r="0.90" fill="#c6c6c6"/>
<circle cx="69.10" cy="108.23" r="0.90" fill="#c6c6c6"/>
<circle cx="75.79" cy="107.07" r="0.90" fill="#c6c6c6"/>
<circle cx="62.30" cy="121.30" r="0.90" fill="#c6c6c6"/>
<circle cx="76.18" cy="100.03" r="0.90" fill="#c6c6c6"/>
<circle cx="85.57" cy="94.68" r="0.90" fill="#c6c6c6"/>
<circle cx="80.32" cy="90.82" r="0.90" fill="#c6c6c6"/>
<circle cx="80.28" cy="91.54" r="0.90" fill="#c6c6c6"/>
<circle cx="79.87" cy="120.66" r="0.90" fill="#c6c6c6"/>
<circle cx="92.83" cy="107.81" r="0.90" fill="#c6c6c6"/>
<circle cx="83.89" cy="122.16" r="0.90" fill="#c6c6c6"/>
<circle cx="81.21" cy="108.94" r="0.90" fill="#c6c6c6"/>
<circle cx="77.83" cy="107.98" r="0.90" fill="#c6c6c6"/>
<circle cx="62.90" cy="111.00" r="0.90" fill="#c6c6c6"/>
<circle cx="80.60" cy="95.62" r="0.90" fill="#c6c6c6"/>
<circle cx="81.15" cy="116.72" r="0.90" fill="#c6c6c6"/>
<circle cx="80.22" cy="107.83" r="0.90" fill="#c6c6c6"/>
<circle cx="90.02" cy="109.97" r="0.90" fill="#c6c6c6"/>
<circle cx="76.96" cy="108.04" r="0.90" fill="#c6c6c6"/>
<circle cx="92.18" cy="121.72" r="0.90" fill="#c6c6c6"/>
<circle cx="74.59" cy="120.44" r="0.90" fill="#c6c6c6"/>
<circle cx="100.47" cy="87.26" r="0.90" fill="#c6c6c6"/>
<circle cx="91.92" cy="99.30" r="0.90" fill="#c6c6c6"/>
<circle cx="73.93" cy="102.70" r="0.90" fill="#c6c6c6"/>
<circle cx="80.27" cy="118.60" r="0.90" fill="#c6c6c6"/>
<circle cx="102.62" cy="113.10" r="0.90" fill="#c6c6c6"/>
<circle cx="97.43" cy="99.27" r="0.90" fill="#c6c6c6"/>
<circle cx="75.78" cy="111.21" r="0.90" fill="#c6c6c6"/>
<circle cx="76.52" cy="110.73" r="0.90" fill="#c6c6c6"/>
<circle cx="78.38" cy="123.58" r="0.90" fill="#c6c6c6"/>
<circle cx="109.41" cy="99.89" r="0.90" fill="#c6c6c6"/>
<circle cx="93.72" cy="103.79" r="0.90" fill="#c6c6c6"/>
<circle cx="90.80" cy="117.62" r="0.90" fill="#c6c6c6"/>
<circle cx="74.64" cy="146.69" r="0.90" fill="#c6c6c6"/>
<circle cx="93.87" cy="98.74" r="0.90" fill="#c6c6c6"/>
<circle cx="73.38" cy="105.87" r="0.90" fill="#c6c6c6"/>
<circle cx="90.02" cy="75.75" r="0.90" fill="#c6c6c6"/>
<circle cx="86.67" cy="97.87" r="0.90" fill="#c6c6c6"/>
<circle cx="90.22" cy="97.41" r="0.90" fill="#c6c6c6"/>
<circle cx="84.22" cy="112.63" r="0.90" fill="#c6c6c6"/>
<circle cx="91.13" cy="92.23" r="0.90" fill="#c6c6c6"/>
<circle cx="73.47" cy="125.74" r="0.90" fill="#c6c6c6"/>
<circle cx="84.06" cy="90.35" r="0.90" fill="#c6c6c6"/>
<circle cx="82.49" cy="126.52" r="0.90" fill="#c6c6c6"/>
<circle cx="92.05" cy="96.57" r="0.90" fill="#c6c6c6"/>
<circle cx="102.74" cy="96.49" r="0.90" fill="#c6c6c6"/>
<circle cx="102.99" cy="105.56" r="0.90" fill="#c6c6c6"/>
<circle cx="92.96" cy="102.34" r="0.90" fill="#c6c6c6"/>
<circle cx="73.24" cy="117.16" r="0.90" fill="#c6c6c6"/>
<circle cx="96.97" cy="90.25" r="0.90" fill="#c6c6c6"/>
<circle cx="80.90" cy="99.02" r="0.90" fill="#c6c6c6"/>
<circle cx="92.95" cy="94.64" r="0.90" fill="#c6c6c6"/>
<circle cx="87.16" cy="103.76" r="0.90" fill="#c6c6c6"/>
<circle cx="76.69" cy="113.18" r="0.90" fill="#c6c6c6"/>
<circle cx="85.62" cy="115.10" r="0.90" fill="#c6c6c6"/>
<circle cx="81.76" cy="108.08" r="0.90" fill="#c6c6c6"/>
<circle cx="86.48" cy="96.54" r="0.90" fill="#c6c6c6"/>
<circle cx="74.80" cy="117.51" r="0.90" fill="#c6c6c6"/>
<circle cx="87.00" cy="110.74" r="0.90" fill="#c6c6c6"/>
<circle cx="87.59" cy="111.32" r="0.90" fill="#c6c6c6"/>
<circle cx="95.56" cy="104.59" r="0.90" fill="#c6c6c6"/>
<circle cx="73.78" cy="106.50" r="0.90" fill="#c6c6c6"/>
<circle cx="100.11" cy="119.26" r="0.90" fill="#c6c6c6"/>
<circle cx="83.25" cy="108.23" r="0.90" fill="#c6c6c6"/>
<circle cx="94.18" cy="87.93" r="0.90" fill="#c6c6c6"/>
<circle cx="82.99" cy="124.80" r="0.90" fill="#c6c6c6"/>
<circle cx="90.75" cy="94.72" r="0.90" fill="#c6c6c6"/>
<circle cx="88.84" cy="105.11" r="0.90" fill="#c6c6c6"/>
<circle cx="76.84" cy="87.82" r="0.90" fill="#c6c6c6"/>
<circle cx="73.20" cy="129.56" r="0.90" fill="#c6c6c6"/>
<circle cx="93.65" cy="100.41" r="0.90" fill="#c6c6c6"/>
<circle cx="90.78" cy="101.25" r="0.90" fill="#c6c6c6"/>
<circle cx="100.31" cy="85.33" r="0.90" fill="#c6c6c6"/>
<circle cx="79.31" cy="100.96" r="0.90" fill="#c6c6c6"/>
<circle cx="73.43" cy="131.44" r="0.90" fill="#c6c6c6"/>
<circle cx="95.78" cy="106.48" r="0.90" fill="#c6c6c6"/>
<circle cx="64.32" cy="119.36" r="0.90" fill="#c6c6c6"/>
<circle cx="78.25" cy="106.52" r="0.90" fill="#c6c6c6"/>
<circle cx="83.94" cy="116.31" r="0.90" fill="#c6c6c6"/>
<circle cx="77.78" cy="104.16" r="0.90" fill="#c6c6c6"/>
<circle cx="75.76" cy="111.68" r="0.90" fill="#c6c6c6"/>
<circle cx="75.21" cy="108.73" r="0.90" fill="#c6c6c6"/>
<circle cx="101.22" cy="93.47" r="0.90" fill="#c6c6c6"/>
<circle cx="94.95" cy="98.04" r="0.90" fill="#c6c6c6"/>
<circle cx="75.45" cy="116.18" r="0.90" fill="#c6c6c6"/>
<circle cx="85.15" cy="103.48" r="0.90" fill="#c6c6c6"/>
<circle cx="78.82" cy="105.14" r="0.90" fill="#c6c6c6"/>
<circle cx="77.73" cy="111.25" r="0.90" fill="#c6c6c6"/>
<circle cx="84.38" cy="119.91" r="0.90" fill="#c6c6c6"/>
<circle cx="93.89" cy="102.66" r="0.90" fill="#c6c6c6"/>
<circle cx="85.50" cy="108.02" r="0.90" fill="#c6c6c6"/>
<circle cx="64.73" cy="133.06" r="0.90" fill="#c6c6c6"/>
<circle cx="76.09" cy="102.80" r="0.90" fill="#c6c6c6"/>
<circle cx="79.08" cy="105.06" r="0.90" fill="#c6c6c6"/>
<circle cx="74.83" cy="121.98" r="0.90" fill="#c6c6c6"/>
<circle cx="80.08" cy="99.97" r="0.90" fill="#c6c6c6"/>
<circle cx="68.95" cy="118.42" r="0.90" fill="#c6c6c6"/>
<circle cx="88.29" cy="104.82" r="0.90" fill="#c6c6c6"/>
<circle cx="84.33" cy="100.50" r="0.90" fill="#c6c6c6"/>
<circle cx="87.19" cy="116.93" r="0.90" fill="#c6c6c6"/>
<circle cx="90.43" cy="112.90" r="0.90" fill="#c6c6c6"/>
<circle cx="81.30" cy="95.38" r="0.90" fill="#c6c6c6"/>
<circle cx="107.39" cy="81.26" r="0.90" fill="#c6c6c6"/>
<circle cx="88.48" cy="113.91" r="0.90" fill="#c6c6c6"/>
<circle cx="77.36" cy="95.36" r="0.90" fill="#c6c6c6"/>
<circle cx="87.59" cy="120.53" r="0.90" fill="#c6c6c6"/>
<circle cx="99.20" cy="94.45" r="0.90" fill="#c6c6c6"/>
<circle cx="96.84" cy="97.50" r="0.90" fill="#c6c6c6"/>
<circle cx="64.28" cy="126.59" r="0.90" fill="#c6c6c6"/>
<circle cx="83.15" cy="110.67" r="0.90" fill="#c6c6c6"/>
<circle cx="98.64" cy="107.35" r="0.90" fill="#c6c6c6"/>
<circle cx="83.56" cy="109.33" r="0.90" fill="#c6c6c6"/>
<circle cx="83.63" cy="119.13" r="0.90" fill="#c6c6c6"/>
<circle cx="73.02" cy="140.38" r="0.90" fill="#c6c6c6"/>
<circle cx="87.60" cy="108.61" r="0.90" fill="#c6c6c6"/>
<circle cx="86.38" cy="117.84" r="0.90" fill="#c6c6c6"/>
<circle cx="84.51" cy="118.02" r="0.90" fill="#c6c6c6"/>
<circle cx="75.00" cy="110.01" r="0.90" fill="#c6c6c6"/>
<circle cx="90.44" cy="99.19" r="0.90" fill="#c6c6c6"/>
<circle cx="84.08" cy="112.37" r="0.90" fill="#c6c6c6"/>
<circle cx="97.56" cy="88.68" r="0.90" fill="#c6c6c6"/>
<circle cx="78.54" cy="122.41" r="0.90" fill="#c6c6c6"/>
<circle cx="87.95" cy="103.18" r="0.90" fill="#c6c6c6"/>
<circle cx="75.93" cy="89.96" r="0.90" fill="#c6c6c6"/>
<circle cx="64.91" cy="127.24" r="0.90" fill="#c6c6c6"/>
<circle cx="86.74" cy="97.09" r="0.90" fill="#c6c6c6"/>
<circle cx="67.12" cy="122.03" r="0.90" fill="#c6c6c6"/>
<circle cx="97.92" cy="86.87" r="0.90" fill="#c6c6c6"/>
<circle cx="82.11" cy="109.18" r="0.90" fill="#c6c6c6"/>
<circle cx="76.19" cy="108.79" r="0.90" fill="#c6c6c6"/>
<circle cx="74.67" cy="133.98" r="0.90" fill="#c6c6c6"/>
<circle cx="56.95" cy="123.45" r="0.90" fill="#c6c6c6"/>
<circle cx="60.62" cy="101.76" r="0.90" fill="#c6c6c6"/>
<circle cx="107.78" cy="76.00" r="0.90" fill="#c6c6c6"/>
<circle cx="96.37" cy="80.19" r="0.90" fill="#c6c6c6"/>
<circle cx="89.33" cy="89.28" r="0.90" fill="#c6c6c6"/>
<circle cx="93.01" cy="88.68" r="0.90" fill="#c6c6c6"/>
<circle cx="66.14" cy="131.24" r="0.90" fill="#c6c6c6"/>
<circle cx="66.46" cy="103.49" r="0.90" fill="#c6c6c6"/>
<circle cx="93.70" cy="117.36" r="0.90" fill="#c6c6c6"/>
<circle cx="66.64" cy="129.42" r="0.90" fill="#c6c6c6"/>
<circle cx="100.33" cy="100.96" r="0.90" fill="#c6c6c6"/>
<circle cx="80.17" cy="123.55" r="0.90" fill="#c6c6c6"/>
<circle cx="82.36" cy="79.90" r="0.90" fill="#c6c6c6"/>
<circle cx="72.07" cy="122.07" r="0.90" fill="#c6c6c6"/>
<circle cx="115.28" cy="76.69" r="0.90" fill="#c6c6c6"/>
<circle cx="63.92" cy="100.17" r="0.90" fill="#c6c6c6"/>
<circle cx="61.69" cy="111.32" r="0.90" fill="#c6c6c6"/>
<circle cx="38.79" cy="153.59" r="0.90" fill="#c6c6c6"/>
<circle cx="101.14" cy="109.39" r="0.90" fill="#c6c6c6"/>
<circle cx="71.43" cy="114.92" r="0.90" fill="#c6c6c6"/>
<circle cx="84.58" cy="116.80" r="0.90" fill="#c6c6c6"/>
<circle cx="72.29" cy="82.12" r="0.90" fill="#c6c6c6"/>
<circle cx="111.58" cy="86.11" r="0.90" fill="#c6c6c6"/>
<circle cx="63.71" cy="130.23" r="0.90" fill="#c6c6c6"/>
<circle cx="79.28" cy="102.26" r="0.90" fill="#c6c6c6"/>
<circle cx="113.55" cy="100.67" r="0.90" fill="#c6c6c6"/>
<circle cx="87.22" cy="114.53" r="0.90" fill="#c6c6c6"/>
<circle cx="87.10" cy="119.38" r="0.90" fill="#c6c6c6"/>
<circle cx="91.39" cy="82.66" r="0.90" fill="#c6c6c6"/>
<circle cx="77.39" cy="118.45" r="0.90" fill="#c6c6c6"/>
<circle cx="86.64" cy="131.22" r="0.90" fill="#c6c6c6"/>
<circle cx="117.33" cy="113.58" r="0.90" fill="#c6c6c6"/>
<circle cx="78.05" cy="128.34" r="0.90" fill="#c6c6c6"/>
<circle cx="111.70" cy="101.12" r="0.90" fill="#c6c6c6"/>
<circle cx="75.40" cy="78.60" r="0.90" fill="#c6c6c6"/>
<circle cx="82.38" cy="123.82" r="0.90" fill="#c6c6c6"/>
<circle cx="84.44" cy="104.63" r="0.90" fill="#c6c6c6"/>
<circle cx="71.05" cy="119.51" r="0.90" fill="#c6c6c6"/>
<circle cx="80.75" cy="97.01" r="0.90" fill="#c6c6c6"/>
<circle cx="98.44" cy="84.52" r="0.90" fill="#c6c6c6"/>
<circle cx="82.33" cy="94.69" r="0.90" fill="#c6c6c6"/>
<circle cx="80.72" cy="88.95" r="0.90" fill="#c6c6c6"/>
<circle cx="91.87" cy="111.69" r="0.90" fill="#c6c6c6"/>
<circle cx="106.86" cy="122.98" r="0.90" fill="#c6c6c6"/>
<circle cx="67.01" cy="133.23" r="0.90" fill="#c6c6c6"/>
<circle cx="82.18" cy="132.29" r="0.90" fill="#c6c6c6"/>
<circle cx="62.80" cy="155.91" r="0.90" fill="#c6c6c6"/>
<circle cx="86.62" cy="121.14" r="0.90" fill="#c6c6c6"/>
<circle cx="124.21" cy="70.43" r="0.90" fill="#c6c6c6"/>
<circle cx="63.85" cy="95.94" r="0.90" fill="#c6c6c6"/>
<circle cx="86.47" cy="87.08" r="0.90" fill="#c6c6c6"/>
<circle cx="64.47" cy="98.55" r="0.90" fill="#c6c6c6"/>
<circle cx="104.43" cy="104.11" r="0.90" fill="#c6c6c6"/>
<circle cx="69.19" cy="124.21" r="0.90" fill="#c6c6c6"/>
<circle cx="89.33" cy="60.79" r="0.90" fill="#c6c6c6"/>
<circle cx="117.28" cy="61.10" r="0.90" fill="#c6c6c6"/>
<circle cx="80.60" cy="116.53" r="0.90" fill="#c6c6c6"/>
<circle cx="91.22" cy="109.28" r="0.90" fill="#c6c6c6"/>
<circle cx="76.10" cy="116.98" r="0.90" fill="#c6c6c6"/>
<circle cx="99.85" cy="100.37" r="0.90" fill="#c6c6c6"/>
<circle cx="88.86" cy="110.45" r="0.90" fill="#c6c6c6"/>
<circle cx="81.04" cy="116.31" r="0.90" fill="#c6c6c6"/>
<circle cx="107.40" cy="90.37" r="0.90" fill="#c6c6c6"/>
<circle cx="111.59" cy="95.34" r="0.90" fill="#c6c6c6"/>
<circle cx="103.78" cy="122.34" r="0.90" fill="#c6c6c6"/>
<circle cx="77.28" cy="113.55" r="0.90" fill="#c6c6c6"/>
<circle cx="73.10" cy="117.02" r="0.90" fill="#c6c6c6"/>
<circle cx="67.85" cy="121.01" r="0.90" fill="#c6c6c6"/>
<circle cx="72.50" cy="115.32" r="0.90" fill="#c6c6c6"/>
<circle cx="79.21" cy="129.77" r="0.90" fill="#c6c6c6"/>
<circle cx="77.17" cy="111.98" r="0.90" fill="#c6c6c6"/>
<circle cx="61.54" cy="119.94" r="0.90" fill="#c6c6c6"/>
<circle cx="107.16" cy="98.99" r="0.90" fill="#c6c6c6"/>
<circle cx="94.47" cy="90.79" r="0.90" fill="#c6c6c6"/>
<circle cx="70.09" cy="92.27" r="0.90" fill="#c6c6c6"/>
<circle cx="129.94" cy="100.30" r="0.90" fill="#c6c6c6"/>
<circle cx="123.36" cy="98.33" r="0.90" fill="#c6c6c6"/>
<circle cx="110.93" cy="126.04" r="0.90" fill="#c6c6c6"/>
<circle cx="105.10" cy="93.46" r="0.90" fill="#c6c6c6"/>
<circle cx="61.39" cy="137.02" r="0.90" fill="#c6c6c6"/>
<circle cx="65.61" cy="135.93" r="0.90" fill="#c6c6c6"/>
<circle cx="91.40" cy="107.42" r="0.90" fill="#c6c6c6"/>
<circle cx="39.24" cy="140.63" r="0.90" fill="#c6c6c6"/>
<circle cx="93.00" cy="101.52" r="0.90" fill="#c6c6c6"/>
<circle cx="115.11" cy="124.05" r="0.90" fill="#c6c6c6"/>
<circle cx="88.95" cy="104.98" r="0.90" fill="#c6c6c6"/>
<circle cx="97.61" cy="125.19" r="0.90" fill="#c6c6c6"/>
<circle cx="60.92" cy="125.22" r="0.90" fill="#c6c6c6"/>
<circle cx="85.93" cy="140.80" r="0.90" fill="#c6c6c6"/>
<circle cx="91.16" cy="104.35" r="0.90" fill="#c6c6c6"/>
<circle cx="97.82" cy="148.54" r="0.90" fill="#c6c6c6"/>
<circle cx="93.62" cy="119.21" r="0.90" fill="#c6c6c6"/>
<circle cx="75.93" cy="98.81" r="0.90" fill="#c6c6c6"/>
<circle cx="115.11" cy="87.29" r="0.90" fill="#c6c6c6"/>
<circle cx="82.58" cy="85.13" r="0.90" fill="#c6c6c6"/>
<circle cx="68.39" cy="120.53" r="0.90" fill="#c6c6c6"/>
<circle cx="75.42" cy="131.70" r="0.90" fill="#c6c6c6"/>
<circle cx="88.06" cy="68.43" r="0.90" fill="#c6c6c6"/>
<circle cx="89.03" cy="96.29" r="0.90" fill="#c6c6c6"/>
<circle cx="83.98" cy="87.65" r="0.90" fill="#c6c6c6"/>
<circle cx="87.81" cy="122.52" r="0.90" fill="#c6c6c6"/>
<circle cx="86.35" cy="80.51" r="0.90" fill="#c6c6c6"/>
<circle cx="83.01" cy="86.89" r="0.90" fill="#c6c6c6"/>
<circle cx="83.28" cy="71.44" r="0.90" fill="#c6c6c6"/>
<circle cx="89.65" cy="93.04" r="0.90" fill="#c6c6c6"/>
<circle cx="79.31" cy="95.80" r="0.90" fill="#c6c6c6"/>
<circle cx="80.45" cy="137.91" r="0.90" fill="#c6c6c6"/>
<circle cx="90.03" cy="127.21" r="0.90" fill="#c6c6c6"/>
<circle cx="111.30" cy="77.72" r="0.90" fill="#c6c6c6"/>
<circle cx="84.86" cy="95.23" r="0.90" fill="#c6c6c6"/>
<circle cx="37.68" cy="107.43" r="0.90" fill="#c6c6c6"/>
<circle cx="72.81" cy="102.69" r="0.90" fill="#c6c6c6"/>
<circle cx="130.89" cy="110.66" r="0.90" fill="#c6c6c6"/>
<circle cx="77.06" cy="106.25" r="0.90" fill="#c6c6c6"/>
<circle cx="92.15" cy="134.89" r="0.90" fill="#c6c6c6"/>
<circle cx="67.71" cy="90.60" r="0.90" fill="#c6c6c6"/>
<circle cx="73.67" cy="104.32" r="0.90" fill="#c6c6c6"/>
<circle cx="59.79" cy="139.61" r="0.90" fill="#c6c6c6"/>
<circle cx="51.60" cy="122.60" r="0.90" fill="#c6c6c6"/>
<circle cx="105.47" cy="94.06" r="0.90" fill="#c6c6c6"/>
<circle cx="79.60" cy="106.60" r="0.90" fill="#c6c6c6"/>
<circle cx="93.02" cy="108.52" r="0.90" fill="#c6c6c6"/>
<circle cx="94.58" cy="66.13" r="0.90" fill="#c6c6c6"/>
<circle cx="124.76" cy="95.01" r="0.90" fill="#c6c6c6"/>
<circle cx="61.75" cy="86.17" r="0.90" fill="#c6c6c6"/>
<circle cx="102.32" cy="75.18" r="0.90" fill="#c6c6c6"/>
<circle cx="95.50" cy="105.85" r="0.90" fill="#c6c6c6"/>
<circle cx="102.23" cy="77.02" r="0.90" fill="#c6c6c6"/>
<circle cx="105.83" cy="115.63" r="0.90" fill="#c6c6c6"/>
<circle cx="103.19" cy="103.62" r="0.90" fill="#c6c6c6"/>
<rect x="33.5" y="22.5" width="145.0" height="146.0" fill="none" stroke="#231f20" stroke-width="1.05"/>
<line x1="30.50" y1="23.10" x2="33.50" y2="23.10" stroke="#231f20" stroke-width="0.9"/>
<text x="28.40" y="25.60" font-size="6.9" fill="#2b2b2b" text-anchor="end">4</text>
<line x1="30.50" y1="63.70" x2="33.50" y2="63.70" stroke="#231f20" stroke-width="0.9"/>
<text x="28.40" y="66.20" font-size="6.9" fill="#2b2b2b" text-anchor="end">2</text>
<line x1="30.50" y1="104.30" x2="33.50" y2="104.30" stroke="#231f20" stroke-width="0.9"/>
<text x="28.40" y="106.80" font-size="6.9" fill="#2b2b2b" text-anchor="end">0</text>
<line x1="30.50" y1="144.90" x2="33.50" y2="144.90" stroke="#231f20" stroke-width="0.9"/>
<text x="28.40" y="147.40" font-size="6.9" fill="#2b2b2b" text-anchor="end">−2</text>
<line x1="44.00" y1="168.50" x2="44.00" y2="171.30" stroke="#231f20" stroke-width="0.9"/>
<text x="44.00" y="180.30" font-size="6.6" fill="#2b2b2b" text-anchor="middle">−2.5</text>
<line x1="87.00" y1="168.50" x2="87.00" y2="171.30" stroke="#231f20" stroke-width="0.9"/>
<text x="87.00" y="180.30" font-size="6.6" fill="#2b2b2b" text-anchor="middle">0.0</text>
<line x1="130.00" y1="168.50" x2="130.00" y2="171.30" stroke="#231f20" stroke-width="0.9"/>
<text x="130.00" y="180.30" font-size="6.6" fill="#2b2b2b" text-anchor="middle">2.5</text>
<line x1="173.00" y1="168.50" x2="173.00" y2="171.30" stroke="#231f20" stroke-width="0.9"/>
<text x="173.00" y="180.30" font-size="6.6" fill="#2b2b2b" text-anchor="middle">5.0</text>
<text x="48.4" y="192" font-size="8.6" fill="#2b2b2b" textLength="116.2" lengthAdjust="spacingAndGlyphs">Replicate 1, log<tspan font-size="5.6" dy="1.6">2</tspan><tspan dy="-1.6">FC (VTP50469/DMSO)</tspan></text>
<text transform="translate(15.4,152.4) rotate(-90)" font-size="8.6" fill="#2b2b2b" textLength="116.7" lengthAdjust="spacingAndGlyphs">Replicate 2, log<tspan font-size="5.6" dy="1.6">2</tspan><tspan dy="-1.6">FC (VTP50469/DMSO)</tspan></text>
<text x="36.8" y="31.2" font-size="6.5" fill="#2b2b2b" textLength="57.6" lengthAdjust="spacingAndGlyphs">R = 0.6, <tspan font-style="italic">P</tspan> &lt; 2.2e-16</text>
<circle cx="171.90" cy="28.70" r="1.20" fill="#8e0c24"/>
<circle cx="142.90" cy="40.60" r="1.20" fill="#8e0c24"/>
<circle cx="128.00" cy="45.60" r="1.20" fill="#8e0c24"/>
<circle cx="121.50" cy="54.40" r="1.20" fill="#8e0c24"/>
<circle cx="127.60" cy="57.80" r="1.20" fill="#8e0c24"/>
<circle cx="129.20" cy="58.60" r="1.20" fill="#8e0c24"/>
<circle cx="113.20" cy="70.60" r="1.20" fill="#8e0c24"/>
<circle cx="110.80" cy="73.90" r="1.20" fill="#8e0c24"/>
<circle cx="115.00" cy="76.60" r="1.20" fill="#8e0c24"/>
<circle cx="121.50" cy="69.90" r="1.20" fill="#8e0c24"/>
<circle cx="124.20" cy="75.70" r="1.20" fill="#8e0c24"/>
<circle cx="119.90" cy="81.00" r="1.20" fill="#8e0c24"/>
<circle cx="126.60" cy="84.00" r="1.20" fill="#8e0c24"/>
<circle cx="107.40" cy="80.70" r="1.20" fill="#8e0c24"/>
<circle cx="100.30" cy="78.60" r="1.20" fill="#8e0c24"/>
<circle cx="106.70" cy="84.00" r="1.20" fill="#8e0c24"/>
<circle cx="118.80" cy="91.40" r="1.20" fill="#8e0c24"/>
<text x="147.00" y="30.70" font-size="6.2" fill="#c41230" textLength="19.90" lengthAdjust="spacingAndGlyphs">PCGF1</text>
<text x="140.80" y="38.20" font-size="6.2" fill="#c41230" textLength="17.70" lengthAdjust="spacingAndGlyphs">BCOR</text>
<text x="123.80" y="43.00" font-size="6.2" fill="#c41230" textLength="14.80" lengthAdjust="spacingAndGlyphs">RYBP</text>
<text x="110.00" y="52.60" font-size="6.2" fill="#c41230" textLength="16.90" lengthAdjust="spacingAndGlyphs">CHD8</text>
<text x="128.00" y="55.20" font-size="6.2" fill="#c41230" textLength="27.00" lengthAdjust="spacingAndGlyphs">L3MBTL3</text>
<text x="98.00" y="58.20" font-size="6.2" fill="#c41230" textLength="22.20" lengthAdjust="spacingAndGlyphs">KMT2D</text>
<text x="130.40" y="60.70" font-size="6.2" fill="#c41230" textLength="16.60" lengthAdjust="spacingAndGlyphs">EZH2</text>
<text x="88.60" y="64.00" font-size="6.2" fill="#c41230" textLength="16.80" lengthAdjust="spacingAndGlyphs">RCOR1</text>
<text x="113.00" y="65.50" font-size="6.2" fill="#c41230" textLength="24.30" lengthAdjust="spacingAndGlyphs">CREBBP</text>
<text x="79.80" y="69.00" font-size="6.2" fill="#c41230" textLength="19.50" lengthAdjust="spacingAndGlyphs">PCGF6</text>
<text x="124.60" y="70.90" font-size="6.2" fill="#c41230" textLength="20.40" lengthAdjust="spacingAndGlyphs">BAHD1</text>
<text x="75.80" y="74.50" font-size="6.2" fill="#c41230" textLength="21.50" lengthAdjust="spacingAndGlyphs">KDM2B</text>
<text x="130.40" y="76.40" font-size="6.2" fill="#c41230" textLength="22.30" lengthAdjust="spacingAndGlyphs">JARID2</text>
<text x="123.80" y="82.20" font-size="6.2" fill="#c41230" textLength="18.70" lengthAdjust="spacingAndGlyphs">SUZ12</text>
<text x="129.60" y="88.50" font-size="6.2" fill="#c41230" textLength="12.40" lengthAdjust="spacingAndGlyphs">EED</text>
<text x="127.00" y="93.90" font-size="6.2" fill="#c41230" textLength="19.30" lengthAdjust="spacingAndGlyphs">RING1</text>
<text x="111.70" y="100.10" font-size="6.2" fill="#c41230" textLength="22.50" lengthAdjust="spacingAndGlyphs">MLLT10</text>
<line x1="100.30" y1="78.60" x2="95.50" y2="74.50" stroke="#a8102a" stroke-width="0.6"/>
<line x1="107.40" y1="80.70" x2="101.50" y2="71.50" stroke="#a8102a" stroke-width="0.6"/>
<line x1="110.80" y1="73.90" x2="104.50" y2="64.80" stroke="#a8102a" stroke-width="0.6"/>
<line x1="113.20" y1="70.60" x2="109.50" y2="59.80" stroke="#a8102a" stroke-width="0.6"/>
<line x1="115.00" y1="76.60" x2="118.50" y2="66.80" stroke="#a8102a" stroke-width="0.6"/>
<line x1="106.70" y1="84.00" x2="126.90" y2="90.80" stroke="#a8102a" stroke-width="0.6"/>
<line x1="124.20" y1="75.70" x2="129.50" y2="75.50" stroke="#a8102a" stroke-width="0.6"/>
<line x1="127.60" y1="57.80" x2="129.50" y2="56.50" stroke="#a8102a" stroke-width="0.6"/>
<circle cx="53.00" cy="128.00" r="1.35" fill="#1b2f5e"/>
<circle cx="57.70" cy="128.50" r="1.35" fill="#1b2f5e"/>
<circle cx="63.00" cy="130.00" r="1.35" fill="#1b2f5e"/>
<circle cx="65.70" cy="131.50" r="1.35" fill="#1b2f5e"/>
<circle cx="57.00" cy="133.00" r="1.35" fill="#1b2f5e"/>
<circle cx="54.60" cy="135.40" r="1.35" fill="#1b2f5e"/>
<circle cx="60.00" cy="134.20" r="1.35" fill="#1b2f5e"/>
<circle cx="62.30" cy="135.40" r="1.35" fill="#1b2f5e"/>
<circle cx="65.00" cy="135.40" r="1.35" fill="#1b2f5e"/>
<circle cx="66.50" cy="135.70" r="1.35" fill="#1b2f5e"/>
<circle cx="45.80" cy="136.20" r="1.35" fill="#1b2f5e"/>
<circle cx="48.80" cy="138.80" r="1.35" fill="#1b2f5e"/>
<circle cx="71.80" cy="140.80" r="1.35" fill="#1b2f5e"/>
<circle cx="57.70" cy="148.50" r="1.35" fill="#1b2f5e"/>
<circle cx="63.50" cy="147.70" r="1.35" fill="#1b2f5e"/>
<circle cx="55.40" cy="151.50" r="1.35" fill="#1b2f5e"/>
<circle cx="59.20" cy="150.80" r="1.35" fill="#1b2f5e"/>
<circle cx="77.00" cy="150.80" r="1.35" fill="#1b2f5e"/>
<circle cx="79.00" cy="157.70" r="1.35" fill="#1b2f5e"/>
<circle cx="40.00" cy="161.20" r="1.35" fill="#1b2f5e"/>
<circle cx="52.00" cy="131.00" r="1.35" fill="#1b2f5e"/>
<circle cx="60.00" cy="131.50" r="1.35" fill="#1b2f5e"/>
<circle cx="50.00" cy="133.00" r="1.35" fill="#1b2f5e"/>
<text x="49.20" y="143.80" font-size="6.4" fill="#2f5c98" textLength="22.00" lengthAdjust="spacingAndGlyphs">ZNF592</text>
<text x="73.80" y="143.80" font-size="6.4" fill="#2f5c98" textLength="15.40" lengthAdjust="spacingAndGlyphs">BRD4</text>
<text x="35.40" y="150.00" font-size="6.4" fill="#2f5c98" textLength="22.30" lengthAdjust="spacingAndGlyphs">JMJD1C</text>
<text x="66.20" y="149.70" font-size="6.4" fill="#2f5c98" textLength="14.60" lengthAdjust="spacingAndGlyphs">DPF2</text>
<text x="36.20" y="155.30" font-size="6.4" fill="#2f5c98" textLength="17.60" lengthAdjust="spacingAndGlyphs">BRPF1</text>
<text x="60.00" y="155.30" font-size="6.4" fill="#2f5c98" textLength="14.60" lengthAdjust="spacingAndGlyphs">CBX3</text>
<text x="77.00" y="155.30" font-size="6.4" fill="#2f5c98" textLength="20.00" lengthAdjust="spacingAndGlyphs">BAZ1B</text>
<text x="42.00" y="162.60" font-size="6.4" fill="#2f5c98" textLength="24.20" lengthAdjust="spacingAndGlyphs">MED13L</text>
<text x="70.30" y="163.80" font-size="6.4" fill="#2f5c98" textLength="24.30" lengthAdjust="spacingAndGlyphs">TBL1XR1</text>
<line x1="45.80" y1="136.20" x2="43.50" y2="142.00" stroke="#1b2f5e" stroke-width="0.6"/>
<text x="129.80" y="136.50" font-size="6.4" fill="#2b2b2b" textLength="28.80" lengthAdjust="spacingAndGlyphs">Screen hit</text>
<circle cx="131.00" cy="142.90" r="0.95" fill="#b01030"/>
<text x="135.00" y="145.20" font-size="6.4" fill="#2b2b2b" textLength="39.20" lengthAdjust="spacingAndGlyphs">Resistance hit</text>
<circle cx="131.00" cy="151.30" r="0.95" fill="#1b2f5e"/>
<text x="135.00" y="153.60" font-size="6.4" fill="#2b2b2b" textLength="32.00" lengthAdjust="spacingAndGlyphs">Synergy hit</text>
<circle cx="131.00" cy="159.60" r="0.95" fill="#c8c8c8"/>
<text x="135.00" y="161.90" font-size="6.4" fill="#2b2b2b" textLength="24.80" lengthAdjust="spacingAndGlyphs">Not a hit</text>
<text x="193.20" y="18.40" font-size="11.8" fill="#000" font-weight="bold">B</text>
<line x1="220.00" y1="98.90" x2="504.00" y2="98.90" stroke="#d4d4d4" stroke-width="0.6" stroke-dasharray="1,1.2"/>
<line x1="222.80" y1="81.00" x2="222.80" y2="115.00" stroke="#e2e2e2" stroke-width="0.85"/>
<rect x="221.55" y="89.70" width="2.50" height="17.60" fill="#f0f0f0"/>
<rect x="221.20" y="93.00" width="3.20" height="11.00" fill="#e2e2e2"/>
<line x1="221.00" y1="98.90" x2="224.60" y2="98.90" stroke="#cccccc" stroke-width="0.8"/>
<line x1="227.90" y1="82.00" x2="227.90" y2="116.00" stroke="#e2e2e2" stroke-width="0.85"/>
<rect x="226.65" y="89.70" width="2.50" height="17.60" fill="#f0f0f0"/>
<rect x="226.30" y="93.00" width="3.20" height="11.00" fill="#e2e2e2"/>
<line x1="226.10" y1="98.90" x2="229.70" y2="98.90" stroke="#cccccc" stroke-width="0.8"/>
<line x1="233.20" y1="81.00" x2="233.20" y2="112.00" stroke="#e2e2e2" stroke-width="0.85"/>
<rect x="231.95" y="89.70" width="2.50" height="17.60" fill="#f0f0f0"/>
<rect x="231.60" y="93.00" width="3.20" height="11.00" fill="#e2e2e2"/>
<line x1="231.40" y1="98.90" x2="235.00" y2="98.90" stroke="#cccccc" stroke-width="0.8"/>
<line x1="241.20" y1="78.00" x2="241.20" y2="102.70" stroke="#e07878" stroke-width="0.85"/>
<rect x="239.95" y="82.69" width="2.50" height="12.32" fill="#f0aaaa"/>
<rect x="239.60" y="85.00" width="3.20" height="7.70" fill="#e07878"/>
<line x1="239.40" y1="90.80" x2="243.00" y2="90.80" stroke="#b83a48" stroke-width="0.8"/>
<text x="241.20" y="75.50" font-size="6.2" fill="#b83a48" text-anchor="middle" font-weight="bold">#</text>
<line x1="246.40" y1="88.80" x2="246.40" y2="107.30" stroke="#e07878" stroke-width="0.85"/>
<rect x="245.15" y="93.38" width="2.50" height="8.64" fill="#f0aaaa"/>
<rect x="244.80" y="95.00" width="3.20" height="5.40" fill="#e07878"/>
<line x1="244.60" y1="98.00" x2="248.20" y2="98.00" stroke="#b83a48" stroke-width="0.8"/>
<line x1="251.50" y1="76.50" x2="251.50" y2="86.50" stroke="#e07878" stroke-width="0.85"/>
<rect x="250.25" y="76.59" width="2.50" height="7.52" fill="#f0aaaa"/>
<rect x="249.90" y="78.00" width="3.20" height="4.70" fill="#e07878"/>
<line x1="249.70" y1="80.50" x2="253.30" y2="80.50" stroke="#b83a48" stroke-width="0.8"/>
<text x="251.50" y="73.50" font-size="6.2" fill="#b83a48" text-anchor="middle" font-weight="bold">#</text>
<line x1="256.50" y1="78.80" x2="256.50" y2="107.30" stroke="#e07878" stroke-width="0.85"/>
<rect x="255.25" y="86.36" width="2.50" height="17.28" fill="#f0aaaa"/>
<rect x="254.90" y="89.60" width="3.20" height="10.80" fill="#e07878"/>
<line x1="254.70" y1="97.00" x2="258.30" y2="97.00" stroke="#b83a48" stroke-width="0.8"/>
<line x1="265.40" y1="55.80" x2="265.40" y2="83.50" stroke="#f8c27a" stroke-width="0.85"/>
<rect x="264.15" y="60.29" width="2.50" height="17.12" fill="#fcdcaa"/>
<rect x="263.80" y="63.50" width="3.20" height="10.70" fill="#f8c27a"/>
<line x1="263.60" y1="66.50" x2="267.20" y2="66.50" stroke="#eb9e3c" stroke-width="0.8"/>
<text x="265.40" y="53.50" font-size="6.2" fill="#eb9e3c" text-anchor="middle" font-weight="bold">#</text>
<line x1="270.80" y1="64.20" x2="270.80" y2="88.80" stroke="#f8c27a" stroke-width="0.85"/>
<rect x="269.55" y="70.63" width="2.50" height="11.04" fill="#fcdcaa"/>
<rect x="269.20" y="72.70" width="3.20" height="6.90" fill="#f8c27a"/>
<line x1="269.00" y1="76.50" x2="272.60" y2="76.50" stroke="#eb9e3c" stroke-width="0.8"/>
<text x="270.80" y="63.50" font-size="6.2" fill="#eb9e3c" text-anchor="middle" font-weight="bold">#</text>
<line x1="275.80" y1="85.30" x2="275.80" y2="102.00" stroke="#f8c27a" stroke-width="0.85"/>
<rect x="274.55" y="88.78" width="2.50" height="8.64" fill="#fcdcaa"/>
<rect x="274.20" y="90.40" width="3.20" height="5.40" fill="#f8c27a"/>
<line x1="274.00" y1="93.00" x2="277.60" y2="93.00" stroke="#eb9e3c" stroke-width="0.8"/>
<line x1="281.20" y1="59.60" x2="281.20" y2="108.00" stroke="#f8c27a" stroke-width="0.85"/>
<rect x="279.95" y="75.78" width="2.50" height="24.64" fill="#fcdcaa"/>
<rect x="279.60" y="80.40" width="3.20" height="15.40" fill="#f8c27a"/>
<line x1="279.40" y1="91.00" x2="283.00" y2="91.00" stroke="#eb9e3c" stroke-width="0.8"/>
<text x="281.20" y="59.60" font-size="6.2" fill="#eb9e3c" text-anchor="middle" font-weight="bold">#</text>
<line x1="286.50" y1="90.40" x2="286.50" y2="137.30" stroke="#f8c27a" stroke-width="0.85"/>
<rect x="285.25" y="93.25" width="2.50" height="29.60" fill="#fcdcaa"/>
<rect x="284.90" y="98.80" width="3.20" height="18.50" fill="#f8c27a"/>
<line x1="284.70" y1="111.20" x2="288.30" y2="111.20" stroke="#eb9e3c" stroke-width="0.8"/>
<line x1="294.60" y1="80.00" x2="294.60" y2="113.80" stroke="#acd9a0" stroke-width="0.85"/>
<rect x="293.35" y="88.05" width="2.50" height="18.40" fill="#cfeac6"/>
<rect x="293.00" y="91.50" width="3.20" height="11.50" fill="#acd9a0"/>
<line x1="292.80" y1="97.70" x2="296.40" y2="97.70" stroke="#72b866" stroke-width="0.8"/>
<line x1="299.70" y1="80.00" x2="299.70" y2="108.50" stroke="#acd9a0" stroke-width="0.85"/>
<rect x="298.45" y="85.95" width="2.50" height="13.60" fill="#cfeac6"/>
<rect x="298.10" y="88.50" width="3.20" height="8.50" fill="#acd9a0"/>
<line x1="297.90" y1="92.60" x2="301.50" y2="92.60" stroke="#72b866" stroke-width="0.8"/>
<line x1="304.90" y1="87.00" x2="304.90" y2="108.50" stroke="#acd9a0" stroke-width="0.85"/>
<rect x="303.65" y="93.33" width="2.50" height="11.04" fill="#cfeac6"/>
<rect x="303.30" y="95.40" width="3.20" height="6.90" fill="#acd9a0"/>
<line x1="303.10" y1="98.00" x2="306.70" y2="98.00" stroke="#72b866" stroke-width="0.8"/>
<line x1="310.00" y1="81.50" x2="310.00" y2="106.00" stroke="#acd9a0" stroke-width="0.85"/>
<rect x="308.75" y="88.71" width="2.50" height="14.88" fill="#cfeac6"/>
<rect x="308.40" y="91.50" width="3.20" height="9.30" fill="#acd9a0"/>
<line x1="308.20" y1="96.00" x2="311.80" y2="96.00" stroke="#72b866" stroke-width="0.8"/>
<line x1="315.00" y1="80.00" x2="315.00" y2="114.60" stroke="#acd9a0" stroke-width="0.85"/>
<rect x="313.75" y="90.67" width="2.50" height="20.96" fill="#cfeac6"/>
<rect x="313.40" y="94.60" width="3.20" height="13.10" fill="#acd9a0"/>
<line x1="313.20" y1="100.30" x2="316.80" y2="100.30" stroke="#72b866" stroke-width="0.8"/>
<line x1="320.30" y1="83.00" x2="320.30" y2="106.00" stroke="#acd9a0" stroke-width="0.85"/>
<rect x="319.05" y="90.66" width="2.50" height="12.48" fill="#cfeac6"/>
<rect x="318.70" y="93.00" width="3.20" height="7.80" fill="#acd9a0"/>
<line x1="318.50" y1="97.00" x2="322.10" y2="97.00" stroke="#72b866" stroke-width="0.8"/>
<line x1="325.40" y1="83.00" x2="325.40" y2="117.70" stroke="#acd9a0" stroke-width="0.85"/>
<rect x="324.15" y="87.35" width="2.50" height="18.40" fill="#cfeac6"/>
<rect x="323.80" y="90.80" width="3.20" height="11.50" fill="#acd9a0"/>
<line x1="323.60" y1="95.70" x2="327.20" y2="95.70" stroke="#72b866" stroke-width="0.8"/>
<line x1="330.50" y1="88.50" x2="330.50" y2="113.00" stroke="#acd9a0" stroke-width="0.85"/>
<rect x="329.25" y="91.60" width="2.50" height="16.00" fill="#cfeac6"/>
<rect x="328.90" y="94.60" width="3.20" height="10.00" fill="#acd9a0"/>
<line x1="328.70" y1="98.50" x2="332.30" y2="98.50" stroke="#72b866" stroke-width="0.8"/>
<line x1="335.70" y1="83.00" x2="335.70" y2="110.80" stroke="#acd9a0" stroke-width="0.85"/>
<rect x="334.45" y="89.54" width="2.50" height="14.72" fill="#cfeac6"/>
<rect x="334.10" y="92.30" width="3.20" height="9.20" fill="#acd9a0"/>
<line x1="333.90" y1="97.00" x2="337.50" y2="97.00" stroke="#72b866" stroke-width="0.8"/>
<line x1="340.80" y1="87.70" x2="340.80" y2="107.70" stroke="#acd9a0" stroke-width="0.85"/>
<rect x="339.55" y="91.94" width="2.50" height="9.92" fill="#cfeac6"/>
<rect x="339.20" y="93.80" width="3.20" height="6.20" fill="#acd9a0"/>
<line x1="339.00" y1="96.00" x2="342.60" y2="96.00" stroke="#72b866" stroke-width="0.8"/>
<line x1="350.00" y1="88.50" x2="350.00" y2="115.40" stroke="#94b8aa" stroke-width="0.85"/>
<rect x="348.75" y="95.21" width="2.50" height="13.28" fill="#b8d2c8"/>
<rect x="348.40" y="97.70" width="3.20" height="8.30" fill="#94b8aa"/>
<line x1="348.20" y1="103.00" x2="351.80" y2="103.00" stroke="#5e8e7c" stroke-width="0.8"/>
<line x1="355.10" y1="84.60" x2="355.10" y2="110.80" stroke="#94b8aa" stroke-width="0.85"/>
<rect x="353.85" y="89.99" width="2.50" height="12.32" fill="#b8d2c8"/>
<rect x="353.50" y="92.30" width="3.20" height="7.70" fill="#94b8aa"/>
<line x1="353.30" y1="97.20" x2="356.90" y2="97.20" stroke="#5e8e7c" stroke-width="0.8"/>
<line x1="360.30" y1="84.60" x2="360.30" y2="108.50" stroke="#94b8aa" stroke-width="0.85"/>
<rect x="359.05" y="92.53" width="2.50" height="11.04" fill="#b8d2c8"/>
<rect x="358.70" y="94.60" width="3.20" height="6.90" fill="#94b8aa"/>
<line x1="358.50" y1="99.20" x2="362.10" y2="99.20" stroke="#5e8e7c" stroke-width="0.8"/>
<line x1="365.40" y1="92.30" x2="365.40" y2="117.70" stroke="#94b8aa" stroke-width="0.85"/>
<rect x="364.15" y="96.65" width="2.50" height="13.60" fill="#b8d2c8"/>
<rect x="363.80" y="99.20" width="3.20" height="8.50" fill="#94b8aa"/>
<line x1="363.60" y1="104.30" x2="367.20" y2="104.30" stroke="#5e8e7c" stroke-width="0.8"/>
<line x1="370.50" y1="83.00" x2="370.50" y2="113.00" stroke="#94b8aa" stroke-width="0.85"/>
<rect x="369.25" y="91.92" width="2.50" height="18.56" fill="#b8d2c8"/>
<rect x="368.90" y="95.40" width="3.20" height="11.60" fill="#94b8aa"/>
<line x1="368.70" y1="101.20" x2="372.30" y2="101.20" stroke="#5e8e7c" stroke-width="0.8"/>
<line x1="375.40" y1="94.60" x2="375.40" y2="113.00" stroke="#94b8aa" stroke-width="0.85"/>
<rect x="374.15" y="95.74" width="2.50" height="14.72" fill="#b8d2c8"/>
<rect x="373.80" y="98.50" width="3.20" height="9.20" fill="#94b8aa"/>
<line x1="373.60" y1="103.00" x2="377.20" y2="103.00" stroke="#5e8e7c" stroke-width="0.8"/>
<line x1="380.80" y1="83.80" x2="380.80" y2="127.70" stroke="#94b8aa" stroke-width="0.85"/>
<rect x="379.55" y="91.82" width="2.50" height="23.36" fill="#b8d2c8"/>
<rect x="379.20" y="96.20" width="3.20" height="14.60" fill="#94b8aa"/>
<line x1="379.00" y1="104.60" x2="382.60" y2="104.60" stroke="#5e8e7c" stroke-width="0.8"/>
<line x1="388.50" y1="81.50" x2="388.50" y2="104.60" stroke="#acd6f2" stroke-width="0.85"/>
<rect x="387.25" y="82.16" width="2.50" height="17.28" fill="#d0e8f8"/>
<rect x="386.90" y="85.40" width="3.20" height="10.80" fill="#acd6f2"/>
<line x1="386.70" y1="90.50" x2="390.30" y2="90.50" stroke="#6ab2e2" stroke-width="0.8"/>
<text x="388.50" y="78.90" font-size="6.2" fill="#6ab2e2" text-anchor="middle" font-weight="bold">#</text>
<line x1="393.80" y1="87.00" x2="393.80" y2="94.60" stroke="#acd6f2" stroke-width="0.85"/>
<rect x="392.55" y="90.69" width="2.50" height="4.32" fill="#d0e8f8"/>
<rect x="392.20" y="91.50" width="3.20" height="2.70" fill="#acd6f2"/>
<line x1="392.00" y1="93.00" x2="395.60" y2="93.00" stroke="#6ab2e2" stroke-width="0.8"/>
<line x1="399.20" y1="87.00" x2="399.20" y2="107.00" stroke="#acd6f2" stroke-width="0.85"/>
<rect x="397.95" y="89.30" width="2.50" height="16.00" fill="#d0e8f8"/>
<rect x="397.60" y="92.30" width="3.20" height="10.00" fill="#acd6f2"/>
<line x1="397.40" y1="93.00" x2="401.00" y2="93.00" stroke="#6ab2e2" stroke-width="0.8"/>
<line x1="404.60" y1="92.30" x2="404.60" y2="131.50" stroke="#acd6f2" stroke-width="0.85"/>
<rect x="403.35" y="97.45" width="2.50" height="29.60" fill="#d0e8f8"/>
<rect x="403.00" y="103.00" width="3.20" height="18.50" fill="#acd6f2"/>
<line x1="402.80" y1="112.30" x2="406.40" y2="112.30" stroke="#6ab2e2" stroke-width="0.8"/>
<line x1="409.50" y1="83.00" x2="409.50" y2="110.80" stroke="#acd6f2" stroke-width="0.85"/>
<rect x="408.25" y="94.70" width="2.50" height="16.00" fill="#d0e8f8"/>
<rect x="407.90" y="97.70" width="3.20" height="10.00" fill="#acd6f2"/>
<line x1="407.70" y1="101.20" x2="411.30" y2="101.20" stroke="#6ab2e2" stroke-width="0.8"/>
<line x1="414.60" y1="83.80" x2="414.60" y2="107.00" stroke="#acd6f2" stroke-width="0.85"/>
<rect x="413.35" y="89.09" width="2.50" height="17.12" fill="#d0e8f8"/>
<rect x="413.00" y="92.30" width="3.20" height="10.70" fill="#acd6f2"/>
<line x1="412.80" y1="95.70" x2="416.40" y2="95.70" stroke="#6ab2e2" stroke-width="0.8"/>
<line x1="420.00" y1="88.50" x2="420.00" y2="129.20" stroke="#acd6f2" stroke-width="0.85"/>
<rect x="418.75" y="88.14" width="2.50" height="25.92" fill="#d0e8f8"/>
<rect x="418.40" y="93.00" width="3.20" height="16.20" fill="#acd6f2"/>
<line x1="418.20" y1="101.80" x2="421.80" y2="101.80" stroke="#6ab2e2" stroke-width="0.8"/>
<line x1="425.40" y1="79.20" x2="425.40" y2="136.00" stroke="#acd6f2" stroke-width="0.85"/>
<rect x="424.15" y="93.43" width="2.50" height="27.04" fill="#d0e8f8"/>
<rect x="423.80" y="98.50" width="3.20" height="16.90" fill="#acd6f2"/>
<line x1="423.60" y1="105.40" x2="427.20" y2="105.40" stroke="#6ab2e2" stroke-width="0.8"/>
<line x1="433.00" y1="94.60" x2="433.00" y2="110.00" stroke="#b496c0" stroke-width="0.85"/>
<rect x="431.75" y="95.93" width="2.50" height="7.84" fill="#d4bcdc"/>
<rect x="431.40" y="97.40" width="3.20" height="4.90" fill="#b496c0"/>
<line x1="431.20" y1="99.40" x2="434.80" y2="99.40" stroke="#7e4c90" stroke-width="0.8"/>
<line x1="438.40" y1="70.80" x2="438.40" y2="90.00" stroke="#b496c0" stroke-width="0.85"/>
<rect x="437.15" y="76.43" width="2.50" height="11.04" fill="#d4bcdc"/>
<rect x="436.80" y="78.50" width="3.20" height="6.90" fill="#b496c0"/>
<line x1="436.60" y1="83.00" x2="440.20" y2="83.00" stroke="#7e4c90" stroke-width="0.8"/>
<text x="438.40" y="66.90" font-size="6.2" fill="#7e4c90" text-anchor="middle" font-weight="bold">#</text>
<line x1="443.50" y1="61.50" x2="443.50" y2="107.00" stroke="#b496c0" stroke-width="0.85"/>
<rect x="442.25" y="72.74" width="2.50" height="30.72" fill="#d4bcdc"/>
<rect x="441.90" y="78.50" width="3.20" height="19.20" fill="#b496c0"/>
<line x1="441.70" y1="88.50" x2="445.30" y2="88.50" stroke="#7e4c90" stroke-width="0.8"/>
<text x="443.50" y="58.80" font-size="6.2" fill="#7e4c90" text-anchor="middle" font-weight="bold">#</text>
<line x1="448.50" y1="67.70" x2="448.50" y2="102.30" stroke="#b496c0" stroke-width="0.85"/>
<rect x="447.25" y="72.87" width="2.50" height="25.76" fill="#d4bcdc"/>
<rect x="446.90" y="77.70" width="3.20" height="16.10" fill="#b496c0"/>
<line x1="446.70" y1="88.50" x2="450.30" y2="88.50" stroke="#7e4c90" stroke-width="0.8"/>
<text x="448.50" y="63.80" font-size="6.2" fill="#7e4c90" text-anchor="middle" font-weight="bold">#</text>
<line x1="453.80" y1="96.20" x2="453.80" y2="117.00" stroke="#b496c0" stroke-width="0.85"/>
<rect x="452.55" y="96.65" width="2.50" height="13.60" fill="#d4bcdc"/>
<rect x="452.20" y="99.20" width="3.20" height="8.50" fill="#b496c0"/>
<line x1="452.00" y1="101.50" x2="455.60" y2="101.50" stroke="#7e4c90" stroke-width="0.8"/>
<line x1="458.80" y1="88.50" x2="458.80" y2="101.50" stroke="#b496c0" stroke-width="0.85"/>
<rect x="457.55" y="94.02" width="2.50" height="7.36" fill="#d4bcdc"/>
<rect x="457.20" y="95.40" width="3.20" height="4.60" fill="#b496c0"/>
<line x1="457.00" y1="98.00" x2="460.60" y2="98.00" stroke="#7e4c90" stroke-width="0.8"/>
<line x1="466.80" y1="89.20" x2="466.80" y2="119.20" stroke="#b2b2c0" stroke-width="0.85"/>
<rect x="465.55" y="96.41" width="2.50" height="14.88" fill="#d0d0da"/>
<rect x="465.20" y="99.20" width="3.20" height="9.30" fill="#b2b2c0"/>
<line x1="465.00" y1="104.60" x2="468.60" y2="104.60" stroke="#7c7c90" stroke-width="0.8"/>
<line x1="472.20" y1="83.00" x2="472.20" y2="110.80" stroke="#b2b2c0" stroke-width="0.85"/>
<rect x="470.95" y="91.36" width="2.50" height="17.28" fill="#d0d0da"/>
<rect x="470.60" y="94.60" width="3.20" height="10.80" fill="#b2b2c0"/>
<line x1="470.40" y1="100.00" x2="474.00" y2="100.00" stroke="#7c7c90" stroke-width="0.8"/>
<line x1="477.30" y1="87.70" x2="477.30" y2="106.00" stroke="#b2b2c0" stroke-width="0.85"/>
<rect x="476.05" y="92.53" width="2.50" height="11.04" fill="#d0d0da"/>
<rect x="475.70" y="94.60" width="3.20" height="6.90" fill="#b2b2c0"/>
<line x1="475.50" y1="97.70" x2="479.10" y2="97.70" stroke="#7c7c90" stroke-width="0.8"/>
<line x1="482.40" y1="88.50" x2="482.40" y2="107.00" stroke="#b2b2c0" stroke-width="0.85"/>
<rect x="481.15" y="93.57" width="2.50" height="9.76" fill="#d0d0da"/>
<rect x="480.80" y="95.40" width="3.20" height="6.10" fill="#b2b2c0"/>
<line x1="480.60" y1="99.00" x2="484.20" y2="99.00" stroke="#7c7c90" stroke-width="0.8"/>
<line x1="487.60" y1="91.50" x2="487.60" y2="113.00" stroke="#b2b2c0" stroke-width="0.85"/>
<rect x="486.35" y="92.29" width="2.50" height="12.32" fill="#d0d0da"/>
<rect x="486.00" y="94.60" width="3.20" height="7.70" fill="#b2b2c0"/>
<line x1="485.80" y1="99.50" x2="489.40" y2="99.50" stroke="#7c7c90" stroke-width="0.8"/>
<line x1="495.80" y1="73.00" x2="495.80" y2="95.40" stroke="#f29cbe" stroke-width="0.85"/>
<rect x="494.55" y="78.71" width="2.50" height="14.88" fill="#f8c0d6"/>
<rect x="494.20" y="81.50" width="3.20" height="9.30" fill="#f29cbe"/>
<line x1="494.00" y1="85.00" x2="497.60" y2="85.00" stroke="#e45892" stroke-width="0.8"/>
<text x="495.80" y="69.50" font-size="6.2" fill="#e45892" text-anchor="middle" font-weight="bold">#</text>
<line x1="500.70" y1="90.80" x2="500.70" y2="125.40" stroke="#f29cbe" stroke-width="0.85"/>
<rect x="499.45" y="98.80" width="2.50" height="22.40" fill="#f8c0d6"/>
<rect x="499.10" y="103.00" width="3.20" height="14.00" fill="#f29cbe"/>
<line x1="498.90" y1="110.80" x2="502.50" y2="110.80" stroke="#e45892" stroke-width="0.8"/>
<line x1="220.00" y1="44.60" x2="220.00" y2="143.70" stroke="#231f20" stroke-width="1.25"/>
<line x1="219.40" y1="143.10" x2="504.00" y2="143.10" stroke="#231f20" stroke-width="1.3"/>
<line x1="217.00" y1="71.10" x2="220.00" y2="71.10" stroke="#231f20" stroke-width="0.9"/>
<text x="214.00" y="73.20" font-size="6.0" fill="#2b2b2b" text-anchor="end">4</text>
<line x1="217.00" y1="98.90" x2="220.00" y2="98.90" stroke="#231f20" stroke-width="0.9"/>
<text x="214.00" y="101.00" font-size="6.0" fill="#2b2b2b" text-anchor="end">0</text>
<line x1="217.00" y1="126.70" x2="220.00" y2="126.70" stroke="#231f20" stroke-width="0.9"/>
<text x="214.00" y="128.80" font-size="6.0" fill="#2b2b2b" text-anchor="end">−4</text>
<text transform="translate(202.2,141) rotate(-90)" font-size="7.4" fill="#2b2b2b" textLength="92.6" lengthAdjust="spacingAndGlyphs">log<tspan font-size="4.6" dy="1.3">2</tspan><tspan dy="-1.3">FC (VTP50469/DMSO, T</tspan><tspan font-size="4.6" dy="1.3">14</tspan><tspan dy="-1.3">)</tspan></text>
<line x1="222.80" y1="143.10" x2="222.80" y2="145.80" stroke="#231f20" stroke-width="0.9"/>
<text transform="translate(224.40,149.5) rotate(-90)" font-size="5.1" fill="#111" stroke="#111" stroke-width="0.12" text-anchor="end">AAVS1</text>
<line x1="227.90" y1="143.10" x2="227.90" y2="145.80" stroke="#231f20" stroke-width="0.9"/>
<text transform="translate(229.50,149.5) rotate(-90)" font-size="5.1" fill="#111" stroke="#111" stroke-width="0.12" text-anchor="end">ROSA26</text>
<line x1="233.20" y1="143.10" x2="233.20" y2="145.80" stroke="#231f20" stroke-width="0.9"/>
<text transform="translate(234.80,149.5) rotate(-90)" font-size="5.1" fill="#111" stroke="#111" stroke-width="0.12" text-anchor="end">CCR5</text>
<line x1="241.20" y1="143.10" x2="241.20" y2="145.80" stroke="#231f20" stroke-width="0.9"/>
<text transform="translate(242.80,149.5) rotate(-90)" font-size="5.1" fill="#111" stroke="#111" stroke-width="0.12" text-anchor="end">RING1</text>
<line x1="246.40" y1="143.10" x2="246.40" y2="145.80" stroke="#231f20" stroke-width="0.9"/>
<text transform="translate(248.00,149.5) rotate(-90)" font-size="5.1" fill="#111" stroke="#111" stroke-width="0.12" text-anchor="end">RNF2</text>
<line x1="251.50" y1="143.10" x2="251.50" y2="145.80" stroke="#231f20" stroke-width="0.9"/>
<text transform="translate(253.10,149.5) rotate(-90)" font-size="5.1" fill="#111" stroke="#111" stroke-width="0.12" text-anchor="end">RYBP</text>
<line x1="256.50" y1="143.10" x2="256.50" y2="145.80" stroke="#231f20" stroke-width="0.9"/>
<text transform="translate(258.10,149.5) rotate(-90)" font-size="5.1" fill="#111" stroke="#111" stroke-width="0.12" text-anchor="end">YAF2</text>
<line x1="265.40" y1="143.10" x2="265.40" y2="145.80" stroke="#231f20" stroke-width="0.9"/>
<text transform="translate(267.00,149.5) rotate(-90)" font-size="5.1" fill="#111" stroke="#111" stroke-width="0.12" text-anchor="end">PCGF1</text>
<line x1="270.80" y1="143.10" x2="270.80" y2="145.80" stroke="#231f20" stroke-width="0.9"/>
<text transform="translate(272.40,149.5) rotate(-90)" font-size="5.1" fill="#111" stroke="#111" stroke-width="0.12" text-anchor="end">BCOR</text>
<line x1="275.80" y1="143.10" x2="275.80" y2="145.80" stroke="#231f20" stroke-width="0.9"/>
<text transform="translate(277.40,149.5) rotate(-90)" font-size="5.1" fill="#111" stroke="#111" stroke-width="0.12" text-anchor="end">BCORL1</text>
<line x1="281.20" y1="143.10" x2="281.20" y2="145.80" stroke="#231f20" stroke-width="0.9"/>
<text transform="translate(282.80,149.5) rotate(-90)" font-size="5.1" fill="#111" stroke="#111" stroke-width="0.12" text-anchor="end">KDM2B</text>
<line x1="286.50" y1="143.10" x2="286.50" y2="145.80" stroke="#231f20" stroke-width="0.9"/>
<text transform="translate(288.10,149.5) rotate(-90)" font-size="5.1" fill="#111" stroke="#111" stroke-width="0.12" text-anchor="end">SKP1</text>
<line x1="294.60" y1="143.10" x2="294.60" y2="145.80" stroke="#231f20" stroke-width="0.9"/>
<text transform="translate(296.20,149.5) rotate(-90)" font-size="5.1" fill="#111" stroke="#111" stroke-width="0.12" text-anchor="end">PCGF2</text>
<line x1="299.70" y1="143.10" x2="299.70" y2="145.80" stroke="#231f20" stroke-width="0.9"/>
<text transform="translate(301.30,149.5) rotate(-90)" font-size="5.1" fill="#111" stroke="#111" stroke-width="0.12" text-anchor="end">BMI1</text>
<line x1="304.90" y1="143.10" x2="304.90" y2="145.80" stroke="#231f20" stroke-width="0.9"/>
<text transform="translate(306.50,149.5) rotate(-90)" font-size="5.1" fill="#111" stroke="#111" stroke-width="0.12" text-anchor="end">CBX2</text>
<line x1="310.00" y1="143.10" x2="310.00" y2="145.80" stroke="#231f20" stroke-width="0.9"/>
<text transform="translate(311.60,149.5) rotate(-90)" font-size="5.1" fill="#111" stroke="#111" stroke-width="0.12" text-anchor="end">CBX4</text>
<line x1="315.00" y1="143.10" x2="315.00" y2="145.80" stroke="#231f20" stroke-width="0.9"/>
<text transform="translate(316.60,149.5) rotate(-90)" font-size="5.1" fill="#111" stroke="#111" stroke-width="0.12" text-anchor="end">CBX6</text>
<line x1="320.30" y1="143.10" x2="320.30" y2="145.80" stroke="#231f20" stroke-width="0.9"/>
<text transform="translate(321.90,149.5) rotate(-90)" font-size="5.1" fill="#111" stroke="#111" stroke-width="0.12" text-anchor="end">CBX7</text>
<line x1="325.40" y1="143.10" x2="325.40" y2="145.80" stroke="#231f20" stroke-width="0.9"/>
<text transform="translate(327.00,149.5) rotate(-90)" font-size="5.1" fill="#111" stroke="#111" stroke-width="0.12" text-anchor="end">CBX8</text>
<line x1="330.50" y1="143.10" x2="330.50" y2="145.80" stroke="#231f20" stroke-width="0.9"/>
<text transform="translate(332.10,149.5) rotate(-90)" font-size="5.1" fill="#111" stroke="#111" stroke-width="0.12" text-anchor="end">PHC1</text>
<line x1="335.70" y1="143.10" x2="335.70" y2="145.80" stroke="#231f20" stroke-width="0.9"/>
<text transform="translate(337.30,149.5) rotate(-90)" font-size="5.1" fill="#111" stroke="#111" stroke-width="0.12" text-anchor="end">PHC2</text>
<line x1="340.80" y1="143.10" x2="340.80" y2="145.80" stroke="#231f20" stroke-width="0.9"/>
<text transform="translate(342.40,149.5) rotate(-90)" font-size="5.1" fill="#111" stroke="#111" stroke-width="0.12" text-anchor="end">PHC3</text>
<line x1="350.00" y1="143.10" x2="350.00" y2="145.80" stroke="#231f20" stroke-width="0.9"/>
<text transform="translate(351.60,149.5) rotate(-90)" font-size="5.1" fill="#111" stroke="#111" stroke-width="0.12" text-anchor="end">PCGF3</text>
<line x1="355.10" y1="143.10" x2="355.10" y2="145.80" stroke="#231f20" stroke-width="0.9"/>
<text transform="translate(356.70,149.5) rotate(-90)" font-size="5.1" fill="#111" stroke="#111" stroke-width="0.12" text-anchor="end">PCGF5</text>
<line x1="360.30" y1="143.10" x2="360.30" y2="145.80" stroke="#231f20" stroke-width="0.9"/>
<text transform="translate(361.90,149.5) rotate(-90)" font-size="5.1" fill="#111" stroke="#111" stroke-width="0.12" text-anchor="end">AUTS2</text>
<line x1="365.40" y1="143.10" x2="365.40" y2="145.80" stroke="#231f20" stroke-width="0.9"/>
<text transform="translate(367.00,149.5) rotate(-90)" font-size="5.1" fill="#111" stroke="#111" stroke-width="0.12" text-anchor="end">FBRS</text>
<line x1="370.50" y1="143.10" x2="370.50" y2="145.80" stroke="#231f20" stroke-width="0.9"/>
<text transform="translate(372.10,149.5) rotate(-90)" font-size="5.1" fill="#111" stroke="#111" stroke-width="0.12" text-anchor="end">CSNK2A1</text>
<line x1="375.40" y1="143.10" x2="375.40" y2="145.80" stroke="#231f20" stroke-width="0.9"/>
<text transform="translate(377.00,149.5) rotate(-90)" font-size="5.1" fill="#111" stroke="#111" stroke-width="0.12" text-anchor="end">CSNK2A2</text>
<line x1="380.80" y1="143.10" x2="380.80" y2="145.80" stroke="#231f20" stroke-width="0.9"/>
<text transform="translate(382.40,149.5) rotate(-90)" font-size="5.1" fill="#111" stroke="#111" stroke-width="0.12" text-anchor="end">CSNK2B</text>
<line x1="388.50" y1="143.10" x2="388.50" y2="145.80" stroke="#231f20" stroke-width="0.9"/>
<text transform="translate(390.10,149.5) rotate(-90)" font-size="5.1" fill="#111" stroke="#111" stroke-width="0.12" text-anchor="end">PCGF6</text>
<line x1="393.80" y1="143.10" x2="393.80" y2="145.80" stroke="#231f20" stroke-width="0.9"/>
<text transform="translate(395.40,149.5) rotate(-90)" font-size="5.1" fill="#111" stroke="#111" stroke-width="0.12" text-anchor="end">HDAC1</text>
<line x1="399.20" y1="143.10" x2="399.20" y2="145.80" stroke="#231f20" stroke-width="0.9"/>
<text transform="translate(400.80,149.5) rotate(-90)" font-size="5.1" fill="#111" stroke="#111" stroke-width="0.12" text-anchor="end">HDAC2</text>
<line x1="404.60" y1="143.10" x2="404.60" y2="145.80" stroke="#231f20" stroke-width="0.9"/>
<text transform="translate(406.20,149.5) rotate(-90)" font-size="5.1" fill="#111" stroke="#111" stroke-width="0.12" text-anchor="end">CBX3</text>
<line x1="409.50" y1="143.10" x2="409.50" y2="145.80" stroke="#231f20" stroke-width="0.9"/>
<text transform="translate(411.10,149.5) rotate(-90)" font-size="5.1" fill="#111" stroke="#111" stroke-width="0.12" text-anchor="end">L3MBTL2</text>
<line x1="414.60" y1="143.10" x2="414.60" y2="145.80" stroke="#231f20" stroke-width="0.9"/>
<text transform="translate(416.20,149.5) rotate(-90)" font-size="5.1" fill="#111" stroke="#111" stroke-width="0.12" text-anchor="end">E2F6</text>
<line x1="420.00" y1="143.10" x2="420.00" y2="145.80" stroke="#231f20" stroke-width="0.9"/>
<text transform="translate(421.60,149.5) rotate(-90)" font-size="5.1" fill="#111" stroke="#111" stroke-width="0.12" text-anchor="end">TFDP1</text>
<line x1="425.40" y1="143.10" x2="425.40" y2="145.80" stroke="#231f20" stroke-width="0.9"/>
<text transform="translate(427.00,149.5) rotate(-90)" font-size="5.1" fill="#111" stroke="#111" stroke-width="0.12" text-anchor="end">WDR5</text>
<line x1="433.00" y1="143.10" x2="433.00" y2="145.80" stroke="#231f20" stroke-width="0.9"/>
<text transform="translate(434.60,149.5) rotate(-90)" font-size="5.1" fill="#111" stroke="#111" stroke-width="0.12" text-anchor="end">EZH1</text>
<line x1="438.40" y1="143.10" x2="438.40" y2="145.80" stroke="#231f20" stroke-width="0.9"/>
<text transform="translate(440.00,149.5) rotate(-90)" font-size="5.1" fill="#111" stroke="#111" stroke-width="0.12" text-anchor="end">EZH2</text>
<line x1="443.50" y1="143.10" x2="443.50" y2="145.80" stroke="#231f20" stroke-width="0.9"/>
<text transform="translate(445.10,149.5) rotate(-90)" font-size="5.1" fill="#111" stroke="#111" stroke-width="0.12" text-anchor="end">EED</text>
<line x1="448.50" y1="143.10" x2="448.50" y2="145.80" stroke="#231f20" stroke-width="0.9"/>
<text transform="translate(450.10,149.5) rotate(-90)" font-size="5.1" fill="#111" stroke="#111" stroke-width="0.12" text-anchor="end">SUZ12</text>
<line x1="453.80" y1="143.10" x2="453.80" y2="145.80" stroke="#231f20" stroke-width="0.9"/>
<text transform="translate(455.40,149.5) rotate(-90)" font-size="5.1" fill="#111" stroke="#111" stroke-width="0.12" text-anchor="end">RBBP4</text>
<line x1="458.80" y1="143.10" x2="458.80" y2="145.80" stroke="#231f20" stroke-width="0.9"/>
<text transform="translate(460.40,149.5) rotate(-90)" font-size="5.1" fill="#111" stroke="#111" stroke-width="0.12" text-anchor="end">RBBP7</text>
<line x1="466.80" y1="143.10" x2="466.80" y2="145.80" stroke="#231f20" stroke-width="0.9"/>
<text transform="translate(468.40,149.5) rotate(-90)" font-size="5.1" fill="#111" stroke="#111" stroke-width="0.12" text-anchor="end">PHF1</text>
<line x1="472.20" y1="143.10" x2="472.20" y2="145.80" stroke="#231f20" stroke-width="0.9"/>
<text transform="translate(473.80,149.5) rotate(-90)" font-size="5.1" fill="#111" stroke="#111" stroke-width="0.12" text-anchor="end">MTF2</text>
<line x1="477.30" y1="143.10" x2="477.30" y2="145.80" stroke="#231f20" stroke-width="0.9"/>
<text transform="translate(478.90,149.5) rotate(-90)" font-size="5.1" fill="#111" stroke="#111" stroke-width="0.12" text-anchor="end">PHF19</text>
<line x1="482.40" y1="143.10" x2="482.40" y2="145.80" stroke="#231f20" stroke-width="0.9"/>
<text transform="translate(484.00,149.5) rotate(-90)" font-size="5.1" fill="#111" stroke="#111" stroke-width="0.12" text-anchor="end">EPOP</text>
<line x1="487.60" y1="143.10" x2="487.60" y2="145.80" stroke="#231f20" stroke-width="0.9"/>
<text transform="translate(489.20,149.5) rotate(-90)" font-size="5.1" fill="#111" stroke="#111" stroke-width="0.12" text-anchor="end">C10orf12</text>
<line x1="495.80" y1="143.10" x2="495.80" y2="145.80" stroke="#231f20" stroke-width="0.9"/>
<text transform="translate(497.40,149.5) rotate(-90)" font-size="5.1" fill="#111" stroke="#111" stroke-width="0.12" text-anchor="end">JARID2</text>
<line x1="500.70" y1="143.10" x2="500.70" y2="145.80" stroke="#231f20" stroke-width="0.9"/>
<text transform="translate(502.30,149.5) rotate(-90)" font-size="5.1" fill="#111" stroke="#111" stroke-width="0.12" text-anchor="end">AEBP2</text>
<line x1="220.80" y1="176.70" x2="235.00" y2="176.70" stroke="#d4d4d4" stroke-width="1.1"/>
<text x="228.00" y="184.40" font-size="6.0" fill="#c0c0c0" text-anchor="middle">NEG</text>
<line x1="238.00" y1="176.70" x2="258.80" y2="176.70" stroke="#d85070" stroke-width="1.1"/>
<text x="248.00" y="184.40" font-size="6.0" fill="#c8102e" text-anchor="middle">Core</text>
<text x="248.00" y="191.00" font-size="6.0" fill="#a0183a" text-anchor="middle">PRC1</text>
<line x1="262.70" y1="176.70" x2="287.30" y2="176.70" stroke="#f6d090" stroke-width="1.1"/>
<text x="275.00" y="184.40" font-size="6.0" fill="#f4c064" text-anchor="middle">PRC1.1</text>
<line x1="292.00" y1="176.70" x2="343.80" y2="176.70" stroke="#b4dcb0" stroke-width="1.1"/>
<text x="317.50" y="184.40" font-size="6.0" fill="#80c078" text-anchor="middle">PRC1.2/1.4</text>
<line x1="348.70" y1="176.70" x2="380.80" y2="176.70" stroke="#9cc0b4" stroke-width="1.1"/>
<text x="365.00" y="184.40" font-size="6.0" fill="#5a9484" text-anchor="middle">PRC1.3/1.5</text>
<line x1="386.70" y1="176.70" x2="424.80" y2="176.70" stroke="#b0daf4" stroke-width="1.1"/>
<text x="405.70" y="184.40" font-size="6.0" fill="#68b8ec" text-anchor="middle">PRC1.6</text>
<line x1="430.70" y1="176.70" x2="461.00" y2="176.70" stroke="#b490c0" stroke-width="1.1"/>
<text x="445.50" y="184.40" font-size="6.0" fill="#4a4a4a" text-anchor="middle">Core</text>
<text x="445.50" y="191.00" font-size="6.0" fill="#7a3d8c" text-anchor="middle">PRC2</text>
<line x1="465.30" y1="176.70" x2="488.80" y2="176.70" stroke="#b4b4c4" stroke-width="1.1"/>
<text x="476.70" y="184.40" font-size="6.0" fill="#808094" text-anchor="middle">PRC2.1</text>
<line x1="493.30" y1="176.70" x2="504.40" y2="176.70" stroke="#f090b8" stroke-width="1.1"/>
<text x="499.20" y="184.40" font-size="6.0" fill="#e8428a" text-anchor="middle">PRC2.2</text>
<ellipse cx="321" cy="41" rx="40" ry="22.5" fill="#f8ecec"/>
<text x="320.30" y="14.40" font-size="7.3" fill="#c03a58" text-anchor="middle" textLength="22.40" lengthAdjust="spacingAndGlyphs">PRC1.1</text>
<line x1="325.40" y1="25.80" x2="346.90" y2="34.80" stroke="#7a7a7a" stroke-width="0.55"/>
<line x1="325.40" y1="25.80" x2="291.20" y2="39.60" stroke="#7a7a7a" stroke-width="0.55"/>
<line x1="325.40" y1="25.80" x2="336.30" y2="51.20" stroke="#7a7a7a" stroke-width="0.55"/>
<line x1="325.40" y1="25.80" x2="307.50" y2="57.30" stroke="#7a7a7a" stroke-width="0.55"/>
<line x1="346.90" y1="34.80" x2="291.20" y2="39.60" stroke="#7a7a7a" stroke-width="0.55"/>
<line x1="346.90" y1="34.80" x2="336.30" y2="51.20" stroke="#7a7a7a" stroke-width="0.55"/>
<line x1="346.90" y1="34.80" x2="307.50" y2="57.30" stroke="#7a7a7a" stroke-width="0.55"/>
<line x1="291.20" y1="39.60" x2="336.30" y2="51.20" stroke="#7a7a7a" stroke-width="0.55"/>
<line x1="291.20" y1="39.60" x2="307.50" y2="57.30" stroke="#7a7a7a" stroke-width="0.55"/>
<line x1="336.30" y1="51.20" x2="307.50" y2="57.30" stroke="#7a7a7a" stroke-width="0.55"/>
<ellipse cx="325.4" cy="25.8" rx="11.8" ry="5.8" fill="#c4102e"/>
<text x="325.40" y="28.50" font-size="7.4" fill="#fff" text-anchor="middle" textLength="14.50" lengthAdjust="spacingAndGlyphs">RYBP</text>
<ellipse cx="346.9" cy="34.8" rx="11.8" ry="5.8" fill="#c4102e"/>
<text x="346.90" y="37.50" font-size="7.4" fill="#fff" text-anchor="middle" textLength="17.30" lengthAdjust="spacingAndGlyphs">BCOR</text>
<ellipse cx="291.2" cy="39.6" rx="11.8" ry="5.8" fill="#c4102e"/>
<text x="291.20" y="42.30" font-size="7.4" fill="#fff" text-anchor="middle" textLength="18.90" lengthAdjust="spacingAndGlyphs">RING1</text>
<ellipse cx="336.3" cy="51.2" rx="11.0" ry="5.8" fill="#c4102e"/>
<text x="336.30" y="53.90" font-size="7.4" fill="#fff" text-anchor="middle" textLength="18.00" lengthAdjust="spacingAndGlyphs">KDM2B</text>
<ellipse cx="307.5" cy="57.3" rx="11.8" ry="5.8" fill="#c4102e"/>
<text x="307.50" y="60.00" font-size="7.4" fill="#fff" text-anchor="middle" textLength="20.00" lengthAdjust="spacingAndGlyphs">PCGF1</text>
<ellipse cx="405.7" cy="41.5" rx="35.5" ry="22.5" fill="#f0f0f0"/>
<text x="405.00" y="14.30" font-size="7.3" fill="#6a4a7c" text-anchor="middle" textLength="22.00" lengthAdjust="spacingAndGlyphs">PRC2.2</text>
<line x1="417.30" y1="26.20" x2="426.20" y2="38.50" stroke="#7a7a7a" stroke-width="0.55"/>
<line x1="417.30" y1="26.20" x2="382.70" y2="45.30" stroke="#7a7a7a" stroke-width="0.55"/>
<line x1="417.30" y1="26.20" x2="409.60" y2="53.90" stroke="#7a7a7a" stroke-width="0.55"/>
<line x1="426.20" y1="38.50" x2="382.70" y2="45.30" stroke="#7a7a7a" stroke-width="0.55"/>
<line x1="426.20" y1="38.50" x2="409.60" y2="53.90" stroke="#7a7a7a" stroke-width="0.55"/>
<line x1="382.70" y1="45.30" x2="409.60" y2="53.90" stroke="#7a7a7a" stroke-width="0.55"/>
<ellipse cx="417.3" cy="26.2" rx="11.0" ry="5.8" fill="#5e1f64"/>
<text x="417.30" y="28.90" font-size="7.4" fill="#fff" text-anchor="middle" textLength="17.00" lengthAdjust="spacingAndGlyphs">SUZ12</text>
<ellipse cx="426.2" cy="38.5" rx="11.0" ry="5.8" fill="#5e1f64"/>
<text x="426.20" y="41.20" font-size="7.4" fill="#fff" text-anchor="middle" textLength="12.30" lengthAdjust="spacingAndGlyphs">EED</text>
<ellipse cx="382.7" cy="45.3" rx="11.6" ry="5.8" fill="#5e1f64"/>
<text x="382.70" y="48.00" font-size="7.4" fill="#fff" text-anchor="middle" textLength="15.40" lengthAdjust="spacingAndGlyphs">EZH2</text>
<ellipse cx="409.6" cy="53.9" rx="11.4" ry="5.8" fill="#5e1f64"/>
<text x="409.60" y="56.60" font-size="7.4" fill="#fff" text-anchor="middle" textLength="20.80" lengthAdjust="spacingAndGlyphs">JARID2</text>
<text x="5.60" y="221.30" font-size="11.8" fill="#000" font-weight="bold">C</text>
<text x="70.20" y="220.20" font-size="8.6" fill="#231f20" textLength="69.80" lengthAdjust="spacingAndGlyphs">CORUM database</text>
<line x1="104.50" y1="225.20" x2="104.50" y2="274.90" stroke="#231f20" stroke-width="1.0"/>
<line x1="104.00" y1="274.50" x2="151.00" y2="274.50" stroke="#231f20" stroke-width="1.0"/>
<rect x="104.50" y="229.20" width="34.73" height="6.40" fill="#134b86"/>
<line x1="102.10" y1="232.40" x2="104.50" y2="232.40" stroke="#231f20" stroke-width="0.8"/>
<rect x="104.50" y="241.00" width="20.09" height="6.10" fill="#134b86"/>
<line x1="102.10" y1="244.05" x2="104.50" y2="244.05" stroke="#231f20" stroke-width="0.8"/>
<rect x="104.50" y="252.30" width="20.09" height="6.30" fill="#134b86"/>
<line x1="102.10" y1="255.45" x2="104.50" y2="255.45" stroke="#231f20" stroke-width="0.8"/>
<rect x="104.50" y="263.80" width="14.35" height="6.40" fill="#134b86"/>
<line x1="102.10" y1="267.00" x2="104.50" y2="267.00" stroke="#231f20" stroke-width="0.8"/>
<line x1="104.50" y1="274.50" x2="104.50" y2="277.20" stroke="#231f20" stroke-width="0.8"/>
<text x="104.50" y="286.00" font-size="6.8" fill="#2b2b2b" text-anchor="middle">0</text>
<line x1="118.85" y1="274.50" x2="118.85" y2="277.20" stroke="#231f20" stroke-width="0.8"/>
<text x="118.85" y="286.00" font-size="6.8" fill="#2b2b2b" text-anchor="middle">5</text>
<line x1="133.20" y1="274.50" x2="133.20" y2="277.20" stroke="#231f20" stroke-width="0.8"/>
<text x="133.20" y="286.00" font-size="6.8" fill="#2b2b2b" text-anchor="middle">10</text>
<line x1="147.55" y1="274.50" x2="147.55" y2="277.20" stroke="#231f20" stroke-width="0.8"/>
<text x="147.55" y="286.00" font-size="6.8" fill="#2b2b2b" text-anchor="middle">15</text>
<text x="29.30" y="235.10" font-size="6.35" fill="#333" textLength="69.70" lengthAdjust="spacingAndGlyphs">BCOR complex (human)</text>
<text x="16.60" y="246.20" font-size="6.35" fill="#333" textLength="82.40" lengthAdjust="spacingAndGlyphs">EED-EZH2 complex (human)</text>
<text x="7.10" y="253.30" font-size="6.35" fill="#333" textLength="91.90" lengthAdjust="spacingAndGlyphs">Polycomb repressive complex 2</text>
<text x="75.80" y="260.30" font-size="6.35" fill="#333" textLength="23.20" lengthAdjust="spacingAndGlyphs">(human)</text>
<text x="15.20" y="267.60" font-size="6.35" fill="#333" textLength="83.80" lengthAdjust="spacingAndGlyphs">EED-EZH polycomb complex</text>
<text x="75.80" y="275.50" font-size="6.35" fill="#333" textLength="23.20" lengthAdjust="spacingAndGlyphs">(human)</text>
<text x="54.80" y="304.60" font-size="8.6" fill="#231f20" textLength="99.00" lengthAdjust="spacingAndGlyphs">Jensen COMPARTMENTS</text>
<line x1="104.50" y1="310.00" x2="104.50" y2="359.90" stroke="#231f20" stroke-width="1.0"/>
<line x1="104.00" y1="359.50" x2="151.00" y2="359.50" stroke="#231f20" stroke-width="1.0"/>
<rect x="104.50" y="313.00" width="39.32" height="7.20" fill="#c8102e"/>
<line x1="102.10" y1="316.60" x2="104.50" y2="316.60" stroke="#231f20" stroke-width="0.8"/>
<rect x="104.50" y="325.40" width="24.11" height="6.10" fill="#c8102e"/>
<line x1="102.10" y1="328.45" x2="104.50" y2="328.45" stroke="#231f20" stroke-width="0.8"/>
<rect x="104.50" y="336.80" width="20.09" height="6.20" fill="#c8102e"/>
<line x1="102.10" y1="339.90" x2="104.50" y2="339.90" stroke="#231f20" stroke-width="0.8"/>
<rect x="104.50" y="347.80" width="16.93" height="6.80" fill="#c8102e"/>
<line x1="102.10" y1="351.20" x2="104.50" y2="351.20" stroke="#231f20" stroke-width="0.8"/>
<line x1="104.50" y1="359.50" x2="104.50" y2="362.20" stroke="#231f20" stroke-width="0.8"/>
<text x="104.50" y="371.30" font-size="6.8" fill="#2b2b2b" text-anchor="middle">0</text>
<line x1="118.85" y1="359.50" x2="118.85" y2="362.20" stroke="#231f20" stroke-width="0.8"/>
<text x="118.85" y="371.30" font-size="6.8" fill="#2b2b2b" text-anchor="middle">5</text>
<line x1="133.20" y1="359.50" x2="133.20" y2="362.20" stroke="#231f20" stroke-width="0.8"/>
<text x="133.20" y="371.30" font-size="6.8" fill="#2b2b2b" text-anchor="middle">10</text>
<line x1="147.55" y1="359.50" x2="147.55" y2="362.20" stroke="#231f20" stroke-width="0.8"/>
<text x="147.55" y="371.30" font-size="6.8" fill="#2b2b2b" text-anchor="middle">15</text>
<text x="37.40" y="319.50" font-size="6.35" fill="#333" textLength="62.00" lengthAdjust="spacingAndGlyphs">PcG protein complex</text>
<text x="46.50" y="330.60" font-size="6.35" fill="#333" textLength="52.90" lengthAdjust="spacingAndGlyphs">ESC/E(Z) complex</text>
<text x="23.20" y="338.00" font-size="6.35" fill="#333" textLength="76.20" lengthAdjust="spacingAndGlyphs">Histone methyltransferase</text>
<text x="73.70" y="345.30" font-size="6.35" fill="#333" textLength="25.70" lengthAdjust="spacingAndGlyphs">complex</text>
<text x="39.40" y="353.30" font-size="6.35" fill="#333" textLength="60.00" lengthAdjust="spacingAndGlyphs">Transferase complex</text>
<text x="105" y="382.4" font-size="7.4" fill="#2b2b2b" textLength="46.2" lengthAdjust="spacingAndGlyphs"><tspan font-style="italic">P</tspan> value (–log<tspan font-size="5" dy="1.6">10</tspan><tspan dy="-1.6">)</tspan></text>
<text x="169.60" y="221.20" font-size="11.8" fill="#000" font-weight="bold">D</text>
<text x="186" y="232" font-size="8.6" fill="#231f20" textLength="95.3" lengthAdjust="spacingAndGlyphs">VTP50469 vs DMSO, T<tspan font-size="5.6" dy="1.8">14</tspan></text>
<rect x="200.8" y="236.6" width="65.5" height="16.3" fill="#fff" stroke="#6a6a6a" stroke-width="1"/>
<path d="M201.70,252.5 L201.70,252.39 L202.25,252.39 L202.79,252.39 L203.34,252.39 L203.89,252.39 L204.44,252.39 L204.98,252.39 L205.53,252.38 L206.08,252.38 L206.62,252.38 L207.17,252.38 L207.72,252.38 L208.27,252.37 L208.81,252.37 L209.36,252.37 L209.91,252.37 L210.46,252.36 L211.00,252.36 L211.55,252.36 L212.10,252.35 L212.65,252.35 L213.19,252.34 L213.74,252.33 L214.29,252.33 L214.84,252.32 L215.38,252.31 L215.93,252.30 L216.48,252.29 L217.03,252.28 L217.57,252.27 L218.12,252.25 L218.67,252.23 L219.22,252.21 L219.76,252.18 L220.31,252.14 L220.86,252.08 L221.41,252.01 L221.96,251.92 L222.50,251.80 L223.05,251.65 L223.60,251.45 L224.15,251.19 L224.69,250.87 L225.24,250.47 L225.79,249.98 L226.34,249.40 L226.88,248.72 L227.43,247.93 L227.98,247.04 L228.53,246.07 L229.07,245.02 L229.62,243.92 L230.17,242.81 L230.72,241.71 L231.26,240.66 L231.81,239.70 L232.36,238.87 L232.91,238.19 L233.45,237.70 L234.00,237.40 L234.55,237.70 L235.09,238.19 L235.64,238.87 L236.19,239.70 L236.74,240.66 L237.28,241.71 L237.83,242.81 L238.38,243.92 L238.93,245.02 L239.47,246.07 L240.02,247.04 L240.57,247.93 L241.12,248.72 L241.66,249.40 L242.21,249.98 L242.76,250.47 L243.31,250.87 L243.85,251.19 L244.40,251.45 L244.95,251.65 L245.50,251.80 L246.04,251.92 L246.59,252.01 L247.14,252.08 L247.69,252.14 L248.24,252.18 L248.78,252.21 L249.33,252.23 L249.88,252.25 L250.43,252.27 L250.97,252.28 L251.52,252.29 L252.07,252.30 L252.62,252.31 L253.16,252.32 L253.71,252.33 L254.26,252.33 L254.81,252.34 L255.35,252.35 L255.90,252.35 L256.45,252.36 L257.00,252.36 L257.54,252.36 L258.09,252.37 L258.64,252.37 L259.19,252.37 L259.73,252.37 L260.28,252.38 L260.83,252.38 L261.38,252.38 L261.92,252.38 L262.47,252.38 L263.02,252.39 L263.56,252.39 L264.11,252.39 L264.66,252.39 L265.21,252.39 L265.75,252.39 L265.75,252.5 Z" fill="#c4c4c4" stroke="#555" stroke-width="0.6"/>
<text x="269.80" y="253.20" font-size="7.0" fill="#2b2b2b" textLength="47.20" lengthAdjust="spacingAndGlyphs">RRA score (FDR)</text>
<defs><linearGradient id="negg" x1="0" x2="1" y1="0" y2="0"><stop offset="0" stop-color="#fff" stop-opacity="0"/><stop offset="0.3" stop-color="#dedede"/><stop offset="0.5" stop-color="#b4b4b4"/><stop offset="0.7" stop-color="#dedede"/><stop offset="1" stop-color="#fff" stop-opacity="0"/></linearGradient></defs>
<rect x="200.8" y="255.80" width="65.5" height="8.3" fill="#fff" stroke="#707070" stroke-width="1.35"/>
<rect x="219.40" y="256.50" width="29.20" height="6.9" fill="url(#negg)"/>
<text x="197.70" y="262.10" font-size="7.0" fill="#2b2b2b" text-anchor="end" textLength="13.50" lengthAdjust="spacingAndGlyphs">NEG</text>
<text x="269.80" y="262.10" font-size="7.0" fill="#2b2b2b" textLength="30.25" lengthAdjust="spacingAndGlyphs">0.96 (1.00)</text>
<rect x="200.8" y="265.63" width="65.5" height="8.3" fill="#fff" stroke="#707070" stroke-width="1.35"/>
<line x1="224.51" y1="266.33" x2="224.51" y2="273.23" stroke="#bbb" stroke-width="0.95"/>
<line x1="226.34" y1="266.33" x2="226.34" y2="273.23" stroke="#999" stroke-width="0.95"/>
<line x1="230.72" y1="266.33" x2="230.72" y2="273.23" stroke="#555" stroke-width="0.95"/>
<line x1="232.18" y1="266.33" x2="232.18" y2="273.23" stroke="#222" stroke-width="0.95"/>
<line x1="233.27" y1="266.33" x2="233.27" y2="273.23" stroke="#333" stroke-width="0.95"/>
<line x1="234.73" y1="266.33" x2="234.73" y2="273.23" stroke="#222" stroke-width="0.95"/>
<line x1="235.82" y1="266.33" x2="235.82" y2="273.23" stroke="#444" stroke-width="0.95"/>
<line x1="237.28" y1="266.33" x2="237.28" y2="273.23" stroke="#666" stroke-width="0.95"/>
<line x1="238.75" y1="266.33" x2="238.75" y2="273.23" stroke="#aaa" stroke-width="0.95"/>
<text x="197.70" y="271.93" font-size="7.0" fill="#2b2b2b" text-anchor="end" textLength="27.30" lengthAdjust="spacingAndGlyphs">DNMT3A</text>
<text x="269.80" y="271.93" font-size="7.0" fill="#2b2b2b" textLength="30.25" lengthAdjust="spacingAndGlyphs">0.73 (1.00)</text>
<rect x="200.8" y="275.46" width="65.5" height="8.3" fill="#fff" stroke="#707070" stroke-width="1.35"/>
<line x1="230.35" y1="276.16" x2="230.35" y2="283.06" stroke="#bbb" stroke-width="0.95"/>
<line x1="231.81" y1="276.16" x2="231.81" y2="283.06" stroke="#777" stroke-width="0.95"/>
<line x1="232.91" y1="276.16" x2="232.91" y2="283.06" stroke="#444" stroke-width="0.95"/>
<line x1="234.00" y1="276.16" x2="234.00" y2="283.06" stroke="#222" stroke-width="0.95"/>
<line x1="235.09" y1="276.16" x2="235.09" y2="283.06" stroke="#333" stroke-width="0.95"/>
<line x1="236.56" y1="276.16" x2="236.56" y2="283.06" stroke="#555" stroke-width="0.95"/>
<line x1="238.38" y1="276.16" x2="238.38" y2="283.06" stroke="#888" stroke-width="0.95"/>
<line x1="241.30" y1="276.16" x2="241.30" y2="283.06" stroke="#999" stroke-width="0.95"/>
<line x1="243.49" y1="276.16" x2="243.49" y2="283.06" stroke="#666" stroke-width="0.95"/>
<text x="197.70" y="281.76" font-size="7.0" fill="#2b2b2b" text-anchor="end" textLength="15.50" lengthAdjust="spacingAndGlyphs">TET2</text>
<text x="269.80" y="281.76" font-size="7.0" fill="#2b2b2b" textLength="30.25" lengthAdjust="spacingAndGlyphs">0.26 (1.00)</text>
<rect x="200.8" y="285.29" width="65.5" height="8.3" fill="#fff" stroke="#707070" stroke-width="1.35"/>
<line x1="221.59" y1="285.99" x2="221.59" y2="292.89" stroke="#bbb" stroke-width="0.95"/>
<line x1="228.16" y1="285.99" x2="228.16" y2="292.89" stroke="#888" stroke-width="0.95"/>
<line x1="230.35" y1="285.99" x2="230.35" y2="292.89" stroke="#555" stroke-width="0.95"/>
<line x1="231.81" y1="285.99" x2="231.81" y2="292.89" stroke="#444" stroke-width="0.95"/>
<line x1="233.27" y1="285.99" x2="233.27" y2="292.89" stroke="#333" stroke-width="0.95"/>
<line x1="234.73" y1="285.99" x2="234.73" y2="292.89" stroke="#666" stroke-width="0.95"/>
<line x1="236.19" y1="285.99" x2="236.19" y2="292.89" stroke="#444" stroke-width="0.95"/>
<line x1="237.65" y1="285.99" x2="237.65" y2="292.89" stroke="#777" stroke-width="0.95"/>
<line x1="239.11" y1="285.99" x2="239.11" y2="292.89" stroke="#999" stroke-width="0.95"/>
<line x1="242.40" y1="285.99" x2="242.40" y2="292.89" stroke="#888" stroke-width="0.95"/>
<text x="197.70" y="291.59" font-size="7.0" fill="#2b2b2b" text-anchor="end" textLength="19.50" lengthAdjust="spacingAndGlyphs">ASXL1</text>
<text x="269.80" y="291.59" font-size="7.0" fill="#2b2b2b" textLength="30.25" lengthAdjust="spacingAndGlyphs">0.06 (0.99)</text>
<rect x="200.8" y="295.12" width="65.5" height="8.3" fill="#fff" stroke="#707070" stroke-width="1.35"/>
<line x1="228.53" y1="295.82" x2="228.53" y2="302.72" stroke="#666" stroke-width="0.95"/>
<line x1="230.35" y1="295.82" x2="230.35" y2="302.72" stroke="#777" stroke-width="0.95"/>
<line x1="231.81" y1="295.82" x2="231.81" y2="302.72" stroke="#333" stroke-width="0.95"/>
<line x1="233.27" y1="295.82" x2="233.27" y2="302.72" stroke="#222" stroke-width="0.95"/>
<line x1="234.73" y1="295.82" x2="234.73" y2="302.72" stroke="#444" stroke-width="0.95"/>
<line x1="236.19" y1="295.82" x2="236.19" y2="302.72" stroke="#555" stroke-width="0.95"/>
<line x1="238.01" y1="295.82" x2="238.01" y2="302.72" stroke="#999" stroke-width="0.95"/>
<line x1="239.84" y1="295.82" x2="239.84" y2="302.72" stroke="#888" stroke-width="0.95"/>
<text x="197.70" y="301.42" font-size="7.0" fill="#2b2b2b" text-anchor="end" textLength="16.50" lengthAdjust="spacingAndGlyphs">TP53</text>
<text x="269.80" y="301.42" font-size="7.0" fill="#2b2b2b" textLength="30.25" lengthAdjust="spacingAndGlyphs">0.46 (1.00)</text>
<rect x="200.8" y="304.95" width="65.5" height="8.3" fill="#fff" stroke="#707070" stroke-width="1.35"/>
<line x1="234.73" y1="305.65" x2="234.73" y2="312.55" stroke="#f08080" stroke-width="0.95"/>
<line x1="238.75" y1="305.65" x2="238.75" y2="312.55" stroke="#f4a0a0" stroke-width="0.95"/>
<line x1="240.94" y1="305.65" x2="240.94" y2="312.55" stroke="#e04040" stroke-width="0.95"/>
<line x1="242.76" y1="305.65" x2="242.76" y2="312.55" stroke="#e01020" stroke-width="0.95"/>
<line x1="244.22" y1="305.65" x2="244.22" y2="312.55" stroke="#d00018" stroke-width="0.95"/>
<line x1="245.68" y1="305.65" x2="245.68" y2="312.55" stroke="#e02030" stroke-width="0.95"/>
<line x1="247.14" y1="305.65" x2="247.14" y2="312.55" stroke="#f06060" stroke-width="0.95"/>
<line x1="250.43" y1="305.65" x2="250.43" y2="312.55" stroke="#f4a0a0" stroke-width="0.95"/>
<text x="197.70" y="311.25" font-size="7.0" fill="#e0202e" text-anchor="end" textLength="16.00" lengthAdjust="spacingAndGlyphs">EZH2</text>
<text x="269.80" y="311.25" font-size="7.0" fill="#e0202e" textLength="44.00" lengthAdjust="spacingAndGlyphs">1.3E-15 (3.1E-4)</text>
<rect x="200.8" y="314.78" width="65.5" height="8.3" fill="#fff" stroke="#707070" stroke-width="1.35"/>
<line x1="235.09" y1="315.48" x2="235.09" y2="322.38" stroke="#f08080" stroke-width="0.95"/>
<line x1="239.11" y1="315.48" x2="239.11" y2="322.38" stroke="#f4a0a0" stroke-width="0.95"/>
<line x1="242.76" y1="315.48" x2="242.76" y2="322.38" stroke="#e04040" stroke-width="0.95"/>
<line x1="244.59" y1="315.48" x2="244.59" y2="322.38" stroke="#e01020" stroke-width="0.95"/>
<line x1="246.04" y1="315.48" x2="246.04" y2="322.38" stroke="#d00018" stroke-width="0.95"/>
<line x1="247.50" y1="315.48" x2="247.50" y2="322.38" stroke="#d81020" stroke-width="0.95"/>
<line x1="249.69" y1="315.48" x2="249.69" y2="322.38" stroke="#e04050" stroke-width="0.95"/>
<line x1="254.44" y1="315.48" x2="254.44" y2="322.38" stroke="#f4a0a0" stroke-width="0.95"/>
<text x="197.70" y="321.08" font-size="7.0" fill="#e0202e" text-anchor="end" textLength="17.50" lengthAdjust="spacingAndGlyphs">BCOR</text>
<text x="269.80" y="321.08" font-size="7.0" fill="#e0202e" textLength="44.00" lengthAdjust="spacingAndGlyphs">1.7E-21 (3.1E-4)</text>
<rect x="200.8" y="324.61" width="65.5" height="8.3" fill="#fff" stroke="#707070" stroke-width="1.35"/>
<line x1="217.21" y1="325.31" x2="217.21" y2="332.21" stroke="#666" stroke-width="0.95"/>
<line x1="223.05" y1="325.31" x2="223.05" y2="332.21" stroke="#888" stroke-width="0.95"/>
<line x1="226.70" y1="325.31" x2="226.70" y2="332.21" stroke="#aaa" stroke-width="0.95"/>
<line x1="228.89" y1="325.31" x2="228.89" y2="332.21" stroke="#555" stroke-width="0.95"/>
<line x1="230.35" y1="325.31" x2="230.35" y2="332.21" stroke="#222" stroke-width="0.95"/>
<line x1="231.81" y1="325.31" x2="231.81" y2="332.21" stroke="#333" stroke-width="0.95"/>
<line x1="233.27" y1="325.31" x2="233.27" y2="332.21" stroke="#666" stroke-width="0.95"/>
<line x1="235.09" y1="325.31" x2="235.09" y2="332.21" stroke="#8a9aa8" stroke-width="0.95"/>
<line x1="236.92" y1="325.31" x2="236.92" y2="332.21" stroke="#b0c0cc" stroke-width="0.95"/>
<line x1="238.75" y1="325.31" x2="238.75" y2="332.21" stroke="#c8d4dc" stroke-width="0.95"/>
<text x="197.70" y="330.91" font-size="7.0" fill="#2b2b2b" text-anchor="end" textLength="16.00" lengthAdjust="spacingAndGlyphs">PHF6</text>
<text x="269.80" y="330.91" font-size="7.0" fill="#2b2b2b" textLength="30.25" lengthAdjust="spacingAndGlyphs">0.85 (1.00)</text>
<rect x="200.8" y="334.44" width="65.5" height="8.3" fill="#fff" stroke="#707070" stroke-width="1.35"/>
<line x1="234.00" y1="335.14" x2="234.00" y2="342.04" stroke="#f08a30" stroke-width="0.95"/>
<line x1="235.46" y1="335.14" x2="235.46" y2="342.04" stroke="#f07a20" stroke-width="0.95"/>
<line x1="236.92" y1="335.14" x2="236.92" y2="342.04" stroke="#f08020" stroke-width="0.95"/>
<line x1="238.38" y1="335.14" x2="238.38" y2="342.04" stroke="#f29040" stroke-width="0.95"/>
<line x1="239.84" y1="335.14" x2="239.84" y2="342.04" stroke="#f8b080" stroke-width="0.95"/>
<line x1="242.76" y1="335.14" x2="242.76" y2="342.04" stroke="#f8c8a0" stroke-width="0.95"/>
<line x1="245.68" y1="335.14" x2="245.68" y2="342.04" stroke="#f8c8a0" stroke-width="0.95"/>
<text x="197.70" y="340.74" font-size="7.0" fill="#e87722" text-anchor="end" textLength="22.00" lengthAdjust="spacingAndGlyphs">KDM6A</text>
<text x="269.80" y="340.74" font-size="7.0" fill="#e87722" textLength="35.75" lengthAdjust="spacingAndGlyphs">1.3E-3 (0.19)</text>
<rect x="200.8" y="344.27" width="65.5" height="8.3" fill="#fff" stroke="#707070" stroke-width="1.35"/>
<line x1="229.62" y1="344.97" x2="229.62" y2="351.87" stroke="#f4a0a0" stroke-width="0.95"/>
<line x1="232.54" y1="344.97" x2="232.54" y2="351.87" stroke="#f06060" stroke-width="0.95"/>
<line x1="234.73" y1="344.97" x2="234.73" y2="351.87" stroke="#e01020" stroke-width="0.95"/>
<line x1="235.82" y1="344.97" x2="235.82" y2="351.87" stroke="#d00018" stroke-width="0.95"/>
<line x1="237.28" y1="344.97" x2="237.28" y2="351.87" stroke="#e01020" stroke-width="0.95"/>
<line x1="238.75" y1="344.97" x2="238.75" y2="351.87" stroke="#f06060" stroke-width="0.95"/>
<line x1="242.03" y1="344.97" x2="242.03" y2="351.87" stroke="#f4a0a0" stroke-width="0.95"/>
<text x="197.70" y="350.57" font-size="7.0" fill="#e0202e" text-anchor="end" textLength="25.00" lengthAdjust="spacingAndGlyphs">BCORL1</text>
<text x="269.80" y="350.57" font-size="7.0" fill="#e0202e" textLength="35.75" lengthAdjust="spacingAndGlyphs">2.0E-3 (0.22)</text>
<line x1="215.75" y1="352.30" x2="215.75" y2="355.00" stroke="#231f20" stroke-width="0.8"/>
<text x="215.75" y="363.00" font-size="6.8" fill="#2b2b2b" text-anchor="middle">−5</text>
<line x1="234.00" y1="352.30" x2="234.00" y2="355.00" stroke="#231f20" stroke-width="0.8"/>
<text x="234.00" y="363.00" font-size="6.8" fill="#2b2b2b" text-anchor="middle">0</text>
<line x1="252.25" y1="352.30" x2="252.25" y2="355.00" stroke="#231f20" stroke-width="0.8"/>
<text x="252.25" y="363.00" font-size="6.8" fill="#2b2b2b" text-anchor="middle">5</text>
<text x="223.8" y="376" font-size="7.6" fill="#2b2b2b" textLength="20" lengthAdjust="spacingAndGlyphs">log<tspan font-size="5.2" dy="1.6">2</tspan><tspan dy="-1.6">FC</tspan></text>
<text x="332.30" y="221.40" font-size="11.8" fill="#000" font-weight="bold">E</text>
<line x1="361.80" y1="243.30" x2="361.80" y2="333.70" stroke="#231f20" stroke-width="1.2"/>
<line x1="361.20" y1="333.10" x2="429.40" y2="333.10" stroke="#231f20" stroke-width="1.2"/>
<line x1="359.00" y1="333.10" x2="361.80" y2="333.10" stroke="#231f20" stroke-width="0.9"/>
<text x="355.40" y="335.40" font-size="6.5" fill="#2b2b2b" text-anchor="end">0</text>
<line x1="359.00" y1="303.97" x2="361.80" y2="303.97" stroke="#231f20" stroke-width="0.9"/>
<text x="355.40" y="306.27" font-size="6.5" fill="#2b2b2b" text-anchor="end">50</text>
<line x1="359.00" y1="274.83" x2="361.80" y2="274.83" stroke="#231f20" stroke-width="0.9"/>
<text x="355.40" y="277.13" font-size="6.5" fill="#2b2b2b" text-anchor="end">100</text>
<line x1="359.00" y1="245.70" x2="361.80" y2="245.70" stroke="#231f20" stroke-width="0.9"/>
<text x="355.40" y="248.00" font-size="6.5" fill="#2b2b2b" text-anchor="end">150</text>
<line x1="360.00" y1="318.53" x2="361.80" y2="318.53" stroke="#231f20" stroke-width="0.8"/>
<line x1="360.00" y1="289.40" x2="361.80" y2="289.40" stroke="#231f20" stroke-width="0.8"/>
<line x1="360.00" y1="260.26" x2="361.80" y2="260.26" stroke="#231f20" stroke-width="0.8"/>
<line x1="371.90" y1="333.10" x2="371.90" y2="335.90" stroke="#231f20" stroke-width="0.9"/>
<text x="371.90" y="344.60" font-size="6.8" fill="#2b2b2b" text-anchor="middle">3</text>
<line x1="394.50" y1="333.10" x2="394.50" y2="335.90" stroke="#231f20" stroke-width="0.9"/>
<text x="394.50" y="344.60" font-size="6.8" fill="#2b2b2b" text-anchor="middle">6</text>
<line x1="418.90" y1="333.10" x2="418.90" y2="335.90" stroke="#231f20" stroke-width="0.9"/>
<text x="418.90" y="344.60" font-size="6.8" fill="#2b2b2b" text-anchor="middle">9</text>
<text x="367.6" y="356.6" font-size="8.8" fill="#2b2b2b" textLength="55.4" lengthAdjust="spacingAndGlyphs">Days post sg<tspan font-style="italic">MEN1</tspan></text>
<text x="381.80" y="366.00" font-size="8.8" fill="#2b2b2b" textLength="26.40" lengthAdjust="spacingAndGlyphs">infection</text>
<text transform="translate(341.6,318.3) rotate(-90)" font-size="8.6" fill="#2b2b2b" textLength="59.5" lengthAdjust="spacingAndGlyphs">sg<tspan font-style="italic">MEN1</tspan>-mCherry %</text>
<circle cx="367.00" cy="274.70" r="2.45" fill="#e2e2e2" stroke="#333" stroke-width="0.8"/>
<circle cx="367.70" cy="276.30" r="2.45" fill="#e2e2e2" stroke="#333" stroke-width="0.8"/>
<circle cx="390.20" cy="302.80" r="2.45" fill="#e2e2e2" stroke="#333" stroke-width="0.8"/>
<circle cx="391.50" cy="305.80" r="2.45" fill="#e2e2e2" stroke="#333" stroke-width="0.8"/>
<circle cx="390.20" cy="308.40" r="2.45" fill="#e2e2e2" stroke="#333" stroke-width="0.8"/>
<circle cx="414.60" cy="326.00" r="2.45" fill="#e2e2e2" stroke="#333" stroke-width="0.8"/>
<circle cx="414.20" cy="328.20" r="2.45" fill="#e2e2e2" stroke="#333" stroke-width="0.8"/>
<circle cx="376.10" cy="273.80" r="2.45" fill="#cf8a2e" stroke="#6a4212" stroke-width="0.8"/>
<circle cx="376.50" cy="276.00" r="2.45" fill="#cf8a2e" stroke="#6a4212" stroke-width="0.8"/>
<circle cx="399.70" cy="280.80" r="2.45" fill="#cf8a2e" stroke="#6a4212" stroke-width="0.8"/>
<circle cx="399.70" cy="287.20" r="2.45" fill="#cf8a2e" stroke="#6a4212" stroke-width="0.8"/>
<circle cx="400.90" cy="288.00" r="2.45" fill="#cf8a2e" stroke="#6a4212" stroke-width="0.8"/>
<circle cx="422.20" cy="298.90" r="2.45" fill="#cf8a2e" stroke="#6a4212" stroke-width="0.8"/>
<circle cx="423.50" cy="301.10" r="2.45" fill="#cf8a2e" stroke="#6a4212" stroke-width="0.8"/>
<circle cx="422.20" cy="305.80" r="2.45" fill="#cf8a2e" stroke="#6a4212" stroke-width="0.8"/>
<line x1="388.00" y1="273.30" x2="399.00" y2="273.30" stroke="#888" stroke-width="1.0"/>
<text x="393.50" y="272.70" font-size="6.0" fill="#333" text-anchor="middle" textLength="11.00" lengthAdjust="spacingAndGlyphs">****</text>
<line x1="412.70" y1="293.70" x2="423.50" y2="293.70" stroke="#888" stroke-width="1.0"/>
<text x="418.10" y="293.10" font-size="6.0" fill="#333" text-anchor="middle" textLength="11.00" lengthAdjust="spacingAndGlyphs">****</text>
<circle cx="398.80" cy="240.20" r="2.45" fill="#e2e2e2" stroke="#333" stroke-width="0.8"/>
<circle cx="398.80" cy="250.10" r="2.45" fill="#cf8a2e" stroke="#6a4212" stroke-width="0.8"/>
<text x="404" y="242.7" font-size="7" fill="#2b2b2b" font-style="italic">BCOR<tspan font-size="4.6" dy="-2.8">WT</tspan></text>
<text x="404" y="252.6" font-size="7" fill="#2b2b2b" font-style="italic">BCOR<tspan font-size="4.6" dy="-2.8">KO</tspan></text>
<text x="444.30" y="221.20" font-size="11.8" fill="#000" font-weight="bold">F</text>
<text x="463.8" y="220.1" font-size="6.9" fill="#2b2b2b" textLength="47.2" lengthAdjust="spacingAndGlyphs">Cas9<tspan font-size="4.5" dy="-2.7">+</tspan><tspan dy="2.7"> AML cells</tspan></text>
<circle cx="458.00" cy="228.50" r="2.9" fill="#c2c2c2" stroke="#b0b0b0" stroke-width="0.3"/>
<circle cx="461.50" cy="227.30" r="2.9" fill="#c2c2c2" stroke="#b0b0b0" stroke-width="0.3"/>
<circle cx="465.00" cy="228.50" r="2.9" fill="#c2c2c2" stroke="#b0b0b0" stroke-width="0.3"/>
<circle cx="465.80" cy="232.00" r="2.9" fill="#c2c2c2" stroke="#b0b0b0" stroke-width="0.3"/>
<circle cx="464.50" cy="235.30" r="2.9" fill="#c2c2c2" stroke="#b0b0b0" stroke-width="0.3"/>
<circle cx="461.00" cy="236.00" r="2.9" fill="#c2c2c2" stroke="#b0b0b0" stroke-width="0.3"/>
<circle cx="457.70" cy="234.70" r="2.9" fill="#c2c2c2" stroke="#b0b0b0" stroke-width="0.3"/>
<circle cx="457.00" cy="231.50" r="2.9" fill="#c2c2c2" stroke="#b0b0b0" stroke-width="0.3"/>
<circle cx="461.50" cy="231.50" r="2.9" fill="#c2c2c2" stroke="#b0b0b0" stroke-width="0.3"/>
<circle cx="460.00" cy="230.00" r="2.9" fill="#c2c2c2" stroke="#b0b0b0" stroke-width="0.3"/>
<circle cx="463.30" cy="232.70" r="2.9" fill="#c2c2c2" stroke="#b0b0b0" stroke-width="0.3"/>
<line x1="460.8" y1="243" x2="460.8" y2="262" stroke="#8a8a8a" stroke-width="0.8"/>
<path d="M459.0,261 L460.8,264 L462.6,261 Z" fill="#8a8a8a"/>
<text x="467.40" y="248.50" font-size="6.8" fill="#2b2b2b" textLength="44.00" lengthAdjust="spacingAndGlyphs">Transduction of</text>
<text x="467.40" y="256.30" font-size="6.8" fill="#35a94e" textLength="34.00" lengthAdjust="spacingAndGlyphs">sgRNA-EGFP</text>
<text x="467.40" y="264.00" font-size="6.8" fill="#2b2b2b" textLength="44.00" lengthAdjust="spacingAndGlyphs">into ~ 10% cells</text>
<circle cx="458.00" cy="271.60" r="2.9" fill="#c2c2c2" stroke="#b0b0b0" stroke-width="0.3"/>
<circle cx="461.50" cy="270.40" r="2.9" fill="#c2c2c2" stroke="#b0b0b0" stroke-width="0.3"/>
<circle cx="465.00" cy="271.60" r="2.9" fill="#c2c2c2" stroke="#b0b0b0" stroke-width="0.3"/>
<circle cx="465.80" cy="275.10" r="2.9" fill="#c2c2c2" stroke="#b0b0b0" stroke-width="0.3"/>
<circle cx="464.50" cy="278.40" r="2.9" fill="#c2c2c2" stroke="#b0b0b0" stroke-width="0.3"/>
<circle cx="461.00" cy="279.10" r="2.9" fill="#c2c2c2" stroke="#b0b0b0" stroke-width="0.3"/>
<circle cx="457.70" cy="277.80" r="2.9" fill="#c2c2c2" stroke="#b0b0b0" stroke-width="0.3"/>
<circle cx="457.00" cy="274.60" r="2.9" fill="#c2c2c2" stroke="#b0b0b0" stroke-width="0.3"/>
<circle cx="461.50" cy="274.60" r="2.9" fill="#c2c2c2" stroke="#b0b0b0" stroke-width="0.3"/>
<circle cx="460.00" cy="273.10" r="2.9" fill="#c2c2c2" stroke="#b0b0b0" stroke-width="0.3"/>
<circle cx="463.30" cy="275.80" r="2.9" fill="#c2c2c2" stroke="#b0b0b0" stroke-width="0.3"/>
<circle cx="462.70" cy="275.20" r="2.3" fill="#179a32" stroke="#0d6b20" stroke-width="0.4"/>
<circle cx="466.30" cy="276.20" r="2.3" fill="#179a32" stroke="#0d6b20" stroke-width="0.4"/>
<line x1="460.8" y1="286" x2="460.8" y2="295.5" stroke="#8a8a8a" stroke-width="0.8"/>
<path d="M459.0,294.5 L460.8,297.5 L462.6,294.5 Z" fill="#8a8a8a"/>
<text x="466.70" y="294.60" font-size="6.8" fill="#2b2b2b" textLength="45.00" lengthAdjust="spacingAndGlyphs">Drug treatment</text>
<rect x="444.7" y="301.6" width="32.3" height="8.7" rx="4.3" fill="#d2d2d2"/>
<text x="460.80" y="308.10" font-size="6.8" fill="#2b2b2b" text-anchor="middle" textLength="19.00" lengthAdjust="spacingAndGlyphs">DMSO</text>
<text x="460.80" y="318.00" font-size="6.8" fill="#2b2b2b" text-anchor="middle">OR</text>
<rect x="444.7" y="321.4" width="32.3" height="8.2" rx="3" fill="#dbe8f4"/>
<text x="460.80" y="327.80" font-size="6.8" fill="#2b2b2b" text-anchor="middle" textLength="30.00" lengthAdjust="spacingAndGlyphs">VTP50469</text>
<line x1="460.8" y1="333.7" x2="460.8" y2="359.5" stroke="#8a8a8a" stroke-width="0.8"/>
<path d="M459.0,358.5 L460.8,361.5 L462.6,358.5 Z" fill="#8a8a8a"/>
<text x="466.70" y="342.20" font-size="6.8" fill="#2b2b2b" textLength="45.00" lengthAdjust="spacingAndGlyphs">Flow analysis of</text>
<text x="466.70" y="350.00" font-size="6.8" fill="#35a94e" textLength="38.00" lengthAdjust="spacingAndGlyphs">sgRNA-EGFP%</text>
<text x="466.70" y="357.80" font-size="6.8" fill="#2b2b2b" textLength="35.00" lengthAdjust="spacingAndGlyphs">every 4 days</text>
<circle cx="458.50" cy="369.60" r="2.9" fill="#c2c2c2" stroke="#b0b0b0" stroke-width="0.3"/>
<circle cx="462.00" cy="368.40" r="2.9" fill="#c2c2c2" stroke="#b0b0b0" stroke-width="0.3"/>
<circle cx="465.50" cy="369.60" r="2.9" fill="#c2c2c2" stroke="#b0b0b0" stroke-width="0.3"/>
<circle cx="466.30" cy="373.10" r="2.9" fill="#c2c2c2" stroke="#b0b0b0" stroke-width="0.3"/>
<circle cx="465.00" cy="376.40" r="2.9" fill="#c2c2c2" stroke="#b0b0b0" stroke-width="0.3"/>
<circle cx="461.50" cy="377.10" r="2.9" fill="#c2c2c2" stroke="#b0b0b0" stroke-width="0.3"/>
<circle cx="458.20" cy="375.80" r="2.9" fill="#c2c2c2" stroke="#b0b0b0" stroke-width="0.3"/>
<circle cx="457.50" cy="372.60" r="2.9" fill="#c2c2c2" stroke="#b0b0b0" stroke-width="0.3"/>
<circle cx="462.00" cy="372.60" r="2.9" fill="#c2c2c2" stroke="#b0b0b0" stroke-width="0.3"/>
<circle cx="460.50" cy="371.10" r="2.9" fill="#c2c2c2" stroke="#b0b0b0" stroke-width="0.3"/>
<circle cx="463.80" cy="373.80" r="2.9" fill="#c2c2c2" stroke="#b0b0b0" stroke-width="0.3"/>
<circle cx="463.20" cy="373.20" r="2.3" fill="#179a32" stroke="#0d6b20" stroke-width="0.4"/>
<circle cx="466.80" cy="374.20" r="2.3" fill="#179a32" stroke="#0d6b20" stroke-width="0.4"/>
<text x="72.80" y="405.20" font-size="8.8" fill="#231f20" textLength="23.70" lengthAdjust="spacingAndGlyphs">sg Luc</text>
<text x="175.50" y="405.20" font-size="8.8" fill="#c41230" textLength="35.00" lengthAdjust="spacingAndGlyphs">sgPCGF1</text>
<text x="287.00" y="405.20" font-size="8.8" fill="#c41230" textLength="32.50" lengthAdjust="spacingAndGlyphs">sgBCOR</text>
<text x="397.50" y="405.20" font-size="8.8" fill="#c41230" textLength="30.00" lengthAdjust="spacingAndGlyphs">sgRYBP</text>
<text x="6.40" y="406.50" font-size="11.8" fill="#000" font-weight="bold">G</text>
<text transform="translate(15.3,465.40) rotate(-90)" font-size="7.8" fill="#2b2b2b" textLength="44.4" lengthAdjust="spacingAndGlyphs">sgRNA-EGFP %</text>
<rect x="45.30" y="415.80" width="5.60" height="5.80" fill="#3c4658"/>
<text x="54.40" y="421.00" font-size="7.2" fill="#2b2b2b" textLength="19.60" lengthAdjust="spacingAndGlyphs">DMSO</text>
<rect x="45.30" y="425.80" width="5.60" height="5.80" fill="#29a3dc"/>
<text x="54.40" y="431.00" font-size="7.2" fill="#2b2b2b" textLength="29.60" lengthAdjust="spacingAndGlyphs">VTP50469</text>
<rect x="39.05" y="470.40" width="5.30" height="6.40" fill="#3c4658"/>
<rect x="46.35" y="470.40" width="5.30" height="6.40" fill="#3c4658"/>
<rect x="53.65" y="469.75" width="5.30" height="7.05" fill="#3c4658"/>
<rect x="60.95" y="470.40" width="5.30" height="6.40" fill="#3c4658"/>
<rect x="68.25" y="470.40" width="5.30" height="6.40" fill="#3c4658"/>
<rect x="75.55" y="469.75" width="5.30" height="7.05" fill="#3c4658"/>
<rect x="88.55" y="470.40" width="5.30" height="6.40" fill="#29a3dc"/>
<rect x="95.93" y="469.75" width="5.30" height="7.05" fill="#29a3dc"/>
<rect x="103.31" y="470.72" width="5.30" height="6.08" fill="#29a3dc"/>
<rect x="110.69" y="471.04" width="5.30" height="5.76" fill="#29a3dc"/>
<rect x="118.07" y="471.36" width="5.30" height="5.44" fill="#29a3dc"/>
<rect x="125.45" y="470.72" width="5.30" height="6.08" fill="#29a3dc"/>
<circle cx="41.00" cy="470.80" r="1.95" fill="#59606c" fill-opacity="0.6" stroke="#151515" stroke-width="0.6"/>
<circle cx="42.50" cy="470.10" r="1.95" fill="#59606c" fill-opacity="0.6" stroke="#151515" stroke-width="0.6"/>
<circle cx="41.70" cy="470.90" r="1.95" fill="#59606c" fill-opacity="0.6" stroke="#151515" stroke-width="0.6"/>
<circle cx="48.30" cy="470.80" r="1.95" fill="#59606c" fill-opacity="0.6" stroke="#151515" stroke-width="0.6"/>
<circle cx="49.80" cy="470.10" r="1.95" fill="#59606c" fill-opacity="0.6" stroke="#151515" stroke-width="0.6"/>
<circle cx="49.00" cy="470.90" r="1.95" fill="#59606c" fill-opacity="0.6" stroke="#151515" stroke-width="0.6"/>
<circle cx="55.60" cy="470.15" r="1.95" fill="#59606c" fill-opacity="0.6" stroke="#151515" stroke-width="0.6"/>
<circle cx="57.10" cy="469.45" r="1.95" fill="#59606c" fill-opacity="0.6" stroke="#151515" stroke-width="0.6"/>
<circle cx="56.30" cy="470.25" r="1.95" fill="#59606c" fill-opacity="0.6" stroke="#151515" stroke-width="0.6"/>
<circle cx="62.90" cy="470.80" r="1.95" fill="#59606c" fill-opacity="0.6" stroke="#151515" stroke-width="0.6"/>
<circle cx="64.40" cy="470.10" r="1.95" fill="#59606c" fill-opacity="0.6" stroke="#151515" stroke-width="0.6"/>
<circle cx="63.60" cy="470.90" r="1.95" fill="#59606c" fill-opacity="0.6" stroke="#151515" stroke-width="0.6"/>
<circle cx="70.20" cy="470.80" r="1.95" fill="#59606c" fill-opacity="0.6" stroke="#151515" stroke-width="0.6"/>
<circle cx="71.70" cy="470.10" r="1.95" fill="#59606c" fill-opacity="0.6" stroke="#151515" stroke-width="0.6"/>
<circle cx="70.90" cy="470.90" r="1.95" fill="#59606c" fill-opacity="0.6" stroke="#151515" stroke-width="0.6"/>
<circle cx="77.50" cy="470.15" r="1.95" fill="#59606c" fill-opacity="0.6" stroke="#151515" stroke-width="0.6"/>
<circle cx="79.00" cy="469.45" r="1.95" fill="#59606c" fill-opacity="0.6" stroke="#151515" stroke-width="0.6"/>
<circle cx="78.20" cy="470.25" r="1.95" fill="#59606c" fill-opacity="0.6" stroke="#151515" stroke-width="0.6"/>
<circle cx="90.50" cy="470.80" r="1.95" fill="#b8c8d4" fill-opacity="0.6" stroke="#151515" stroke-width="0.6"/>
<circle cx="92.00" cy="470.10" r="1.95" fill="#b8c8d4" fill-opacity="0.6" stroke="#151515" stroke-width="0.6"/>
<circle cx="91.20" cy="470.90" r="1.95" fill="#b8c8d4" fill-opacity="0.6" stroke="#151515" stroke-width="0.6"/>
<circle cx="97.88" cy="470.15" r="1.95" fill="#b8c8d4" fill-opacity="0.6" stroke="#151515" stroke-width="0.6"/>
<circle cx="99.38" cy="469.45" r="1.95" fill="#b8c8d4" fill-opacity="0.6" stroke="#151515" stroke-width="0.6"/>
<circle cx="98.58" cy="470.25" r="1.95" fill="#b8c8d4" fill-opacity="0.6" stroke="#151515" stroke-width="0.6"/>
<circle cx="105.26" cy="471.12" r="1.95" fill="#b8c8d4" fill-opacity="0.6" stroke="#151515" stroke-width="0.6"/>
<circle cx="106.76" cy="470.42" r="1.95" fill="#b8c8d4" fill-opacity="0.6" stroke="#151515" stroke-width="0.6"/>
<circle cx="105.96" cy="471.22" r="1.95" fill="#b8c8d4" fill-opacity="0.6" stroke="#151515" stroke-width="0.6"/>
<circle cx="112.64" cy="471.44" r="1.95" fill="#b8c8d4" fill-opacity="0.6" stroke="#151515" stroke-width="0.6"/>
<circle cx="114.14" cy="470.74" r="1.95" fill="#b8c8d4" fill-opacity="0.6" stroke="#151515" stroke-width="0.6"/>
<circle cx="113.34" cy="471.54" r="1.95" fill="#b8c8d4" fill-opacity="0.6" stroke="#151515" stroke-width="0.6"/>
<circle cx="120.02" cy="471.76" r="1.95" fill="#b8c8d4" fill-opacity="0.6" stroke="#151515" stroke-width="0.6"/>
<circle cx="121.52" cy="471.06" r="1.95" fill="#b8c8d4" fill-opacity="0.6" stroke="#151515" stroke-width="0.6"/>
<circle cx="120.72" cy="471.86" r="1.95" fill="#b8c8d4" fill-opacity="0.6" stroke="#151515" stroke-width="0.6"/>
<circle cx="127.40" cy="471.12" r="1.95" fill="#b8c8d4" fill-opacity="0.6" stroke="#151515" stroke-width="0.6"/>
<circle cx="128.90" cy="470.42" r="1.95" fill="#b8c8d4" fill-opacity="0.6" stroke="#151515" stroke-width="0.6"/>
<circle cx="128.10" cy="471.22" r="1.95" fill="#b8c8d4" fill-opacity="0.6" stroke="#151515" stroke-width="0.6"/>
<line x1="36.40" y1="408.80" x2="36.40" y2="477.40" stroke="#231f20" stroke-width="1.2"/>
<line x1="33.20" y1="476.80" x2="132.40" y2="476.80" stroke="#3a3a3a" stroke-width="1.6"/>
<line x1="33.40" y1="463.99" x2="36.40" y2="463.99" stroke="#231f20" stroke-width="0.9"/>
<line x1="33.40" y1="451.18" x2="36.40" y2="451.18" stroke="#231f20" stroke-width="0.9"/>
<line x1="33.40" y1="438.37" x2="36.40" y2="438.37" stroke="#231f20" stroke-width="0.9"/>
<line x1="33.40" y1="425.56" x2="36.40" y2="425.56" stroke="#231f20" stroke-width="0.9"/>
<line x1="33.40" y1="412.75" x2="36.40" y2="412.75" stroke="#231f20" stroke-width="0.9"/>
<text x="29.80" y="479.10" font-size="6.6" fill="#2b2b2b" text-anchor="end">0</text>
<text x="29.80" y="466.29" font-size="6.6" fill="#2b2b2b" text-anchor="end">20</text>
<text x="29.80" y="453.48" font-size="6.6" fill="#2b2b2b" text-anchor="end">40</text>
<text x="29.80" y="440.67" font-size="6.6" fill="#2b2b2b" text-anchor="end">60</text>
<text x="29.80" y="427.86" font-size="6.6" fill="#2b2b2b" text-anchor="end">80</text>
<text x="29.80" y="415.05" font-size="6.6" fill="#2b2b2b" text-anchor="end">100</text>
<line x1="41.70" y1="476.80" x2="41.70" y2="479.70" stroke="#231f20" stroke-width="0.9"/>
<text transform="translate(45.00,485.40) rotate(-45)" font-size="6.4" fill="#2b2b2b" text-anchor="end">0</text>
<line x1="49.00" y1="476.80" x2="49.00" y2="479.70" stroke="#231f20" stroke-width="0.9"/>
<text transform="translate(52.30,485.40) rotate(-45)" font-size="6.4" fill="#2b2b2b" text-anchor="end">4</text>
<line x1="56.30" y1="476.80" x2="56.30" y2="479.70" stroke="#231f20" stroke-width="0.9"/>
<text transform="translate(59.60,485.40) rotate(-45)" font-size="6.4" fill="#2b2b2b" text-anchor="end">8</text>
<line x1="63.60" y1="476.80" x2="63.60" y2="479.70" stroke="#231f20" stroke-width="0.9"/>
<text transform="translate(66.90,485.40) rotate(-45)" font-size="6.4" fill="#2b2b2b" text-anchor="end">12</text>
<line x1="70.90" y1="476.80" x2="70.90" y2="479.70" stroke="#231f20" stroke-width="0.9"/>
<text transform="translate(74.20,485.40) rotate(-45)" font-size="6.4" fill="#2b2b2b" text-anchor="end">16</text>
<line x1="78.20" y1="476.80" x2="78.20" y2="479.70" stroke="#231f20" stroke-width="0.9"/>
<text transform="translate(81.50,485.40) rotate(-45)" font-size="6.4" fill="#2b2b2b" text-anchor="end">20</text>
<line x1="91.20" y1="476.80" x2="91.20" y2="479.70" stroke="#231f20" stroke-width="0.9"/>
<text transform="translate(94.50,485.40) rotate(-45)" font-size="6.4" fill="#2b2b2b" text-anchor="end">0</text>
<line x1="98.58" y1="476.80" x2="98.58" y2="479.70" stroke="#231f20" stroke-width="0.9"/>
<text transform="translate(101.88,485.40) rotate(-45)" font-size="6.4" fill="#2b2b2b" text-anchor="end">4</text>
<line x1="105.96" y1="476.80" x2="105.96" y2="479.70" stroke="#231f20" stroke-width="0.9"/>
<text transform="translate(109.26,485.40) rotate(-45)" font-size="6.4" fill="#2b2b2b" text-anchor="end">8</text>
<line x1="113.34" y1="476.80" x2="113.34" y2="479.70" stroke="#231f20" stroke-width="0.9"/>
<text transform="translate(116.64,485.40) rotate(-45)" font-size="6.4" fill="#2b2b2b" text-anchor="end">12</text>
<line x1="120.72" y1="476.80" x2="120.72" y2="479.70" stroke="#231f20" stroke-width="0.9"/>
<text transform="translate(124.02,485.40) rotate(-45)" font-size="6.4" fill="#2b2b2b" text-anchor="end">16</text>
<line x1="128.10" y1="476.80" x2="128.10" y2="479.70" stroke="#231f20" stroke-width="0.9"/>
<text transform="translate(131.40,485.40) rotate(-45)" font-size="6.4" fill="#2b2b2b" text-anchor="end">20</text>
<rect x="148.25" y="469.82" width="5.30" height="6.98" fill="#3c4658"/>
<rect x="155.55" y="469.11" width="5.30" height="7.69" fill="#3c4658"/>
<rect x="162.85" y="470.40" width="5.30" height="6.40" fill="#3c4658"/>
<rect x="170.15" y="471.36" width="5.30" height="5.44" fill="#3c4658"/>
<rect x="177.45" y="471.68" width="5.30" height="5.12" fill="#3c4658"/>
<rect x="184.75" y="470.72" width="5.30" height="6.08" fill="#3c4658"/>
<rect x="197.75" y="470.14" width="5.30" height="6.66" fill="#29a3dc"/>
<rect x="205.13" y="469.11" width="5.30" height="7.69" fill="#29a3dc"/>
<rect x="212.51" y="462.71" width="5.30" height="14.09" fill="#29a3dc"/>
<rect x="219.89" y="446.06" width="5.30" height="30.74" fill="#29a3dc"/>
<rect x="227.27" y="430.04" width="5.30" height="46.76" fill="#29a3dc"/>
<rect x="234.65" y="419.80" width="5.30" height="57.00" fill="#29a3dc"/>
<circle cx="150.20" cy="470.22" r="1.95" fill="#59606c" fill-opacity="0.6" stroke="#151515" stroke-width="0.6"/>
<circle cx="151.70" cy="469.52" r="1.95" fill="#59606c" fill-opacity="0.6" stroke="#151515" stroke-width="0.6"/>
<circle cx="150.90" cy="470.32" r="1.95" fill="#59606c" fill-opacity="0.6" stroke="#151515" stroke-width="0.6"/>
<circle cx="157.50" cy="469.51" r="1.95" fill="#59606c" fill-opacity="0.6" stroke="#151515" stroke-width="0.6"/>
<circle cx="159.00" cy="468.81" r="1.95" fill="#59606c" fill-opacity="0.6" stroke="#151515" stroke-width="0.6"/>
<circle cx="158.20" cy="469.61" r="1.95" fill="#59606c" fill-opacity="0.6" stroke="#151515" stroke-width="0.6"/>
<circle cx="164.80" cy="470.80" r="1.95" fill="#59606c" fill-opacity="0.6" stroke="#151515" stroke-width="0.6"/>
<circle cx="166.30" cy="470.10" r="1.95" fill="#59606c" fill-opacity="0.6" stroke="#151515" stroke-width="0.6"/>
<circle cx="165.50" cy="470.90" r="1.95" fill="#59606c" fill-opacity="0.6" stroke="#151515" stroke-width="0.6"/>
<circle cx="172.10" cy="471.76" r="1.95" fill="#59606c" fill-opacity="0.6" stroke="#151515" stroke-width="0.6"/>
<circle cx="173.60" cy="471.06" r="1.95" fill="#59606c" fill-opacity="0.6" stroke="#151515" stroke-width="0.6"/>
<circle cx="172.80" cy="471.86" r="1.95" fill="#59606c" fill-opacity="0.6" stroke="#151515" stroke-width="0.6"/>
<circle cx="179.40" cy="472.08" r="1.95" fill="#59606c" fill-opacity="0.6" stroke="#151515" stroke-width="0.6"/>
<circle cx="180.90" cy="471.38" r="1.95" fill="#59606c" fill-opacity="0.6" stroke="#151515" stroke-width="0.6"/>
<circle cx="180.10" cy="472.18" r="1.95" fill="#59606c" fill-opacity="0.6" stroke="#151515" stroke-width="0.6"/>
<circle cx="186.70" cy="471.12" r="1.95" fill="#59606c" fill-opacity="0.6" stroke="#151515" stroke-width="0.6"/>
<circle cx="188.20" cy="470.42" r="1.95" fill="#59606c" fill-opacity="0.6" stroke="#151515" stroke-width="0.6"/>
<circle cx="187.40" cy="471.22" r="1.95" fill="#59606c" fill-opacity="0.6" stroke="#151515" stroke-width="0.6"/>
<circle cx="199.70" cy="470.54" r="1.95" fill="#b8c8d4" fill-opacity="0.6" stroke="#151515" stroke-width="0.6"/>
<circle cx="201.20" cy="469.84" r="1.95" fill="#b8c8d4" fill-opacity="0.6" stroke="#151515" stroke-width="0.6"/>
<circle cx="200.40" cy="470.64" r="1.95" fill="#b8c8d4" fill-opacity="0.6" stroke="#151515" stroke-width="0.6"/>
<circle cx="207.08" cy="469.51" r="1.95" fill="#b8c8d4" fill-opacity="0.6" stroke="#151515" stroke-width="0.6"/>
<circle cx="208.58" cy="468.81" r="1.95" fill="#b8c8d4" fill-opacity="0.6" stroke="#151515" stroke-width="0.6"/>
<circle cx="207.78" cy="469.61" r="1.95" fill="#b8c8d4" fill-opacity="0.6" stroke="#151515" stroke-width="0.6"/>
<circle cx="214.46" cy="463.11" r="1.95" fill="#b8c8d4" fill-opacity="0.6" stroke="#151515" stroke-width="0.6"/>
<circle cx="215.96" cy="462.41" r="1.95" fill="#b8c8d4" fill-opacity="0.6" stroke="#151515" stroke-width="0.6"/>
<circle cx="215.16" cy="463.21" r="1.95" fill="#b8c8d4" fill-opacity="0.6" stroke="#151515" stroke-width="0.6"/>
<circle cx="215.16" cy="456.71" r="0.78" fill="#333"/>
<circle cx="215.16" cy="453.81" r="0.78" fill="#333"/>
<circle cx="215.16" cy="450.91" r="0.78" fill="#333"/>
<circle cx="221.84" cy="446.46" r="1.95" fill="#b8c8d4" fill-opacity="0.6" stroke="#151515" stroke-width="0.6"/>
<circle cx="223.34" cy="445.76" r="1.95" fill="#b8c8d4" fill-opacity="0.6" stroke="#151515" stroke-width="0.6"/>
<circle cx="222.54" cy="446.56" r="1.95" fill="#b8c8d4" fill-opacity="0.6" stroke="#151515" stroke-width="0.6"/>
<circle cx="222.54" cy="440.06" r="0.78" fill="#333"/>
<circle cx="222.54" cy="437.16" r="0.78" fill="#333"/>
<circle cx="222.54" cy="434.26" r="0.78" fill="#333"/>
<circle cx="222.54" cy="431.36" r="0.78" fill="#333"/>
<circle cx="229.22" cy="430.44" r="1.95" fill="#b8c8d4" fill-opacity="0.6" stroke="#151515" stroke-width="0.6"/>
<circle cx="230.72" cy="429.74" r="1.95" fill="#b8c8d4" fill-opacity="0.6" stroke="#151515" stroke-width="0.6"/>
<circle cx="229.92" cy="430.54" r="1.95" fill="#b8c8d4" fill-opacity="0.6" stroke="#151515" stroke-width="0.6"/>
<circle cx="229.92" cy="424.04" r="0.78" fill="#333"/>
<circle cx="229.92" cy="421.14" r="0.78" fill="#333"/>
<circle cx="229.92" cy="418.24" r="0.78" fill="#333"/>
<circle cx="229.92" cy="415.34" r="0.78" fill="#333"/>
<circle cx="236.60" cy="420.20" r="1.95" fill="#b8c8d4" fill-opacity="0.6" stroke="#151515" stroke-width="0.6"/>
<circle cx="238.10" cy="419.50" r="1.95" fill="#b8c8d4" fill-opacity="0.6" stroke="#151515" stroke-width="0.6"/>
<circle cx="237.30" cy="420.30" r="1.95" fill="#b8c8d4" fill-opacity="0.6" stroke="#151515" stroke-width="0.6"/>
<circle cx="237.30" cy="413.80" r="0.78" fill="#333"/>
<circle cx="237.30" cy="410.90" r="0.78" fill="#333"/>
<circle cx="237.30" cy="408.00" r="0.78" fill="#333"/>
<circle cx="237.30" cy="405.10" r="0.78" fill="#333"/>
<line x1="145.60" y1="408.80" x2="145.60" y2="477.40" stroke="#231f20" stroke-width="1.2"/>
<line x1="142.40" y1="476.80" x2="241.60" y2="476.80" stroke="#3a3a3a" stroke-width="1.6"/>
<line x1="142.60" y1="463.99" x2="145.60" y2="463.99" stroke="#231f20" stroke-width="0.9"/>
<line x1="142.60" y1="451.18" x2="145.60" y2="451.18" stroke="#231f20" stroke-width="0.9"/>
<line x1="142.60" y1="438.37" x2="145.60" y2="438.37" stroke="#231f20" stroke-width="0.9"/>
<line x1="142.60" y1="425.56" x2="145.60" y2="425.56" stroke="#231f20" stroke-width="0.9"/>
<line x1="142.60" y1="412.75" x2="145.60" y2="412.75" stroke="#231f20" stroke-width="0.9"/>
<line x1="150.90" y1="476.80" x2="150.90" y2="479.70" stroke="#231f20" stroke-width="0.9"/>
<text transform="translate(154.20,485.40) rotate(-45)" font-size="6.4" fill="#2b2b2b" text-anchor="end">0</text>
<line x1="158.20" y1="476.80" x2="158.20" y2="479.70" stroke="#231f20" stroke-width="0.9"/>
<text transform="translate(161.50,485.40) rotate(-45)" font-size="6.4" fill="#2b2b2b" text-anchor="end">4</text>
<line x1="165.50" y1="476.80" x2="165.50" y2="479.70" stroke="#231f20" stroke-width="0.9"/>
<text transform="translate(168.80,485.40) rotate(-45)" font-size="6.4" fill="#2b2b2b" text-anchor="end">8</text>
<line x1="172.80" y1="476.80" x2="172.80" y2="479.70" stroke="#231f20" stroke-width="0.9"/>
<text transform="translate(176.10,485.40) rotate(-45)" font-size="6.4" fill="#2b2b2b" text-anchor="end">12</text>
<line x1="180.10" y1="476.80" x2="180.10" y2="479.70" stroke="#231f20" stroke-width="0.9"/>
<text transform="translate(183.40,485.40) rotate(-45)" font-size="6.4" fill="#2b2b2b" text-anchor="end">16</text>
<line x1="187.40" y1="476.80" x2="187.40" y2="479.70" stroke="#231f20" stroke-width="0.9"/>
<text transform="translate(190.70,485.40) rotate(-45)" font-size="6.4" fill="#2b2b2b" text-anchor="end">20</text>
<line x1="200.40" y1="476.80" x2="200.40" y2="479.70" stroke="#231f20" stroke-width="0.9"/>
<text transform="translate(203.70,485.40) rotate(-45)" font-size="6.4" fill="#2b2b2b" text-anchor="end">0</text>
<line x1="207.78" y1="476.80" x2="207.78" y2="479.70" stroke="#231f20" stroke-width="0.9"/>
<text transform="translate(211.08,485.40) rotate(-45)" font-size="6.4" fill="#2b2b2b" text-anchor="end">4</text>
<line x1="215.16" y1="476.80" x2="215.16" y2="479.70" stroke="#231f20" stroke-width="0.9"/>
<text transform="translate(218.46,485.40) rotate(-45)" font-size="6.4" fill="#2b2b2b" text-anchor="end">8</text>
<line x1="222.54" y1="476.80" x2="222.54" y2="479.70" stroke="#231f20" stroke-width="0.9"/>
<text transform="translate(225.84,485.40) rotate(-45)" font-size="6.4" fill="#2b2b2b" text-anchor="end">12</text>
<line x1="229.92" y1="476.80" x2="229.92" y2="479.70" stroke="#231f20" stroke-width="0.9"/>
<text transform="translate(233.22,485.40) rotate(-45)" font-size="6.4" fill="#2b2b2b" text-anchor="end">16</text>
<line x1="237.30" y1="476.80" x2="237.30" y2="479.70" stroke="#231f20" stroke-width="0.9"/>
<text transform="translate(240.60,485.40) rotate(-45)" font-size="6.4" fill="#2b2b2b" text-anchor="end">20</text>
<rect x="257.25" y="470.40" width="5.30" height="6.40" fill="#3c4658"/>
<rect x="264.55" y="470.72" width="5.30" height="6.08" fill="#3c4658"/>
<rect x="271.85" y="472.00" width="5.30" height="4.80" fill="#3c4658"/>
<rect x="279.15" y="472.96" width="5.30" height="3.84" fill="#3c4658"/>
<rect x="286.45" y="472.00" width="5.30" height="4.80" fill="#3c4658"/>
<rect x="293.75" y="472.96" width="5.30" height="3.84" fill="#3c4658"/>
<rect x="306.75" y="470.40" width="5.30" height="6.40" fill="#29a3dc"/>
<rect x="314.13" y="470.07" width="5.30" height="6.73" fill="#29a3dc"/>
<rect x="321.51" y="464.63" width="5.30" height="12.17" fill="#29a3dc"/>
<rect x="328.89" y="449.90" width="5.30" height="26.90" fill="#29a3dc"/>
<rect x="336.27" y="436.45" width="5.30" height="40.35" fill="#29a3dc"/>
<rect x="343.65" y="427.48" width="5.30" height="49.32" fill="#29a3dc"/>
<circle cx="259.20" cy="470.80" r="1.95" fill="#59606c" fill-opacity="0.6" stroke="#151515" stroke-width="0.6"/>
<circle cx="260.70" cy="470.10" r="1.95" fill="#59606c" fill-opacity="0.6" stroke="#151515" stroke-width="0.6"/>
<circle cx="259.90" cy="470.90" r="1.95" fill="#59606c" fill-opacity="0.6" stroke="#151515" stroke-width="0.6"/>
<circle cx="266.50" cy="471.12" r="1.95" fill="#59606c" fill-opacity="0.6" stroke="#151515" stroke-width="0.6"/>
<circle cx="268.00" cy="470.42" r="1.95" fill="#59606c" fill-opacity="0.6" stroke="#151515" stroke-width="0.6"/>
<circle cx="267.20" cy="471.22" r="1.95" fill="#59606c" fill-opacity="0.6" stroke="#151515" stroke-width="0.6"/>
<circle cx="273.80" cy="472.40" r="1.95" fill="#59606c" fill-opacity="0.6" stroke="#151515" stroke-width="0.6"/>
<circle cx="275.30" cy="471.70" r="1.95" fill="#59606c" fill-opacity="0.6" stroke="#151515" stroke-width="0.6"/>
<circle cx="274.50" cy="472.50" r="1.95" fill="#59606c" fill-opacity="0.6" stroke="#151515" stroke-width="0.6"/>
<circle cx="281.10" cy="473.36" r="1.95" fill="#59606c" fill-opacity="0.6" stroke="#151515" stroke-width="0.6"/>
<circle cx="282.60" cy="472.66" r="1.95" fill="#59606c" fill-opacity="0.6" stroke="#151515" stroke-width="0.6"/>
<circle cx="281.80" cy="473.46" r="1.95" fill="#59606c" fill-opacity="0.6" stroke="#151515" stroke-width="0.6"/>
<circle cx="288.40" cy="472.40" r="1.95" fill="#59606c" fill-opacity="0.6" stroke="#151515" stroke-width="0.6"/>
<circle cx="289.90" cy="471.70" r="1.95" fill="#59606c" fill-opacity="0.6" stroke="#151515" stroke-width="0.6"/>
<circle cx="289.10" cy="472.50" r="1.95" fill="#59606c" fill-opacity="0.6" stroke="#151515" stroke-width="0.6"/>
<circle cx="295.70" cy="473.36" r="1.95" fill="#59606c" fill-opacity="0.6" stroke="#151515" stroke-width="0.6"/>
<circle cx="297.20" cy="472.66" r="1.95" fill="#59606c" fill-opacity="0.6" stroke="#151515" stroke-width="0.6"/>
<circle cx="296.40" cy="473.46" r="1.95" fill="#59606c" fill-opacity="0.6" stroke="#151515" stroke-width="0.6"/>
<circle cx="308.70" cy="470.80" r="1.95" fill="#b8c8d4" fill-opacity="0.6" stroke="#151515" stroke-width="0.6"/>
<circle cx="310.20" cy="470.10" r="1.95" fill="#b8c8d4" fill-opacity="0.6" stroke="#151515" stroke-width="0.6"/>
<circle cx="309.40" cy="470.90" r="1.95" fill="#b8c8d4" fill-opacity="0.6" stroke="#151515" stroke-width="0.6"/>
<circle cx="316.08" cy="470.47" r="1.95" fill="#b8c8d4" fill-opacity="0.6" stroke="#151515" stroke-width="0.6"/>
<circle cx="317.58" cy="469.77" r="1.95" fill="#b8c8d4" fill-opacity="0.6" stroke="#151515" stroke-width="0.6"/>
<circle cx="316.78" cy="470.57" r="1.95" fill="#b8c8d4" fill-opacity="0.6" stroke="#151515" stroke-width="0.6"/>
<circle cx="323.46" cy="465.03" r="1.95" fill="#b8c8d4" fill-opacity="0.6" stroke="#151515" stroke-width="0.6"/>
<circle cx="324.96" cy="464.33" r="1.95" fill="#b8c8d4" fill-opacity="0.6" stroke="#151515" stroke-width="0.6"/>
<circle cx="324.16" cy="465.13" r="1.95" fill="#b8c8d4" fill-opacity="0.6" stroke="#151515" stroke-width="0.6"/>
<circle cx="324.16" cy="458.63" r="0.78" fill="#333"/>
<circle cx="324.16" cy="455.73" r="0.78" fill="#333"/>
<circle cx="324.16" cy="452.83" r="0.78" fill="#333"/>
<circle cx="330.84" cy="450.30" r="1.95" fill="#b8c8d4" fill-opacity="0.6" stroke="#151515" stroke-width="0.6"/>
<circle cx="332.34" cy="449.60" r="1.95" fill="#b8c8d4" fill-opacity="0.6" stroke="#151515" stroke-width="0.6"/>
<circle cx="331.54" cy="450.40" r="1.95" fill="#b8c8d4" fill-opacity="0.6" stroke="#151515" stroke-width="0.6"/>
<circle cx="331.54" cy="443.90" r="0.78" fill="#333"/>
<circle cx="331.54" cy="441.00" r="0.78" fill="#333"/>
<circle cx="331.54" cy="438.10" r="0.78" fill="#333"/>
<circle cx="331.54" cy="435.20" r="0.78" fill="#333"/>
<circle cx="338.22" cy="436.85" r="1.95" fill="#b8c8d4" fill-opacity="0.6" stroke="#151515" stroke-width="0.6"/>
<circle cx="339.72" cy="436.15" r="1.95" fill="#b8c8d4" fill-opacity="0.6" stroke="#151515" stroke-width="0.6"/>
<circle cx="338.92" cy="436.95" r="1.95" fill="#b8c8d4" fill-opacity="0.6" stroke="#151515" stroke-width="0.6"/>
<circle cx="338.92" cy="430.45" r="0.78" fill="#333"/>
<circle cx="338.92" cy="427.55" r="0.78" fill="#333"/>
<circle cx="338.92" cy="424.65" r="0.78" fill="#333"/>
<circle cx="338.92" cy="421.75" r="0.78" fill="#333"/>
<circle cx="345.60" cy="427.88" r="1.95" fill="#b8c8d4" fill-opacity="0.6" stroke="#151515" stroke-width="0.6"/>
<circle cx="347.10" cy="427.18" r="1.95" fill="#b8c8d4" fill-opacity="0.6" stroke="#151515" stroke-width="0.6"/>
<circle cx="346.30" cy="427.98" r="1.95" fill="#b8c8d4" fill-opacity="0.6" stroke="#151515" stroke-width="0.6"/>
<circle cx="346.30" cy="421.48" r="0.78" fill="#333"/>
<circle cx="346.30" cy="418.58" r="0.78" fill="#333"/>
<circle cx="346.30" cy="415.68" r="0.78" fill="#333"/>
<circle cx="346.30" cy="412.78" r="0.78" fill="#333"/>
<line x1="254.60" y1="408.80" x2="254.60" y2="477.40" stroke="#231f20" stroke-width="1.2"/>
<line x1="251.40" y1="476.80" x2="350.60" y2="476.80" stroke="#3a3a3a" stroke-width="1.6"/>
<line x1="251.60" y1="463.99" x2="254.60" y2="463.99" stroke="#231f20" stroke-width="0.9"/>
<line x1="251.60" y1="451.18" x2="254.60" y2="451.18" stroke="#231f20" stroke-width="0.9"/>
<line x1="251.60" y1="438.37" x2="254.60" y2="438.37" stroke="#231f20" stroke-width="0.9"/>
<line x1="251.60" y1="425.56" x2="254.60" y2="425.56" stroke="#231f20" stroke-width="0.9"/>
<line x1="251.60" y1="412.75" x2="254.60" y2="412.75" stroke="#231f20" stroke-width="0.9"/>
<line x1="259.90" y1="476.80" x2="259.90" y2="479.70" stroke="#231f20" stroke-width="0.9"/>
<text transform="translate(263.20,485.40) rotate(-45)" font-size="6.4" fill="#2b2b2b" text-anchor="end">0</text>
<line x1="267.20" y1="476.80" x2="267.20" y2="479.70" stroke="#231f20" stroke-width="0.9"/>
<text transform="translate(270.50,485.40) rotate(-45)" font-size="6.4" fill="#2b2b2b" text-anchor="end">4</text>
<line x1="274.50" y1="476.80" x2="274.50" y2="479.70" stroke="#231f20" stroke-width="0.9"/>
<text transform="translate(277.80,485.40) rotate(-45)" font-size="6.4" fill="#2b2b2b" text-anchor="end">8</text>
<line x1="281.80" y1="476.80" x2="281.80" y2="479.70" stroke="#231f20" stroke-width="0.9"/>
<text transform="translate(285.10,485.40) rotate(-45)" font-size="6.4" fill="#2b2b2b" text-anchor="end">12</text>
<line x1="289.10" y1="476.80" x2="289.10" y2="479.70" stroke="#231f20" stroke-width="0.9"/>
<text transform="translate(292.40,485.40) rotate(-45)" font-size="6.4" fill="#2b2b2b" text-anchor="end">16</text>
<line x1="296.40" y1="476.80" x2="296.40" y2="479.70" stroke="#231f20" stroke-width="0.9"/>
<text transform="translate(299.70,485.40) rotate(-45)" font-size="6.4" fill="#2b2b2b" text-anchor="end">20</text>
<line x1="309.40" y1="476.80" x2="309.40" y2="479.70" stroke="#231f20" stroke-width="0.9"/>
<text transform="translate(312.70,485.40) rotate(-45)" font-size="6.4" fill="#2b2b2b" text-anchor="end">0</text>
<line x1="316.78" y1="476.80" x2="316.78" y2="479.70" stroke="#231f20" stroke-width="0.9"/>
<text transform="translate(320.08,485.40) rotate(-45)" font-size="6.4" fill="#2b2b2b" text-anchor="end">4</text>
<line x1="324.16" y1="476.80" x2="324.16" y2="479.70" stroke="#231f20" stroke-width="0.9"/>
<text transform="translate(327.46,485.40) rotate(-45)" font-size="6.4" fill="#2b2b2b" text-anchor="end">8</text>
<line x1="331.54" y1="476.80" x2="331.54" y2="479.70" stroke="#231f20" stroke-width="0.9"/>
<text transform="translate(334.84,485.40) rotate(-45)" font-size="6.4" fill="#2b2b2b" text-anchor="end">12</text>
<line x1="338.92" y1="476.80" x2="338.92" y2="479.70" stroke="#231f20" stroke-width="0.9"/>
<text transform="translate(342.22,485.40) rotate(-45)" font-size="6.4" fill="#2b2b2b" text-anchor="end">16</text>
<line x1="346.30" y1="476.80" x2="346.30" y2="479.70" stroke="#231f20" stroke-width="0.9"/>
<text transform="translate(349.60,485.40) rotate(-45)" font-size="6.4" fill="#2b2b2b" text-anchor="end">20</text>
<rect x="367.15" y="470.40" width="5.30" height="6.40" fill="#3c4658"/>
<rect x="374.45" y="471.04" width="5.30" height="5.76" fill="#3c4658"/>
<rect x="381.75" y="469.75" width="5.30" height="7.05" fill="#3c4658"/>
<rect x="389.05" y="470.40" width="5.30" height="6.40" fill="#3c4658"/>
<rect x="396.35" y="469.75" width="5.30" height="7.05" fill="#3c4658"/>
<rect x="403.65" y="469.11" width="5.30" height="7.69" fill="#3c4658"/>
<rect x="416.65" y="470.40" width="5.30" height="6.40" fill="#29a3dc"/>
<rect x="424.03" y="468.47" width="5.30" height="8.33" fill="#29a3dc"/>
<rect x="431.41" y="464.63" width="5.30" height="12.17" fill="#29a3dc"/>
<rect x="438.79" y="456.94" width="5.30" height="19.86" fill="#29a3dc"/>
<rect x="446.17" y="447.34" width="5.30" height="29.46" fill="#29a3dc"/>
<rect x="453.55" y="439.65" width="5.30" height="37.15" fill="#29a3dc"/>
<circle cx="369.10" cy="470.80" r="1.95" fill="#59606c" fill-opacity="0.6" stroke="#151515" stroke-width="0.6"/>
<circle cx="370.60" cy="470.10" r="1.95" fill="#59606c" fill-opacity="0.6" stroke="#151515" stroke-width="0.6"/>
<circle cx="369.80" cy="470.90" r="1.95" fill="#59606c" fill-opacity="0.6" stroke="#151515" stroke-width="0.6"/>
<circle cx="376.40" cy="471.44" r="1.95" fill="#59606c" fill-opacity="0.6" stroke="#151515" stroke-width="0.6"/>
<circle cx="377.90" cy="470.74" r="1.95" fill="#59606c" fill-opacity="0.6" stroke="#151515" stroke-width="0.6"/>
<circle cx="377.10" cy="471.54" r="1.95" fill="#59606c" fill-opacity="0.6" stroke="#151515" stroke-width="0.6"/>
<circle cx="383.70" cy="470.15" r="1.95" fill="#59606c" fill-opacity="0.6" stroke="#151515" stroke-width="0.6"/>
<circle cx="385.20" cy="469.45" r="1.95" fill="#59606c" fill-opacity="0.6" stroke="#151515" stroke-width="0.6"/>
<circle cx="384.40" cy="470.25" r="1.95" fill="#59606c" fill-opacity="0.6" stroke="#151515" stroke-width="0.6"/>
<circle cx="391.00" cy="470.80" r="1.95" fill="#59606c" fill-opacity="0.6" stroke="#151515" stroke-width="0.6"/>
<circle cx="392.50" cy="470.10" r="1.95" fill="#59606c" fill-opacity="0.6" stroke="#151515" stroke-width="0.6"/>
<circle cx="391.70" cy="470.90" r="1.95" fill="#59606c" fill-opacity="0.6" stroke="#151515" stroke-width="0.6"/>
<circle cx="398.30" cy="470.15" r="1.95" fill="#59606c" fill-opacity="0.6" stroke="#151515" stroke-width="0.6"/>
<circle cx="399.80" cy="469.45" r="1.95" fill="#59606c" fill-opacity="0.6" stroke="#151515" stroke-width="0.6"/>
<circle cx="399.00" cy="470.25" r="1.95" fill="#59606c" fill-opacity="0.6" stroke="#151515" stroke-width="0.6"/>
<circle cx="405.60" cy="469.51" r="1.95" fill="#59606c" fill-opacity="0.6" stroke="#151515" stroke-width="0.6"/>
<circle cx="407.10" cy="468.81" r="1.95" fill="#59606c" fill-opacity="0.6" stroke="#151515" stroke-width="0.6"/>
<circle cx="406.30" cy="469.61" r="1.95" fill="#59606c" fill-opacity="0.6" stroke="#151515" stroke-width="0.6"/>
<circle cx="418.60" cy="470.80" r="1.95" fill="#b8c8d4" fill-opacity="0.6" stroke="#151515" stroke-width="0.6"/>
<circle cx="420.10" cy="470.10" r="1.95" fill="#b8c8d4" fill-opacity="0.6" stroke="#151515" stroke-width="0.6"/>
<circle cx="419.30" cy="470.90" r="1.95" fill="#b8c8d4" fill-opacity="0.6" stroke="#151515" stroke-width="0.6"/>
<circle cx="425.98" cy="468.87" r="1.95" fill="#b8c8d4" fill-opacity="0.6" stroke="#151515" stroke-width="0.6"/>
<circle cx="427.48" cy="468.17" r="1.95" fill="#b8c8d4" fill-opacity="0.6" stroke="#151515" stroke-width="0.6"/>
<circle cx="426.68" cy="468.97" r="1.95" fill="#b8c8d4" fill-opacity="0.6" stroke="#151515" stroke-width="0.6"/>
<circle cx="433.36" cy="465.03" r="1.95" fill="#b8c8d4" fill-opacity="0.6" stroke="#151515" stroke-width="0.6"/>
<circle cx="434.86" cy="464.33" r="1.95" fill="#b8c8d4" fill-opacity="0.6" stroke="#151515" stroke-width="0.6"/>
<circle cx="434.06" cy="465.13" r="1.95" fill="#b8c8d4" fill-opacity="0.6" stroke="#151515" stroke-width="0.6"/>
<circle cx="434.06" cy="458.63" r="0.78" fill="#333"/>
<circle cx="434.06" cy="455.73" r="0.78" fill="#333"/>
<circle cx="440.74" cy="457.34" r="1.95" fill="#b8c8d4" fill-opacity="0.6" stroke="#151515" stroke-width="0.6"/>
<circle cx="442.24" cy="456.64" r="1.95" fill="#b8c8d4" fill-opacity="0.6" stroke="#151515" stroke-width="0.6"/>
<circle cx="441.44" cy="457.44" r="1.95" fill="#b8c8d4" fill-opacity="0.6" stroke="#151515" stroke-width="0.6"/>
<circle cx="441.44" cy="450.94" r="0.78" fill="#333"/>
<circle cx="441.44" cy="448.04" r="0.78" fill="#333"/>
<circle cx="441.44" cy="445.14" r="0.78" fill="#333"/>
<circle cx="448.12" cy="447.74" r="1.95" fill="#b8c8d4" fill-opacity="0.6" stroke="#151515" stroke-width="0.6"/>
<circle cx="449.62" cy="447.04" r="1.95" fill="#b8c8d4" fill-opacity="0.6" stroke="#151515" stroke-width="0.6"/>
<circle cx="448.82" cy="447.84" r="1.95" fill="#b8c8d4" fill-opacity="0.6" stroke="#151515" stroke-width="0.6"/>
<circle cx="448.82" cy="441.34" r="0.78" fill="#333"/>
<circle cx="448.82" cy="438.44" r="0.78" fill="#333"/>
<circle cx="448.82" cy="435.54" r="0.78" fill="#333"/>
<circle cx="448.82" cy="432.64" r="0.78" fill="#333"/>
<circle cx="455.50" cy="440.05" r="1.95" fill="#b8c8d4" fill-opacity="0.6" stroke="#151515" stroke-width="0.6"/>
<circle cx="457.00" cy="439.35" r="1.95" fill="#b8c8d4" fill-opacity="0.6" stroke="#151515" stroke-width="0.6"/>
<circle cx="456.20" cy="440.15" r="1.95" fill="#b8c8d4" fill-opacity="0.6" stroke="#151515" stroke-width="0.6"/>
<circle cx="456.20" cy="433.65" r="0.78" fill="#333"/>
<circle cx="456.20" cy="430.75" r="0.78" fill="#333"/>
<circle cx="456.20" cy="427.85" r="0.78" fill="#333"/>
<circle cx="456.20" cy="424.95" r="0.78" fill="#333"/>
<line x1="364.50" y1="408.80" x2="364.50" y2="477.40" stroke="#231f20" stroke-width="1.2"/>
<line x1="361.30" y1="476.80" x2="460.50" y2="476.80" stroke="#3a3a3a" stroke-width="1.6"/>
<line x1="361.50" y1="463.99" x2="364.50" y2="463.99" stroke="#231f20" stroke-width="0.9"/>
<line x1="361.50" y1="451.18" x2="364.50" y2="451.18" stroke="#231f20" stroke-width="0.9"/>
<line x1="361.50" y1="438.37" x2="364.50" y2="438.37" stroke="#231f20" stroke-width="0.9"/>
<line x1="361.50" y1="425.56" x2="364.50" y2="425.56" stroke="#231f20" stroke-width="0.9"/>
<line x1="361.50" y1="412.75" x2="364.50" y2="412.75" stroke="#231f20" stroke-width="0.9"/>
<line x1="369.80" y1="476.80" x2="369.80" y2="479.70" stroke="#231f20" stroke-width="0.9"/>
<text transform="translate(373.10,485.40) rotate(-45)" font-size="6.4" fill="#2b2b2b" text-anchor="end">0</text>
<line x1="377.10" y1="476.80" x2="377.10" y2="479.70" stroke="#231f20" stroke-width="0.9"/>
<text transform="translate(380.40,485.40) rotate(-45)" font-size="6.4" fill="#2b2b2b" text-anchor="end">4</text>
<line x1="384.40" y1="476.80" x2="384.40" y2="479.70" stroke="#231f20" stroke-width="0.9"/>
<text transform="translate(387.70,485.40) rotate(-45)" font-size="6.4" fill="#2b2b2b" text-anchor="end">8</text>
<line x1="391.70" y1="476.80" x2="391.70" y2="479.70" stroke="#231f20" stroke-width="0.9"/>
<text transform="translate(395.00,485.40) rotate(-45)" font-size="6.4" fill="#2b2b2b" text-anchor="end">12</text>
<line x1="399.00" y1="476.80" x2="399.00" y2="479.70" stroke="#231f20" stroke-width="0.9"/>
<text transform="translate(402.30,485.40) rotate(-45)" font-size="6.4" fill="#2b2b2b" text-anchor="end">16</text>
<line x1="406.30" y1="476.80" x2="406.30" y2="479.70" stroke="#231f20" stroke-width="0.9"/>
<text transform="translate(409.60,485.40) rotate(-45)" font-size="6.4" fill="#2b2b2b" text-anchor="end">20</text>
<line x1="419.30" y1="476.80" x2="419.30" y2="479.70" stroke="#231f20" stroke-width="0.9"/>
<text transform="translate(422.60,485.40) rotate(-45)" font-size="6.4" fill="#2b2b2b" text-anchor="end">0</text>
<line x1="426.68" y1="476.80" x2="426.68" y2="479.70" stroke="#231f20" stroke-width="0.9"/>
<text transform="translate(429.98,485.40) rotate(-45)" font-size="6.4" fill="#2b2b2b" text-anchor="end">4</text>
<line x1="434.06" y1="476.80" x2="434.06" y2="479.70" stroke="#231f20" stroke-width="0.9"/>
<text transform="translate(437.36,485.40) rotate(-45)" font-size="6.4" fill="#2b2b2b" text-anchor="end">8</text>
<line x1="441.44" y1="476.80" x2="441.44" y2="479.70" stroke="#231f20" stroke-width="0.9"/>
<text transform="translate(444.74,485.40) rotate(-45)" font-size="6.4" fill="#2b2b2b" text-anchor="end">12</text>
<line x1="448.82" y1="476.80" x2="448.82" y2="479.70" stroke="#231f20" stroke-width="0.9"/>
<text transform="translate(452.12,485.40) rotate(-45)" font-size="6.4" fill="#2b2b2b" text-anchor="end">16</text>
<line x1="456.20" y1="476.80" x2="456.20" y2="479.70" stroke="#231f20" stroke-width="0.9"/>
<text transform="translate(459.50,485.40) rotate(-45)" font-size="6.4" fill="#2b2b2b" text-anchor="end">20</text>
<path d="M466,406.20 H469.6 V486.40 H466" fill="none" stroke="#333" stroke-width="0.95"/>
<text x="472.5" y="445.00" font-size="6.8" fill="#2b2b2b" textLength="40.0" lengthAdjust="spacingAndGlyphs">OCI-AML2<tspan font-size="4.4" dy="-2.7">Cas9</tspan></text>
<text x="477.40" y="452.70" font-size="6.8" fill="#2b2b2b" textLength="30.90" lengthAdjust="spacingAndGlyphs">(MLL-AF6)</text>
<text x="6.40" y="507.40" font-size="11.8" fill="#000" font-weight="bold">H</text>
<text transform="translate(15.3,566.30) rotate(-90)" font-size="7.8" fill="#2b2b2b" textLength="44.4" lengthAdjust="spacingAndGlyphs">sgRNA-EGFP %</text>
<rect x="45.30" y="516.70" width="5.60" height="5.80" fill="#3c4658"/>
<text x="54.40" y="521.90" font-size="7.2" fill="#2b2b2b" textLength="19.60" lengthAdjust="spacingAndGlyphs">DMSO</text>
<rect x="45.30" y="526.70" width="5.60" height="5.80" fill="#29a3dc"/>
<text x="54.40" y="531.90" font-size="7.2" fill="#2b2b2b" textLength="29.60" lengthAdjust="spacingAndGlyphs">VTP50469</text>
<rect x="39.05" y="571.62" width="5.30" height="6.08" fill="#3c4658"/>
<rect x="46.35" y="572.70" width="5.30" height="5.00" fill="#3c4658"/>
<rect x="53.65" y="573.66" width="5.30" height="4.04" fill="#3c4658"/>
<rect x="60.95" y="573.09" width="5.30" height="4.61" fill="#3c4658"/>
<rect x="68.25" y="573.09" width="5.30" height="4.61" fill="#3c4658"/>
<rect x="75.55" y="573.09" width="5.30" height="4.61" fill="#3c4658"/>
<rect x="88.55" y="571.62" width="5.30" height="6.08" fill="#29a3dc"/>
<rect x="95.93" y="572.70" width="5.30" height="5.00" fill="#29a3dc"/>
<rect x="103.31" y="573.09" width="5.30" height="4.61" fill="#29a3dc"/>
<rect x="110.69" y="573.09" width="5.30" height="4.61" fill="#29a3dc"/>
<rect x="118.07" y="573.66" width="5.30" height="4.04" fill="#29a3dc"/>
<rect x="125.45" y="573.09" width="5.30" height="4.61" fill="#29a3dc"/>
<circle cx="41.00" cy="572.02" r="1.95" fill="#59606c" fill-opacity="0.6" stroke="#151515" stroke-width="0.6"/>
<circle cx="42.50" cy="571.32" r="1.95" fill="#59606c" fill-opacity="0.6" stroke="#151515" stroke-width="0.6"/>
<circle cx="41.70" cy="572.12" r="1.95" fill="#59606c" fill-opacity="0.6" stroke="#151515" stroke-width="0.6"/>
<circle cx="48.30" cy="573.10" r="1.95" fill="#59606c" fill-opacity="0.6" stroke="#151515" stroke-width="0.6"/>
<circle cx="49.80" cy="572.40" r="1.95" fill="#59606c" fill-opacity="0.6" stroke="#151515" stroke-width="0.6"/>
<circle cx="49.00" cy="573.20" r="1.95" fill="#59606c" fill-opacity="0.6" stroke="#151515" stroke-width="0.6"/>
<circle cx="55.60" cy="574.06" r="1.95" fill="#59606c" fill-opacity="0.6" stroke="#151515" stroke-width="0.6"/>
<circle cx="57.10" cy="573.36" r="1.95" fill="#59606c" fill-opacity="0.6" stroke="#151515" stroke-width="0.6"/>
<circle cx="56.30" cy="574.16" r="1.95" fill="#59606c" fill-opacity="0.6" stroke="#151515" stroke-width="0.6"/>
<circle cx="62.90" cy="573.49" r="1.95" fill="#59606c" fill-opacity="0.6" stroke="#151515" stroke-width="0.6"/>
<circle cx="64.40" cy="572.79" r="1.95" fill="#59606c" fill-opacity="0.6" stroke="#151515" stroke-width="0.6"/>
<circle cx="63.60" cy="573.59" r="1.95" fill="#59606c" fill-opacity="0.6" stroke="#151515" stroke-width="0.6"/>
<circle cx="70.20" cy="573.49" r="1.95" fill="#59606c" fill-opacity="0.6" stroke="#151515" stroke-width="0.6"/>
<circle cx="71.70" cy="572.79" r="1.95" fill="#59606c" fill-opacity="0.6" stroke="#151515" stroke-width="0.6"/>
<circle cx="70.90" cy="573.59" r="1.95" fill="#59606c" fill-opacity="0.6" stroke="#151515" stroke-width="0.6"/>
<circle cx="77.50" cy="573.49" r="1.95" fill="#59606c" fill-opacity="0.6" stroke="#151515" stroke-width="0.6"/>
<circle cx="79.00" cy="572.79" r="1.95" fill="#59606c" fill-opacity="0.6" stroke="#151515" stroke-width="0.6"/>
<circle cx="78.20" cy="573.59" r="1.95" fill="#59606c" fill-opacity="0.6" stroke="#151515" stroke-width="0.6"/>
<circle cx="90.50" cy="572.02" r="1.95" fill="#b8c8d4" fill-opacity="0.6" stroke="#151515" stroke-width="0.6"/>
<circle cx="92.00" cy="571.32" r="1.95" fill="#b8c8d4" fill-opacity="0.6" stroke="#151515" stroke-width="0.6"/>
<circle cx="91.20" cy="572.12" r="1.95" fill="#b8c8d4" fill-opacity="0.6" stroke="#151515" stroke-width="0.6"/>
<circle cx="97.88" cy="573.10" r="1.95" fill="#b8c8d4" fill-opacity="0.6" stroke="#151515" stroke-width="0.6"/>
<circle cx="99.38" cy="572.40" r="1.95" fill="#b8c8d4" fill-opacity="0.6" stroke="#151515" stroke-width="0.6"/>
<circle cx="98.58" cy="573.20" r="1.95" fill="#b8c8d4" fill-opacity="0.6" stroke="#151515" stroke-width="0.6"/>
<circle cx="105.26" cy="573.49" r="1.95" fill="#b8c8d4" fill-opacity="0.6" stroke="#151515" stroke-width="0.6"/>
<circle cx="106.76" cy="572.79" r="1.95" fill="#b8c8d4" fill-opacity="0.6" stroke="#151515" stroke-width="0.6"/>
<circle cx="105.96" cy="573.59" r="1.95" fill="#b8c8d4" fill-opacity="0.6" stroke="#151515" stroke-width="0.6"/>
<circle cx="112.64" cy="573.49" r="1.95" fill="#b8c8d4" fill-opacity="0.6" stroke="#151515" stroke-width="0.6"/>
<circle cx="114.14" cy="572.79" r="1.95" fill="#b8c8d4" fill-opacity="0.6" stroke="#151515" stroke-width="0.6"/>
<circle cx="113.34" cy="573.59" r="1.95" fill="#b8c8d4" fill-opacity="0.6" stroke="#151515" stroke-width="0.6"/>
<circle cx="120.02" cy="574.06" r="1.95" fill="#b8c8d4" fill-opacity="0.6" stroke="#151515" stroke-width="0.6"/>
<circle cx="121.52" cy="573.36" r="1.95" fill="#b8c8d4" fill-opacity="0.6" stroke="#151515" stroke-width="0.6"/>
<circle cx="120.72" cy="574.16" r="1.95" fill="#b8c8d4" fill-opacity="0.6" stroke="#151515" stroke-width="0.6"/>
<circle cx="127.40" cy="573.49" r="1.95" fill="#b8c8d4" fill-opacity="0.6" stroke="#151515" stroke-width="0.6"/>
<circle cx="128.90" cy="572.79" r="1.95" fill="#b8c8d4" fill-opacity="0.6" stroke="#151515" stroke-width="0.6"/>
<circle cx="128.10" cy="573.59" r="1.95" fill="#b8c8d4" fill-opacity="0.6" stroke="#151515" stroke-width="0.6"/>
<line x1="36.40" y1="509.70" x2="36.40" y2="578.30" stroke="#231f20" stroke-width="1.2"/>
<line x1="33.20" y1="577.70" x2="132.40" y2="577.70" stroke="#3a3a3a" stroke-width="1.6"/>
<line x1="33.40" y1="564.89" x2="36.40" y2="564.89" stroke="#231f20" stroke-width="0.9"/>
<line x1="33.40" y1="552.08" x2="36.40" y2="552.08" stroke="#231f20" stroke-width="0.9"/>
<line x1="33.40" y1="539.27" x2="36.40" y2="539.27" stroke="#231f20" stroke-width="0.9"/>
<line x1="33.40" y1="526.46" x2="36.40" y2="526.46" stroke="#231f20" stroke-width="0.9"/>
<line x1="33.40" y1="513.65" x2="36.40" y2="513.65" stroke="#231f20" stroke-width="0.9"/>
<text x="29.80" y="580.00" font-size="6.6" fill="#2b2b2b" text-anchor="end">0</text>
<text x="29.80" y="567.19" font-size="6.6" fill="#2b2b2b" text-anchor="end">20</text>
<text x="29.80" y="554.38" font-size="6.6" fill="#2b2b2b" text-anchor="end">40</text>
<text x="29.80" y="541.57" font-size="6.6" fill="#2b2b2b" text-anchor="end">60</text>
<text x="29.80" y="528.76" font-size="6.6" fill="#2b2b2b" text-anchor="end">80</text>
<text x="29.80" y="515.95" font-size="6.6" fill="#2b2b2b" text-anchor="end">100</text>
<line x1="41.70" y1="577.70" x2="41.70" y2="580.60" stroke="#231f20" stroke-width="0.9"/>
<text transform="translate(45.00,586.30) rotate(-45)" font-size="6.4" fill="#2b2b2b" text-anchor="end">0</text>
<line x1="49.00" y1="577.70" x2="49.00" y2="580.60" stroke="#231f20" stroke-width="0.9"/>
<text transform="translate(52.30,586.30) rotate(-45)" font-size="6.4" fill="#2b2b2b" text-anchor="end">4</text>
<line x1="56.30" y1="577.70" x2="56.30" y2="580.60" stroke="#231f20" stroke-width="0.9"/>
<text transform="translate(59.60,586.30) rotate(-45)" font-size="6.4" fill="#2b2b2b" text-anchor="end">8</text>
<line x1="63.60" y1="577.70" x2="63.60" y2="580.60" stroke="#231f20" stroke-width="0.9"/>
<text transform="translate(66.90,586.30) rotate(-45)" font-size="6.4" fill="#2b2b2b" text-anchor="end">12</text>
<line x1="70.90" y1="577.70" x2="70.90" y2="580.60" stroke="#231f20" stroke-width="0.9"/>
<text transform="translate(74.20,586.30) rotate(-45)" font-size="6.4" fill="#2b2b2b" text-anchor="end">16</text>
<line x1="78.20" y1="577.70" x2="78.20" y2="580.60" stroke="#231f20" stroke-width="0.9"/>
<text transform="translate(81.50,586.30) rotate(-45)" font-size="6.4" fill="#2b2b2b" text-anchor="end">20</text>
<line x1="91.20" y1="577.70" x2="91.20" y2="580.60" stroke="#231f20" stroke-width="0.9"/>
<text transform="translate(94.50,586.30) rotate(-45)" font-size="6.4" fill="#2b2b2b" text-anchor="end">0</text>
<line x1="98.58" y1="577.70" x2="98.58" y2="580.60" stroke="#231f20" stroke-width="0.9"/>
<text transform="translate(101.88,586.30) rotate(-45)" font-size="6.4" fill="#2b2b2b" text-anchor="end">4</text>
<line x1="105.96" y1="577.70" x2="105.96" y2="580.60" stroke="#231f20" stroke-width="0.9"/>
<text transform="translate(109.26,586.30) rotate(-45)" font-size="6.4" fill="#2b2b2b" text-anchor="end">8</text>
<line x1="113.34" y1="577.70" x2="113.34" y2="580.60" stroke="#231f20" stroke-width="0.9"/>
<text transform="translate(116.64,586.30) rotate(-45)" font-size="6.4" fill="#2b2b2b" text-anchor="end">12</text>
<line x1="120.72" y1="577.70" x2="120.72" y2="580.60" stroke="#231f20" stroke-width="0.9"/>
<text transform="translate(124.02,586.30) rotate(-45)" font-size="6.4" fill="#2b2b2b" text-anchor="end">16</text>
<line x1="128.10" y1="577.70" x2="128.10" y2="580.60" stroke="#231f20" stroke-width="0.9"/>
<text transform="translate(131.40,586.30) rotate(-45)" font-size="6.4" fill="#2b2b2b" text-anchor="end">20</text>
<rect x="148.25" y="571.94" width="5.30" height="5.76" fill="#3c4658"/>
<rect x="155.55" y="573.22" width="5.30" height="4.48" fill="#3c4658"/>
<rect x="162.85" y="574.50" width="5.30" height="3.20" fill="#3c4658"/>
<rect x="170.15" y="574.50" width="5.30" height="3.20" fill="#3c4658"/>
<rect x="177.45" y="573.22" width="5.30" height="4.48" fill="#3c4658"/>
<rect x="184.75" y="574.50" width="5.30" height="3.20" fill="#3c4658"/>
<rect x="197.75" y="571.94" width="5.30" height="5.76" fill="#29a3dc"/>
<rect x="205.13" y="573.22" width="5.30" height="4.48" fill="#29a3dc"/>
<rect x="212.51" y="568.73" width="5.30" height="8.97" fill="#29a3dc"/>
<rect x="219.89" y="554.64" width="5.30" height="23.06" fill="#29a3dc"/>
<rect x="227.27" y="542.47" width="5.30" height="35.23" fill="#29a3dc"/>
<rect x="234.65" y="539.27" width="5.30" height="38.43" fill="#29a3dc"/>
<circle cx="150.20" cy="572.34" r="1.95" fill="#59606c" fill-opacity="0.6" stroke="#151515" stroke-width="0.6"/>
<circle cx="151.70" cy="571.64" r="1.95" fill="#59606c" fill-opacity="0.6" stroke="#151515" stroke-width="0.6"/>
<circle cx="150.90" cy="572.44" r="1.95" fill="#59606c" fill-opacity="0.6" stroke="#151515" stroke-width="0.6"/>
<circle cx="157.50" cy="573.62" r="1.95" fill="#59606c" fill-opacity="0.6" stroke="#151515" stroke-width="0.6"/>
<circle cx="159.00" cy="572.92" r="1.95" fill="#59606c" fill-opacity="0.6" stroke="#151515" stroke-width="0.6"/>
<circle cx="158.20" cy="573.72" r="1.95" fill="#59606c" fill-opacity="0.6" stroke="#151515" stroke-width="0.6"/>
<circle cx="164.80" cy="574.90" r="1.95" fill="#59606c" fill-opacity="0.6" stroke="#151515" stroke-width="0.6"/>
<circle cx="166.30" cy="574.20" r="1.95" fill="#59606c" fill-opacity="0.6" stroke="#151515" stroke-width="0.6"/>
<circle cx="165.50" cy="575.00" r="1.95" fill="#59606c" fill-opacity="0.6" stroke="#151515" stroke-width="0.6"/>
<circle cx="172.10" cy="574.90" r="1.95" fill="#59606c" fill-opacity="0.6" stroke="#151515" stroke-width="0.6"/>
<circle cx="173.60" cy="574.20" r="1.95" fill="#59606c" fill-opacity="0.6" stroke="#151515" stroke-width="0.6"/>
<circle cx="172.80" cy="575.00" r="1.95" fill="#59606c" fill-opacity="0.6" stroke="#151515" stroke-width="0.6"/>
<circle cx="179.40" cy="573.62" r="1.95" fill="#59606c" fill-opacity="0.6" stroke="#151515" stroke-width="0.6"/>
<circle cx="180.90" cy="572.92" r="1.95" fill="#59606c" fill-opacity="0.6" stroke="#151515" stroke-width="0.6"/>
<circle cx="180.10" cy="573.72" r="1.95" fill="#59606c" fill-opacity="0.6" stroke="#151515" stroke-width="0.6"/>
<circle cx="186.70" cy="574.90" r="1.95" fill="#59606c" fill-opacity="0.6" stroke="#151515" stroke-width="0.6"/>
<circle cx="188.20" cy="574.20" r="1.95" fill="#59606c" fill-opacity="0.6" stroke="#151515" stroke-width="0.6"/>
<circle cx="187.40" cy="575.00" r="1.95" fill="#59606c" fill-opacity="0.6" stroke="#151515" stroke-width="0.6"/>
<circle cx="199.70" cy="572.34" r="1.95" fill="#b8c8d4" fill-opacity="0.6" stroke="#151515" stroke-width="0.6"/>
<circle cx="201.20" cy="571.64" r="1.95" fill="#b8c8d4" fill-opacity="0.6" stroke="#151515" stroke-width="0.6"/>
<circle cx="200.40" cy="572.44" r="1.95" fill="#b8c8d4" fill-opacity="0.6" stroke="#151515" stroke-width="0.6"/>
<circle cx="207.08" cy="573.62" r="1.95" fill="#b8c8d4" fill-opacity="0.6" stroke="#151515" stroke-width="0.6"/>
<circle cx="208.58" cy="572.92" r="1.95" fill="#b8c8d4" fill-opacity="0.6" stroke="#151515" stroke-width="0.6"/>
<circle cx="207.78" cy="573.72" r="1.95" fill="#b8c8d4" fill-opacity="0.6" stroke="#151515" stroke-width="0.6"/>
<circle cx="214.46" cy="569.13" r="1.95" fill="#b8c8d4" fill-opacity="0.6" stroke="#151515" stroke-width="0.6"/>
<circle cx="215.96" cy="568.43" r="1.95" fill="#b8c8d4" fill-opacity="0.6" stroke="#151515" stroke-width="0.6"/>
<circle cx="215.16" cy="569.23" r="1.95" fill="#b8c8d4" fill-opacity="0.6" stroke="#151515" stroke-width="0.6"/>
<circle cx="215.16" cy="562.73" r="0.78" fill="#333"/>
<circle cx="215.16" cy="559.83" r="0.78" fill="#333"/>
<circle cx="215.16" cy="556.93" r="0.78" fill="#333"/>
<circle cx="215.16" cy="554.03" r="0.78" fill="#333"/>
<circle cx="221.84" cy="555.04" r="1.95" fill="#b8c8d4" fill-opacity="0.6" stroke="#151515" stroke-width="0.6"/>
<circle cx="223.34" cy="554.34" r="1.95" fill="#b8c8d4" fill-opacity="0.6" stroke="#151515" stroke-width="0.6"/>
<circle cx="222.54" cy="555.14" r="1.95" fill="#b8c8d4" fill-opacity="0.6" stroke="#151515" stroke-width="0.6"/>
<circle cx="222.54" cy="548.64" r="0.78" fill="#333"/>
<circle cx="222.54" cy="545.74" r="0.78" fill="#333"/>
<circle cx="222.54" cy="542.84" r="0.78" fill="#333"/>
<circle cx="222.54" cy="539.94" r="0.78" fill="#333"/>
<circle cx="229.22" cy="542.87" r="1.95" fill="#b8c8d4" fill-opacity="0.6" stroke="#151515" stroke-width="0.6"/>
<circle cx="230.72" cy="542.17" r="1.95" fill="#b8c8d4" fill-opacity="0.6" stroke="#151515" stroke-width="0.6"/>
<circle cx="229.92" cy="542.97" r="1.95" fill="#b8c8d4" fill-opacity="0.6" stroke="#151515" stroke-width="0.6"/>
<circle cx="229.92" cy="536.47" r="0.78" fill="#333"/>
<circle cx="229.92" cy="533.57" r="0.78" fill="#333"/>
<circle cx="229.92" cy="530.67" r="0.78" fill="#333"/>
<circle cx="229.92" cy="527.77" r="0.78" fill="#333"/>
<circle cx="236.60" cy="539.67" r="1.95" fill="#b8c8d4" fill-opacity="0.6" stroke="#151515" stroke-width="0.6"/>
<circle cx="238.10" cy="538.97" r="1.95" fill="#b8c8d4" fill-opacity="0.6" stroke="#151515" stroke-width="0.6"/>
<circle cx="237.30" cy="539.77" r="1.95" fill="#b8c8d4" fill-opacity="0.6" stroke="#151515" stroke-width="0.6"/>
<circle cx="237.30" cy="533.27" r="0.78" fill="#333"/>
<circle cx="237.30" cy="530.37" r="0.78" fill="#333"/>
<circle cx="237.30" cy="527.47" r="0.78" fill="#333"/>
<circle cx="237.30" cy="524.57" r="0.78" fill="#333"/>
<line x1="145.60" y1="509.70" x2="145.60" y2="578.30" stroke="#231f20" stroke-width="1.2"/>
<line x1="142.40" y1="577.70" x2="241.60" y2="577.70" stroke="#3a3a3a" stroke-width="1.6"/>
<line x1="142.60" y1="564.89" x2="145.60" y2="564.89" stroke="#231f20" stroke-width="0.9"/>
<line x1="142.60" y1="552.08" x2="145.60" y2="552.08" stroke="#231f20" stroke-width="0.9"/>
<line x1="142.60" y1="539.27" x2="145.60" y2="539.27" stroke="#231f20" stroke-width="0.9"/>
<line x1="142.60" y1="526.46" x2="145.60" y2="526.46" stroke="#231f20" stroke-width="0.9"/>
<line x1="142.60" y1="513.65" x2="145.60" y2="513.65" stroke="#231f20" stroke-width="0.9"/>
<line x1="150.90" y1="577.70" x2="150.90" y2="580.60" stroke="#231f20" stroke-width="0.9"/>
<text transform="translate(154.20,586.30) rotate(-45)" font-size="6.4" fill="#2b2b2b" text-anchor="end">0</text>
<line x1="158.20" y1="577.70" x2="158.20" y2="580.60" stroke="#231f20" stroke-width="0.9"/>
<text transform="translate(161.50,586.30) rotate(-45)" font-size="6.4" fill="#2b2b2b" text-anchor="end">4</text>
<line x1="165.50" y1="577.70" x2="165.50" y2="580.60" stroke="#231f20" stroke-width="0.9"/>
<text transform="translate(168.80,586.30) rotate(-45)" font-size="6.4" fill="#2b2b2b" text-anchor="end">8</text>
<line x1="172.80" y1="577.70" x2="172.80" y2="580.60" stroke="#231f20" stroke-width="0.9"/>
<text transform="translate(176.10,586.30) rotate(-45)" font-size="6.4" fill="#2b2b2b" text-anchor="end">12</text>
<line x1="180.10" y1="577.70" x2="180.10" y2="580.60" stroke="#231f20" stroke-width="0.9"/>
<text transform="translate(183.40,586.30) rotate(-45)" font-size="6.4" fill="#2b2b2b" text-anchor="end">16</text>
<line x1="187.40" y1="577.70" x2="187.40" y2="580.60" stroke="#231f20" stroke-width="0.9"/>
<text transform="translate(190.70,586.30) rotate(-45)" font-size="6.4" fill="#2b2b2b" text-anchor="end">20</text>
<line x1="200.40" y1="577.70" x2="200.40" y2="580.60" stroke="#231f20" stroke-width="0.9"/>
<text transform="translate(203.70,586.30) rotate(-45)" font-size="6.4" fill="#2b2b2b" text-anchor="end">0</text>
<line x1="207.78" y1="577.70" x2="207.78" y2="580.60" stroke="#231f20" stroke-width="0.9"/>
<text transform="translate(211.08,586.30) rotate(-45)" font-size="6.4" fill="#2b2b2b" text-anchor="end">4</text>
<line x1="215.16" y1="577.70" x2="215.16" y2="580.60" stroke="#231f20" stroke-width="0.9"/>
<text transform="translate(218.46,586.30) rotate(-45)" font-size="6.4" fill="#2b2b2b" text-anchor="end">8</text>
<line x1="222.54" y1="577.70" x2="222.54" y2="580.60" stroke="#231f20" stroke-width="0.9"/>
<text transform="translate(225.84,586.30) rotate(-45)" font-size="6.4" fill="#2b2b2b" text-anchor="end">12</text>
<line x1="229.92" y1="577.70" x2="229.92" y2="580.60" stroke="#231f20" stroke-width="0.9"/>
<text transform="translate(233.22,586.30) rotate(-45)" font-size="6.4" fill="#2b2b2b" text-anchor="end">16</text>
<line x1="237.30" y1="577.70" x2="237.30" y2="580.60" stroke="#231f20" stroke-width="0.9"/>
<text transform="translate(240.60,586.30) rotate(-45)" font-size="6.4" fill="#2b2b2b" text-anchor="end">20</text>
<rect x="257.25" y="571.49" width="5.30" height="6.21" fill="#3c4658"/>
<rect x="264.55" y="572.58" width="5.30" height="5.12" fill="#3c4658"/>
<rect x="271.85" y="572.58" width="5.30" height="5.12" fill="#3c4658"/>
<rect x="279.15" y="571.94" width="5.30" height="5.76" fill="#3c4658"/>
<rect x="286.45" y="573.22" width="5.30" height="4.48" fill="#3c4658"/>
<rect x="293.75" y="574.50" width="5.30" height="3.20" fill="#3c4658"/>
<rect x="306.75" y="571.94" width="5.30" height="5.76" fill="#29a3dc"/>
<rect x="314.13" y="573.22" width="5.30" height="4.48" fill="#29a3dc"/>
<rect x="321.51" y="569.37" width="5.30" height="8.33" fill="#29a3dc"/>
<rect x="328.89" y="563.61" width="5.30" height="14.09" fill="#29a3dc"/>
<rect x="336.27" y="553.36" width="5.30" height="24.34" fill="#29a3dc"/>
<rect x="343.65" y="545.03" width="5.30" height="32.67" fill="#29a3dc"/>
<circle cx="259.20" cy="571.89" r="1.95" fill="#59606c" fill-opacity="0.6" stroke="#151515" stroke-width="0.6"/>
<circle cx="260.70" cy="571.19" r="1.95" fill="#59606c" fill-opacity="0.6" stroke="#151515" stroke-width="0.6"/>
<circle cx="259.90" cy="571.99" r="1.95" fill="#59606c" fill-opacity="0.6" stroke="#151515" stroke-width="0.6"/>
<circle cx="266.50" cy="572.98" r="1.95" fill="#59606c" fill-opacity="0.6" stroke="#151515" stroke-width="0.6"/>
<circle cx="268.00" cy="572.28" r="1.95" fill="#59606c" fill-opacity="0.6" stroke="#151515" stroke-width="0.6"/>
<circle cx="267.20" cy="573.08" r="1.95" fill="#59606c" fill-opacity="0.6" stroke="#151515" stroke-width="0.6"/>
<circle cx="273.80" cy="572.98" r="1.95" fill="#59606c" fill-opacity="0.6" stroke="#151515" stroke-width="0.6"/>
<circle cx="275.30" cy="572.28" r="1.95" fill="#59606c" fill-opacity="0.6" stroke="#151515" stroke-width="0.6"/>
<circle cx="274.50" cy="573.08" r="1.95" fill="#59606c" fill-opacity="0.6" stroke="#151515" stroke-width="0.6"/>
<circle cx="281.10" cy="572.34" r="1.95" fill="#59606c" fill-opacity="0.6" stroke="#151515" stroke-width="0.6"/>
<circle cx="282.60" cy="571.64" r="1.95" fill="#59606c" fill-opacity="0.6" stroke="#151515" stroke-width="0.6"/>
<circle cx="281.80" cy="572.44" r="1.95" fill="#59606c" fill-opacity="0.6" stroke="#151515" stroke-width="0.6"/>
<circle cx="288.40" cy="573.62" r="1.95" fill="#59606c" fill-opacity="0.6" stroke="#151515" stroke-width="0.6"/>
<circle cx="289.90" cy="572.92" r="1.95" fill="#59606c" fill-opacity="0.6" stroke="#151515" stroke-width="0.6"/>
<circle cx="289.10" cy="573.72" r="1.95" fill="#59606c" fill-opacity="0.6" stroke="#151515" stroke-width="0.6"/>
<circle cx="295.70" cy="574.90" r="1.95" fill="#59606c" fill-opacity="0.6" stroke="#151515" stroke-width="0.6"/>
<circle cx="297.20" cy="574.20" r="1.95" fill="#59606c" fill-opacity="0.6" stroke="#151515" stroke-width="0.6"/>
<circle cx="296.40" cy="575.00" r="1.95" fill="#59606c" fill-opacity="0.6" stroke="#151515" stroke-width="0.6"/>
<circle cx="308.70" cy="572.34" r="1.95" fill="#b8c8d4" fill-opacity="0.6" stroke="#151515" stroke-width="0.6"/>
<circle cx="310.20" cy="571.64" r="1.95" fill="#b8c8d4" fill-opacity="0.6" stroke="#151515" stroke-width="0.6"/>
<circle cx="309.40" cy="572.44" r="1.95" fill="#b8c8d4" fill-opacity="0.6" stroke="#151515" stroke-width="0.6"/>
<circle cx="316.08" cy="573.62" r="1.95" fill="#b8c8d4" fill-opacity="0.6" stroke="#151515" stroke-width="0.6"/>
<circle cx="317.58" cy="572.92" r="1.95" fill="#b8c8d4" fill-opacity="0.6" stroke="#151515" stroke-width="0.6"/>
<circle cx="316.78" cy="573.72" r="1.95" fill="#b8c8d4" fill-opacity="0.6" stroke="#151515" stroke-width="0.6"/>
<circle cx="323.46" cy="569.77" r="1.95" fill="#b8c8d4" fill-opacity="0.6" stroke="#151515" stroke-width="0.6"/>
<circle cx="324.96" cy="569.07" r="1.95" fill="#b8c8d4" fill-opacity="0.6" stroke="#151515" stroke-width="0.6"/>
<circle cx="324.16" cy="569.87" r="1.95" fill="#b8c8d4" fill-opacity="0.6" stroke="#151515" stroke-width="0.6"/>
<circle cx="324.16" cy="563.37" r="0.78" fill="#333"/>
<circle cx="324.16" cy="560.47" r="0.78" fill="#333"/>
<circle cx="330.84" cy="564.01" r="1.95" fill="#b8c8d4" fill-opacity="0.6" stroke="#151515" stroke-width="0.6"/>
<circle cx="332.34" cy="563.31" r="1.95" fill="#b8c8d4" fill-opacity="0.6" stroke="#151515" stroke-width="0.6"/>
<circle cx="331.54" cy="564.11" r="1.95" fill="#b8c8d4" fill-opacity="0.6" stroke="#151515" stroke-width="0.6"/>
<circle cx="331.54" cy="557.61" r="0.78" fill="#333"/>
<circle cx="331.54" cy="554.71" r="0.78" fill="#333"/>
<circle cx="331.54" cy="551.81" r="0.78" fill="#333"/>
<circle cx="331.54" cy="548.91" r="0.78" fill="#333"/>
<circle cx="338.22" cy="553.76" r="1.95" fill="#b8c8d4" fill-opacity="0.6" stroke="#151515" stroke-width="0.6"/>
<circle cx="339.72" cy="553.06" r="1.95" fill="#b8c8d4" fill-opacity="0.6" stroke="#151515" stroke-width="0.6"/>
<circle cx="338.92" cy="553.86" r="1.95" fill="#b8c8d4" fill-opacity="0.6" stroke="#151515" stroke-width="0.6"/>
<circle cx="338.92" cy="547.36" r="0.78" fill="#333"/>
<circle cx="338.92" cy="544.46" r="0.78" fill="#333"/>
<circle cx="338.92" cy="541.56" r="0.78" fill="#333"/>
<circle cx="338.92" cy="538.66" r="0.78" fill="#333"/>
<circle cx="345.60" cy="545.43" r="1.95" fill="#b8c8d4" fill-opacity="0.6" stroke="#151515" stroke-width="0.6"/>
<circle cx="347.10" cy="544.73" r="1.95" fill="#b8c8d4" fill-opacity="0.6" stroke="#151515" stroke-width="0.6"/>
<circle cx="346.30" cy="545.53" r="1.95" fill="#b8c8d4" fill-opacity="0.6" stroke="#151515" stroke-width="0.6"/>
<circle cx="346.30" cy="539.03" r="0.78" fill="#333"/>
<circle cx="346.30" cy="536.13" r="0.78" fill="#333"/>
<circle cx="346.30" cy="533.23" r="0.78" fill="#333"/>
<circle cx="346.30" cy="530.33" r="0.78" fill="#333"/>
<line x1="254.60" y1="509.70" x2="254.60" y2="578.30" stroke="#231f20" stroke-width="1.2"/>
<line x1="251.40" y1="577.70" x2="350.60" y2="577.70" stroke="#3a3a3a" stroke-width="1.6"/>
<line x1="251.60" y1="564.89" x2="254.60" y2="564.89" stroke="#231f20" stroke-width="0.9"/>
<line x1="251.60" y1="552.08" x2="254.60" y2="552.08" stroke="#231f20" stroke-width="0.9"/>
<line x1="251.60" y1="539.27" x2="254.60" y2="539.27" stroke="#231f20" stroke-width="0.9"/>
<line x1="251.60" y1="526.46" x2="254.60" y2="526.46" stroke="#231f20" stroke-width="0.9"/>
<line x1="251.60" y1="513.65" x2="254.60" y2="513.65" stroke="#231f20" stroke-width="0.9"/>
<line x1="259.90" y1="577.70" x2="259.90" y2="580.60" stroke="#231f20" stroke-width="0.9"/>
<text transform="translate(263.20,586.30) rotate(-45)" font-size="6.4" fill="#2b2b2b" text-anchor="end">0</text>
<line x1="267.20" y1="577.70" x2="267.20" y2="580.60" stroke="#231f20" stroke-width="0.9"/>
<text transform="translate(270.50,586.30) rotate(-45)" font-size="6.4" fill="#2b2b2b" text-anchor="end">4</text>
<line x1="274.50" y1="577.70" x2="274.50" y2="580.60" stroke="#231f20" stroke-width="0.9"/>
<text transform="translate(277.80,586.30) rotate(-45)" font-size="6.4" fill="#2b2b2b" text-anchor="end">8</text>
<line x1="281.80" y1="577.70" x2="281.80" y2="580.60" stroke="#231f20" stroke-width="0.9"/>
<text transform="translate(285.10,586.30) rotate(-45)" font-size="6.4" fill="#2b2b2b" text-anchor="end">12</text>
<line x1="289.10" y1="577.70" x2="289.10" y2="580.60" stroke="#231f20" stroke-width="0.9"/>
<text transform="translate(292.40,586.30) rotate(-45)" font-size="6.4" fill="#2b2b2b" text-anchor="end">16</text>
<line x1="296.40" y1="577.70" x2="296.40" y2="580.60" stroke="#231f20" stroke-width="0.9"/>
<text transform="translate(299.70,586.30) rotate(-45)" font-size="6.4" fill="#2b2b2b" text-anchor="end">20</text>
<line x1="309.40" y1="577.70" x2="309.40" y2="580.60" stroke="#231f20" stroke-width="0.9"/>
<text transform="translate(312.70,586.30) rotate(-45)" font-size="6.4" fill="#2b2b2b" text-anchor="end">0</text>
<line x1="316.78" y1="577.70" x2="316.78" y2="580.60" stroke="#231f20" stroke-width="0.9"/>
<text transform="translate(320.08,586.30) rotate(-45)" font-size="6.4" fill="#2b2b2b" text-anchor="end">4</text>
<line x1="324.16" y1="577.70" x2="324.16" y2="580.60" stroke="#231f20" stroke-width="0.9"/>
<text transform="translate(327.46,586.30) rotate(-45)" font-size="6.4" fill="#2b2b2b" text-anchor="end">8</text>
<line x1="331.54" y1="577.70" x2="331.54" y2="580.60" stroke="#231f20" stroke-width="0.9"/>
<text transform="translate(334.84,586.30) rotate(-45)" font-size="6.4" fill="#2b2b2b" text-anchor="end">12</text>
<line x1="338.92" y1="577.70" x2="338.92" y2="580.60" stroke="#231f20" stroke-width="0.9"/>
<text transform="translate(342.22,586.30) rotate(-45)" font-size="6.4" fill="#2b2b2b" text-anchor="end">16</text>
<line x1="346.30" y1="577.70" x2="346.30" y2="580.60" stroke="#231f20" stroke-width="0.9"/>
<text transform="translate(349.60,586.30) rotate(-45)" font-size="6.4" fill="#2b2b2b" text-anchor="end">20</text>
<rect x="367.15" y="571.94" width="5.30" height="5.76" fill="#3c4658"/>
<rect x="374.45" y="572.58" width="5.30" height="5.12" fill="#3c4658"/>
<rect x="381.75" y="572.58" width="5.30" height="5.12" fill="#3c4658"/>
<rect x="389.05" y="570.27" width="5.30" height="7.43" fill="#3c4658"/>
<rect x="396.35" y="568.73" width="5.30" height="8.97" fill="#3c4658"/>
<rect x="403.65" y="567.45" width="5.30" height="10.25" fill="#3c4658"/>
<rect x="416.65" y="571.94" width="5.30" height="5.76" fill="#29a3dc"/>
<rect x="424.03" y="571.94" width="5.30" height="5.76" fill="#29a3dc"/>
<rect x="431.41" y="565.53" width="5.30" height="12.17" fill="#29a3dc"/>
<rect x="438.79" y="552.08" width="5.30" height="25.62" fill="#29a3dc"/>
<rect x="446.17" y="537.99" width="5.30" height="39.71" fill="#29a3dc"/>
<rect x="453.55" y="528.70" width="5.30" height="49.00" fill="#29a3dc"/>
<circle cx="369.10" cy="572.34" r="1.95" fill="#59606c" fill-opacity="0.6" stroke="#151515" stroke-width="0.6"/>
<circle cx="370.60" cy="571.64" r="1.95" fill="#59606c" fill-opacity="0.6" stroke="#151515" stroke-width="0.6"/>
<circle cx="369.80" cy="572.44" r="1.95" fill="#59606c" fill-opacity="0.6" stroke="#151515" stroke-width="0.6"/>
<circle cx="376.40" cy="572.98" r="1.95" fill="#59606c" fill-opacity="0.6" stroke="#151515" stroke-width="0.6"/>
<circle cx="377.90" cy="572.28" r="1.95" fill="#59606c" fill-opacity="0.6" stroke="#151515" stroke-width="0.6"/>
<circle cx="377.10" cy="573.08" r="1.95" fill="#59606c" fill-opacity="0.6" stroke="#151515" stroke-width="0.6"/>
<circle cx="383.70" cy="572.98" r="1.95" fill="#59606c" fill-opacity="0.6" stroke="#151515" stroke-width="0.6"/>
<circle cx="385.20" cy="572.28" r="1.95" fill="#59606c" fill-opacity="0.6" stroke="#151515" stroke-width="0.6"/>
<circle cx="384.40" cy="573.08" r="1.95" fill="#59606c" fill-opacity="0.6" stroke="#151515" stroke-width="0.6"/>
<circle cx="391.00" cy="570.67" r="1.95" fill="#59606c" fill-opacity="0.6" stroke="#151515" stroke-width="0.6"/>
<circle cx="392.50" cy="569.97" r="1.95" fill="#59606c" fill-opacity="0.6" stroke="#151515" stroke-width="0.6"/>
<circle cx="391.70" cy="570.77" r="1.95" fill="#59606c" fill-opacity="0.6" stroke="#151515" stroke-width="0.6"/>
<circle cx="398.30" cy="569.13" r="1.95" fill="#59606c" fill-opacity="0.6" stroke="#151515" stroke-width="0.6"/>
<circle cx="399.80" cy="568.43" r="1.95" fill="#59606c" fill-opacity="0.6" stroke="#151515" stroke-width="0.6"/>
<circle cx="399.00" cy="569.23" r="1.95" fill="#59606c" fill-opacity="0.6" stroke="#151515" stroke-width="0.6"/>
<circle cx="405.60" cy="567.85" r="1.95" fill="#59606c" fill-opacity="0.6" stroke="#151515" stroke-width="0.6"/>
<circle cx="407.10" cy="567.15" r="1.95" fill="#59606c" fill-opacity="0.6" stroke="#151515" stroke-width="0.6"/>
<circle cx="406.30" cy="567.95" r="1.95" fill="#59606c" fill-opacity="0.6" stroke="#151515" stroke-width="0.6"/>
<circle cx="418.60" cy="572.34" r="1.95" fill="#b8c8d4" fill-opacity="0.6" stroke="#151515" stroke-width="0.6"/>
<circle cx="420.10" cy="571.64" r="1.95" fill="#b8c8d4" fill-opacity="0.6" stroke="#151515" stroke-width="0.6"/>
<circle cx="419.30" cy="572.44" r="1.95" fill="#b8c8d4" fill-opacity="0.6" stroke="#151515" stroke-width="0.6"/>
<circle cx="425.98" cy="572.34" r="1.95" fill="#b8c8d4" fill-opacity="0.6" stroke="#151515" stroke-width="0.6"/>
<circle cx="427.48" cy="571.64" r="1.95" fill="#b8c8d4" fill-opacity="0.6" stroke="#151515" stroke-width="0.6"/>
<circle cx="426.68" cy="572.44" r="1.95" fill="#b8c8d4" fill-opacity="0.6" stroke="#151515" stroke-width="0.6"/>
<circle cx="433.36" cy="565.93" r="1.95" fill="#b8c8d4" fill-opacity="0.6" stroke="#151515" stroke-width="0.6"/>
<circle cx="434.86" cy="565.23" r="1.95" fill="#b8c8d4" fill-opacity="0.6" stroke="#151515" stroke-width="0.6"/>
<circle cx="434.06" cy="566.03" r="1.95" fill="#b8c8d4" fill-opacity="0.6" stroke="#151515" stroke-width="0.6"/>
<circle cx="434.06" cy="559.53" r="0.78" fill="#333"/>
<circle cx="434.06" cy="556.63" r="0.78" fill="#333"/>
<circle cx="434.06" cy="553.73" r="0.78" fill="#333"/>
<circle cx="434.06" cy="550.83" r="0.78" fill="#333"/>
<circle cx="440.74" cy="552.48" r="1.95" fill="#b8c8d4" fill-opacity="0.6" stroke="#151515" stroke-width="0.6"/>
<circle cx="442.24" cy="551.78" r="1.95" fill="#b8c8d4" fill-opacity="0.6" stroke="#151515" stroke-width="0.6"/>
<circle cx="441.44" cy="552.58" r="1.95" fill="#b8c8d4" fill-opacity="0.6" stroke="#151515" stroke-width="0.6"/>
<circle cx="441.44" cy="546.08" r="0.78" fill="#333"/>
<circle cx="441.44" cy="543.18" r="0.78" fill="#333"/>
<circle cx="441.44" cy="540.28" r="0.78" fill="#333"/>
<circle cx="441.44" cy="537.38" r="0.78" fill="#333"/>
<circle cx="448.12" cy="538.39" r="1.95" fill="#b8c8d4" fill-opacity="0.6" stroke="#151515" stroke-width="0.6"/>
<circle cx="449.62" cy="537.69" r="1.95" fill="#b8c8d4" fill-opacity="0.6" stroke="#151515" stroke-width="0.6"/>
<circle cx="448.82" cy="538.49" r="1.95" fill="#b8c8d4" fill-opacity="0.6" stroke="#151515" stroke-width="0.6"/>
<circle cx="448.82" cy="531.99" r="0.78" fill="#333"/>
<circle cx="448.82" cy="529.09" r="0.78" fill="#333"/>
<circle cx="448.82" cy="526.19" r="0.78" fill="#333"/>
<circle cx="448.82" cy="523.29" r="0.78" fill="#333"/>
<circle cx="455.50" cy="529.10" r="1.95" fill="#b8c8d4" fill-opacity="0.6" stroke="#151515" stroke-width="0.6"/>
<circle cx="457.00" cy="528.40" r="1.95" fill="#b8c8d4" fill-opacity="0.6" stroke="#151515" stroke-width="0.6"/>
<circle cx="456.20" cy="529.20" r="1.95" fill="#b8c8d4" fill-opacity="0.6" stroke="#151515" stroke-width="0.6"/>
<circle cx="456.20" cy="522.70" r="0.78" fill="#333"/>
<circle cx="456.20" cy="519.80" r="0.78" fill="#333"/>
<circle cx="456.20" cy="516.90" r="0.78" fill="#333"/>
<circle cx="456.20" cy="514.00" r="0.78" fill="#333"/>
<line x1="364.50" y1="509.70" x2="364.50" y2="578.30" stroke="#231f20" stroke-width="1.2"/>
<line x1="361.30" y1="577.70" x2="460.50" y2="577.70" stroke="#3a3a3a" stroke-width="1.6"/>
<line x1="361.50" y1="564.89" x2="364.50" y2="564.89" stroke="#231f20" stroke-width="0.9"/>
<line x1="361.50" y1="552.08" x2="364.50" y2="552.08" stroke="#231f20" stroke-width="0.9"/>
<line x1="361.50" y1="539.27" x2="364.50" y2="539.27" stroke="#231f20" stroke-width="0.9"/>
<line x1="361.50" y1="526.46" x2="364.50" y2="526.46" stroke="#231f20" stroke-width="0.9"/>
<line x1="361.50" y1="513.65" x2="364.50" y2="513.65" stroke="#231f20" stroke-width="0.9"/>
<line x1="369.80" y1="577.70" x2="369.80" y2="580.60" stroke="#231f20" stroke-width="0.9"/>
<text transform="translate(373.10,586.30) rotate(-45)" font-size="6.4" fill="#2b2b2b" text-anchor="end">0</text>
<line x1="377.10" y1="577.70" x2="377.10" y2="580.60" stroke="#231f20" stroke-width="0.9"/>
<text transform="translate(380.40,586.30) rotate(-45)" font-size="6.4" fill="#2b2b2b" text-anchor="end">4</text>
<line x1="384.40" y1="577.70" x2="384.40" y2="580.60" stroke="#231f20" stroke-width="0.9"/>
<text transform="translate(387.70,586.30) rotate(-45)" font-size="6.4" fill="#2b2b2b" text-anchor="end">8</text>
<line x1="391.70" y1="577.70" x2="391.70" y2="580.60" stroke="#231f20" stroke-width="0.9"/>
<text transform="translate(395.00,586.30) rotate(-45)" font-size="6.4" fill="#2b2b2b" text-anchor="end">12</text>
<line x1="399.00" y1="577.70" x2="399.00" y2="580.60" stroke="#231f20" stroke-width="0.9"/>
<text transform="translate(402.30,586.30) rotate(-45)" font-size="6.4" fill="#2b2b2b" text-anchor="end">16</text>
<line x1="406.30" y1="577.70" x2="406.30" y2="580.60" stroke="#231f20" stroke-width="0.9"/>
<text transform="translate(409.60,586.30) rotate(-45)" font-size="6.4" fill="#2b2b2b" text-anchor="end">20</text>
<line x1="419.30" y1="577.70" x2="419.30" y2="580.60" stroke="#231f20" stroke-width="0.9"/>
<text transform="translate(422.60,586.30) rotate(-45)" font-size="6.4" fill="#2b2b2b" text-anchor="end">0</text>
<line x1="426.68" y1="577.70" x2="426.68" y2="580.60" stroke="#231f20" stroke-width="0.9"/>
<text transform="translate(429.98,586.30) rotate(-45)" font-size="6.4" fill="#2b2b2b" text-anchor="end">4</text>
<line x1="434.06" y1="577.70" x2="434.06" y2="580.60" stroke="#231f20" stroke-width="0.9"/>
<text transform="translate(437.36,586.30) rotate(-45)" font-size="6.4" fill="#2b2b2b" text-anchor="end">8</text>
<line x1="441.44" y1="577.70" x2="441.44" y2="580.60" stroke="#231f20" stroke-width="0.9"/>
<text transform="translate(444.74,586.30) rotate(-45)" font-size="6.4" fill="#2b2b2b" text-anchor="end">12</text>
<line x1="448.82" y1="577.70" x2="448.82" y2="580.60" stroke="#231f20" stroke-width="0.9"/>
<text transform="translate(452.12,586.30) rotate(-45)" font-size="6.4" fill="#2b2b2b" text-anchor="end">16</text>
<line x1="456.20" y1="577.70" x2="456.20" y2="580.60" stroke="#231f20" stroke-width="0.9"/>
<text transform="translate(459.50,586.30) rotate(-45)" font-size="6.4" fill="#2b2b2b" text-anchor="end">20</text>
<path d="M466,507.10 H469.6 V587.30 H466" fill="none" stroke="#333" stroke-width="0.95"/>
<text x="472.7" y="545.90" font-size="6.8" fill="#2b2b2b" textLength="31.69999999999999" lengthAdjust="spacingAndGlyphs">MV4-11<tspan font-size="4.4" dy="-2.7">Cas9</tspan></text>
<text x="473.80" y="553.60" font-size="6.8" fill="#2b2b2b" textLength="29.80" lengthAdjust="spacingAndGlyphs">(MLL-AF4)</text>
<text x="6.90" y="608.20" font-size="11.8" fill="#000" font-weight="bold">I</text>
<text transform="translate(15.3,667.10) rotate(-90)" font-size="7.8" fill="#2b2b2b" textLength="44.4" lengthAdjust="spacingAndGlyphs">sgRNA-EGFP %</text>
<rect x="45.30" y="617.50" width="5.60" height="5.80" fill="#3c4658"/>
<text x="54.40" y="622.70" font-size="7.2" fill="#2b2b2b" textLength="19.60" lengthAdjust="spacingAndGlyphs">DMSO</text>
<rect x="45.30" y="627.50" width="5.60" height="5.80" fill="#29a3dc"/>
<text x="54.40" y="632.70" font-size="7.2" fill="#2b2b2b" textLength="29.60" lengthAdjust="spacingAndGlyphs">VTP50469</text>
<rect x="39.05" y="672.22" width="5.30" height="6.28" fill="#3c4658"/>
<rect x="46.35" y="673.18" width="5.30" height="5.32" fill="#3c4658"/>
<rect x="53.65" y="673.18" width="5.30" height="5.32" fill="#3c4658"/>
<rect x="60.95" y="672.74" width="5.30" height="5.76" fill="#3c4658"/>
<rect x="68.25" y="672.74" width="5.30" height="5.76" fill="#3c4658"/>
<rect x="75.55" y="672.22" width="5.30" height="6.28" fill="#3c4658"/>
<rect x="88.55" y="672.22" width="5.30" height="6.28" fill="#29a3dc"/>
<rect x="95.93" y="670.81" width="5.30" height="7.69" fill="#29a3dc"/>
<rect x="103.31" y="670.81" width="5.30" height="7.69" fill="#29a3dc"/>
<rect x="110.69" y="671.45" width="5.30" height="7.05" fill="#29a3dc"/>
<rect x="118.07" y="672.22" width="5.30" height="6.28" fill="#29a3dc"/>
<rect x="125.45" y="673.18" width="5.30" height="5.32" fill="#29a3dc"/>
<circle cx="41.00" cy="672.62" r="1.95" fill="#59606c" fill-opacity="0.6" stroke="#151515" stroke-width="0.6"/>
<circle cx="42.50" cy="671.92" r="1.95" fill="#59606c" fill-opacity="0.6" stroke="#151515" stroke-width="0.6"/>
<circle cx="41.70" cy="672.72" r="1.95" fill="#59606c" fill-opacity="0.6" stroke="#151515" stroke-width="0.6"/>
<circle cx="48.30" cy="673.58" r="1.95" fill="#59606c" fill-opacity="0.6" stroke="#151515" stroke-width="0.6"/>
<circle cx="49.80" cy="672.88" r="1.95" fill="#59606c" fill-opacity="0.6" stroke="#151515" stroke-width="0.6"/>
<circle cx="49.00" cy="673.68" r="1.95" fill="#59606c" fill-opacity="0.6" stroke="#151515" stroke-width="0.6"/>
<circle cx="55.60" cy="673.58" r="1.95" fill="#59606c" fill-opacity="0.6" stroke="#151515" stroke-width="0.6"/>
<circle cx="57.10" cy="672.88" r="1.95" fill="#59606c" fill-opacity="0.6" stroke="#151515" stroke-width="0.6"/>
<circle cx="56.30" cy="673.68" r="1.95" fill="#59606c" fill-opacity="0.6" stroke="#151515" stroke-width="0.6"/>
<circle cx="62.90" cy="673.14" r="1.95" fill="#59606c" fill-opacity="0.6" stroke="#151515" stroke-width="0.6"/>
<circle cx="64.40" cy="672.44" r="1.95" fill="#59606c" fill-opacity="0.6" stroke="#151515" stroke-width="0.6"/>
<circle cx="63.60" cy="673.24" r="1.95" fill="#59606c" fill-opacity="0.6" stroke="#151515" stroke-width="0.6"/>
<circle cx="70.20" cy="673.14" r="1.95" fill="#59606c" fill-opacity="0.6" stroke="#151515" stroke-width="0.6"/>
<circle cx="71.70" cy="672.44" r="1.95" fill="#59606c" fill-opacity="0.6" stroke="#151515" stroke-width="0.6"/>
<circle cx="70.90" cy="673.24" r="1.95" fill="#59606c" fill-opacity="0.6" stroke="#151515" stroke-width="0.6"/>
<circle cx="77.50" cy="672.62" r="1.95" fill="#59606c" fill-opacity="0.6" stroke="#151515" stroke-width="0.6"/>
<circle cx="79.00" cy="671.92" r="1.95" fill="#59606c" fill-opacity="0.6" stroke="#151515" stroke-width="0.6"/>
<circle cx="78.20" cy="672.72" r="1.95" fill="#59606c" fill-opacity="0.6" stroke="#151515" stroke-width="0.6"/>
<circle cx="90.50" cy="672.62" r="1.95" fill="#b8c8d4" fill-opacity="0.6" stroke="#151515" stroke-width="0.6"/>
<circle cx="92.00" cy="671.92" r="1.95" fill="#b8c8d4" fill-opacity="0.6" stroke="#151515" stroke-width="0.6"/>
<circle cx="91.20" cy="672.72" r="1.95" fill="#b8c8d4" fill-opacity="0.6" stroke="#151515" stroke-width="0.6"/>
<circle cx="97.88" cy="671.21" r="1.95" fill="#b8c8d4" fill-opacity="0.6" stroke="#151515" stroke-width="0.6"/>
<circle cx="99.38" cy="670.51" r="1.95" fill="#b8c8d4" fill-opacity="0.6" stroke="#151515" stroke-width="0.6"/>
<circle cx="98.58" cy="671.31" r="1.95" fill="#b8c8d4" fill-opacity="0.6" stroke="#151515" stroke-width="0.6"/>
<circle cx="105.26" cy="671.21" r="1.95" fill="#b8c8d4" fill-opacity="0.6" stroke="#151515" stroke-width="0.6"/>
<circle cx="106.76" cy="670.51" r="1.95" fill="#b8c8d4" fill-opacity="0.6" stroke="#151515" stroke-width="0.6"/>
<circle cx="105.96" cy="671.31" r="1.95" fill="#b8c8d4" fill-opacity="0.6" stroke="#151515" stroke-width="0.6"/>
<circle cx="112.64" cy="671.85" r="1.95" fill="#b8c8d4" fill-opacity="0.6" stroke="#151515" stroke-width="0.6"/>
<circle cx="114.14" cy="671.15" r="1.95" fill="#b8c8d4" fill-opacity="0.6" stroke="#151515" stroke-width="0.6"/>
<circle cx="113.34" cy="671.95" r="1.95" fill="#b8c8d4" fill-opacity="0.6" stroke="#151515" stroke-width="0.6"/>
<circle cx="120.02" cy="672.62" r="1.95" fill="#b8c8d4" fill-opacity="0.6" stroke="#151515" stroke-width="0.6"/>
<circle cx="121.52" cy="671.92" r="1.95" fill="#b8c8d4" fill-opacity="0.6" stroke="#151515" stroke-width="0.6"/>
<circle cx="120.72" cy="672.72" r="1.95" fill="#b8c8d4" fill-opacity="0.6" stroke="#151515" stroke-width="0.6"/>
<circle cx="127.40" cy="673.58" r="1.95" fill="#b8c8d4" fill-opacity="0.6" stroke="#151515" stroke-width="0.6"/>
<circle cx="128.90" cy="672.88" r="1.95" fill="#b8c8d4" fill-opacity="0.6" stroke="#151515" stroke-width="0.6"/>
<circle cx="128.10" cy="673.68" r="1.95" fill="#b8c8d4" fill-opacity="0.6" stroke="#151515" stroke-width="0.6"/>
<line x1="36.40" y1="610.50" x2="36.40" y2="679.10" stroke="#231f20" stroke-width="1.2"/>
<line x1="33.20" y1="678.50" x2="132.40" y2="678.50" stroke="#3a3a3a" stroke-width="1.6"/>
<line x1="33.40" y1="665.69" x2="36.40" y2="665.69" stroke="#231f20" stroke-width="0.9"/>
<line x1="33.40" y1="652.88" x2="36.40" y2="652.88" stroke="#231f20" stroke-width="0.9"/>
<line x1="33.40" y1="640.07" x2="36.40" y2="640.07" stroke="#231f20" stroke-width="0.9"/>
<line x1="33.40" y1="627.26" x2="36.40" y2="627.26" stroke="#231f20" stroke-width="0.9"/>
<line x1="33.40" y1="614.45" x2="36.40" y2="614.45" stroke="#231f20" stroke-width="0.9"/>
<text x="29.80" y="680.80" font-size="6.6" fill="#2b2b2b" text-anchor="end">0</text>
<text x="29.80" y="667.99" font-size="6.6" fill="#2b2b2b" text-anchor="end">20</text>
<text x="29.80" y="655.18" font-size="6.6" fill="#2b2b2b" text-anchor="end">40</text>
<text x="29.80" y="642.37" font-size="6.6" fill="#2b2b2b" text-anchor="end">60</text>
<text x="29.80" y="629.56" font-size="6.6" fill="#2b2b2b" text-anchor="end">80</text>
<text x="29.80" y="616.75" font-size="6.6" fill="#2b2b2b" text-anchor="end">100</text>
<line x1="41.70" y1="678.50" x2="41.70" y2="681.40" stroke="#231f20" stroke-width="0.9"/>
<text transform="translate(45.00,687.10) rotate(-45)" font-size="6.4" fill="#2b2b2b" text-anchor="end">0</text>
<line x1="49.00" y1="678.50" x2="49.00" y2="681.40" stroke="#231f20" stroke-width="0.9"/>
<text transform="translate(52.30,687.10) rotate(-45)" font-size="6.4" fill="#2b2b2b" text-anchor="end">4</text>
<line x1="56.30" y1="678.50" x2="56.30" y2="681.40" stroke="#231f20" stroke-width="0.9"/>
<text transform="translate(59.60,687.10) rotate(-45)" font-size="6.4" fill="#2b2b2b" text-anchor="end">8</text>
<line x1="63.60" y1="678.50" x2="63.60" y2="681.40" stroke="#231f20" stroke-width="0.9"/>
<text transform="translate(66.90,687.10) rotate(-45)" font-size="6.4" fill="#2b2b2b" text-anchor="end">12</text>
<line x1="70.90" y1="678.50" x2="70.90" y2="681.40" stroke="#231f20" stroke-width="0.9"/>
<text transform="translate(74.20,687.10) rotate(-45)" font-size="6.4" fill="#2b2b2b" text-anchor="end">16</text>
<line x1="78.20" y1="678.50" x2="78.20" y2="681.40" stroke="#231f20" stroke-width="0.9"/>
<text transform="translate(81.50,687.10) rotate(-45)" font-size="6.4" fill="#2b2b2b" text-anchor="end">20</text>
<line x1="91.20" y1="678.50" x2="91.20" y2="681.40" stroke="#231f20" stroke-width="0.9"/>
<text transform="translate(94.50,687.10) rotate(-45)" font-size="6.4" fill="#2b2b2b" text-anchor="end">0</text>
<line x1="98.58" y1="678.50" x2="98.58" y2="681.40" stroke="#231f20" stroke-width="0.9"/>
<text transform="translate(101.88,687.10) rotate(-45)" font-size="6.4" fill="#2b2b2b" text-anchor="end">4</text>
<line x1="105.96" y1="678.50" x2="105.96" y2="681.40" stroke="#231f20" stroke-width="0.9"/>
<text transform="translate(109.26,687.10) rotate(-45)" font-size="6.4" fill="#2b2b2b" text-anchor="end">8</text>
<line x1="113.34" y1="678.50" x2="113.34" y2="681.40" stroke="#231f20" stroke-width="0.9"/>
<text transform="translate(116.64,687.10) rotate(-45)" font-size="6.4" fill="#2b2b2b" text-anchor="end">12</text>
<line x1="120.72" y1="678.50" x2="120.72" y2="681.40" stroke="#231f20" stroke-width="0.9"/>
<text transform="translate(124.02,687.10) rotate(-45)" font-size="6.4" fill="#2b2b2b" text-anchor="end">16</text>
<line x1="128.10" y1="678.50" x2="128.10" y2="681.40" stroke="#231f20" stroke-width="0.9"/>
<text transform="translate(131.40,687.10) rotate(-45)" font-size="6.4" fill="#2b2b2b" text-anchor="end">20</text>
<rect x="148.25" y="672.10" width="5.30" height="6.40" fill="#3c4658"/>
<rect x="155.55" y="670.30" width="5.30" height="8.20" fill="#3c4658"/>
<rect x="162.85" y="669.21" width="5.30" height="9.29" fill="#3c4658"/>
<rect x="170.15" y="668.89" width="5.30" height="9.61" fill="#3c4658"/>
<rect x="177.45" y="669.21" width="5.30" height="9.29" fill="#3c4658"/>
<rect x="184.75" y="669.60" width="5.30" height="8.90" fill="#3c4658"/>
<rect x="197.75" y="672.10" width="5.30" height="6.40" fill="#29a3dc"/>
<rect x="205.13" y="671.01" width="5.30" height="7.49" fill="#29a3dc"/>
<rect x="212.51" y="668.89" width="5.30" height="9.61" fill="#29a3dc"/>
<rect x="219.89" y="666.97" width="5.30" height="11.53" fill="#29a3dc"/>
<rect x="227.27" y="663.45" width="5.30" height="15.05" fill="#29a3dc"/>
<rect x="234.65" y="657.62" width="5.30" height="20.88" fill="#29a3dc"/>
<circle cx="150.20" cy="672.50" r="1.95" fill="#59606c" fill-opacity="0.6" stroke="#151515" stroke-width="0.6"/>
<circle cx="151.70" cy="671.80" r="1.95" fill="#59606c" fill-opacity="0.6" stroke="#151515" stroke-width="0.6"/>
<circle cx="150.90" cy="672.60" r="1.95" fill="#59606c" fill-opacity="0.6" stroke="#151515" stroke-width="0.6"/>
<circle cx="157.50" cy="670.70" r="1.95" fill="#59606c" fill-opacity="0.6" stroke="#151515" stroke-width="0.6"/>
<circle cx="159.00" cy="670.00" r="1.95" fill="#59606c" fill-opacity="0.6" stroke="#151515" stroke-width="0.6"/>
<circle cx="158.20" cy="670.80" r="1.95" fill="#59606c" fill-opacity="0.6" stroke="#151515" stroke-width="0.6"/>
<circle cx="164.80" cy="669.61" r="1.95" fill="#59606c" fill-opacity="0.6" stroke="#151515" stroke-width="0.6"/>
<circle cx="166.30" cy="668.91" r="1.95" fill="#59606c" fill-opacity="0.6" stroke="#151515" stroke-width="0.6"/>
<circle cx="165.50" cy="669.71" r="1.95" fill="#59606c" fill-opacity="0.6" stroke="#151515" stroke-width="0.6"/>
<circle cx="172.10" cy="669.29" r="1.95" fill="#59606c" fill-opacity="0.6" stroke="#151515" stroke-width="0.6"/>
<circle cx="173.60" cy="668.59" r="1.95" fill="#59606c" fill-opacity="0.6" stroke="#151515" stroke-width="0.6"/>
<circle cx="172.80" cy="669.39" r="1.95" fill="#59606c" fill-opacity="0.6" stroke="#151515" stroke-width="0.6"/>
<circle cx="179.40" cy="669.61" r="1.95" fill="#59606c" fill-opacity="0.6" stroke="#151515" stroke-width="0.6"/>
<circle cx="180.90" cy="668.91" r="1.95" fill="#59606c" fill-opacity="0.6" stroke="#151515" stroke-width="0.6"/>
<circle cx="180.10" cy="669.71" r="1.95" fill="#59606c" fill-opacity="0.6" stroke="#151515" stroke-width="0.6"/>
<circle cx="186.70" cy="670.00" r="1.95" fill="#59606c" fill-opacity="0.6" stroke="#151515" stroke-width="0.6"/>
<circle cx="188.20" cy="669.30" r="1.95" fill="#59606c" fill-opacity="0.6" stroke="#151515" stroke-width="0.6"/>
<circle cx="187.40" cy="670.10" r="1.95" fill="#59606c" fill-opacity="0.6" stroke="#151515" stroke-width="0.6"/>
<circle cx="199.70" cy="672.50" r="1.95" fill="#b8c8d4" fill-opacity="0.6" stroke="#151515" stroke-width="0.6"/>
<circle cx="201.20" cy="671.80" r="1.95" fill="#b8c8d4" fill-opacity="0.6" stroke="#151515" stroke-width="0.6"/>
<circle cx="200.40" cy="672.60" r="1.95" fill="#b8c8d4" fill-opacity="0.6" stroke="#151515" stroke-width="0.6"/>
<circle cx="207.08" cy="671.41" r="1.95" fill="#b8c8d4" fill-opacity="0.6" stroke="#151515" stroke-width="0.6"/>
<circle cx="208.58" cy="670.71" r="1.95" fill="#b8c8d4" fill-opacity="0.6" stroke="#151515" stroke-width="0.6"/>
<circle cx="207.78" cy="671.51" r="1.95" fill="#b8c8d4" fill-opacity="0.6" stroke="#151515" stroke-width="0.6"/>
<circle cx="214.46" cy="669.29" r="1.95" fill="#b8c8d4" fill-opacity="0.6" stroke="#151515" stroke-width="0.6"/>
<circle cx="215.96" cy="668.59" r="1.95" fill="#b8c8d4" fill-opacity="0.6" stroke="#151515" stroke-width="0.6"/>
<circle cx="215.16" cy="669.39" r="1.95" fill="#b8c8d4" fill-opacity="0.6" stroke="#151515" stroke-width="0.6"/>
<circle cx="221.84" cy="667.37" r="1.95" fill="#b8c8d4" fill-opacity="0.6" stroke="#151515" stroke-width="0.6"/>
<circle cx="223.34" cy="666.67" r="1.95" fill="#b8c8d4" fill-opacity="0.6" stroke="#151515" stroke-width="0.6"/>
<circle cx="222.54" cy="667.47" r="1.95" fill="#b8c8d4" fill-opacity="0.6" stroke="#151515" stroke-width="0.6"/>
<circle cx="222.54" cy="660.97" r="0.78" fill="#333"/>
<circle cx="229.22" cy="663.85" r="1.95" fill="#b8c8d4" fill-opacity="0.6" stroke="#151515" stroke-width="0.6"/>
<circle cx="230.72" cy="663.15" r="1.95" fill="#b8c8d4" fill-opacity="0.6" stroke="#151515" stroke-width="0.6"/>
<circle cx="229.92" cy="663.95" r="1.95" fill="#b8c8d4" fill-opacity="0.6" stroke="#151515" stroke-width="0.6"/>
<circle cx="229.92" cy="657.45" r="0.78" fill="#333"/>
<circle cx="229.92" cy="654.55" r="0.78" fill="#333"/>
<circle cx="236.60" cy="658.02" r="1.95" fill="#b8c8d4" fill-opacity="0.6" stroke="#151515" stroke-width="0.6"/>
<circle cx="238.10" cy="657.32" r="1.95" fill="#b8c8d4" fill-opacity="0.6" stroke="#151515" stroke-width="0.6"/>
<circle cx="237.30" cy="658.12" r="1.95" fill="#b8c8d4" fill-opacity="0.6" stroke="#151515" stroke-width="0.6"/>
<circle cx="237.30" cy="651.62" r="0.78" fill="#333"/>
<circle cx="237.30" cy="648.72" r="0.78" fill="#333"/>
<circle cx="237.30" cy="645.82" r="0.78" fill="#333"/>
<line x1="145.60" y1="610.50" x2="145.60" y2="679.10" stroke="#231f20" stroke-width="1.2"/>
<line x1="142.40" y1="678.50" x2="241.60" y2="678.50" stroke="#3a3a3a" stroke-width="1.6"/>
<line x1="142.60" y1="665.69" x2="145.60" y2="665.69" stroke="#231f20" stroke-width="0.9"/>
<line x1="142.60" y1="652.88" x2="145.60" y2="652.88" stroke="#231f20" stroke-width="0.9"/>
<line x1="142.60" y1="640.07" x2="145.60" y2="640.07" stroke="#231f20" stroke-width="0.9"/>
<line x1="142.60" y1="627.26" x2="145.60" y2="627.26" stroke="#231f20" stroke-width="0.9"/>
<line x1="142.60" y1="614.45" x2="145.60" y2="614.45" stroke="#231f20" stroke-width="0.9"/>
<line x1="150.90" y1="678.50" x2="150.90" y2="681.40" stroke="#231f20" stroke-width="0.9"/>
<text transform="translate(154.20,687.10) rotate(-45)" font-size="6.4" fill="#2b2b2b" text-anchor="end">0</text>
<line x1="158.20" y1="678.50" x2="158.20" y2="681.40" stroke="#231f20" stroke-width="0.9"/>
<text transform="translate(161.50,687.10) rotate(-45)" font-size="6.4" fill="#2b2b2b" text-anchor="end">4</text>
<line x1="165.50" y1="678.50" x2="165.50" y2="681.40" stroke="#231f20" stroke-width="0.9"/>
<text transform="translate(168.80,687.10) rotate(-45)" font-size="6.4" fill="#2b2b2b" text-anchor="end">8</text>
<line x1="172.80" y1="678.50" x2="172.80" y2="681.40" stroke="#231f20" stroke-width="0.9"/>
<text transform="translate(176.10,687.10) rotate(-45)" font-size="6.4" fill="#2b2b2b" text-anchor="end">12</text>
<line x1="180.10" y1="678.50" x2="180.10" y2="681.40" stroke="#231f20" stroke-width="0.9"/>
<text transform="translate(183.40,687.10) rotate(-45)" font-size="6.4" fill="#2b2b2b" text-anchor="end">16</text>
<line x1="187.40" y1="678.50" x2="187.40" y2="681.40" stroke="#231f20" stroke-width="0.9"/>
<text transform="translate(190.70,687.10) rotate(-45)" font-size="6.4" fill="#2b2b2b" text-anchor="end">20</text>
<line x1="200.40" y1="678.50" x2="200.40" y2="681.40" stroke="#231f20" stroke-width="0.9"/>
<text transform="translate(203.70,687.10) rotate(-45)" font-size="6.4" fill="#2b2b2b" text-anchor="end">0</text>
<line x1="207.78" y1="678.50" x2="207.78" y2="681.40" stroke="#231f20" stroke-width="0.9"/>
<text transform="translate(211.08,687.10) rotate(-45)" font-size="6.4" fill="#2b2b2b" text-anchor="end">4</text>
<line x1="215.16" y1="678.50" x2="215.16" y2="681.40" stroke="#231f20" stroke-width="0.9"/>
<text transform="translate(218.46,687.10) rotate(-45)" font-size="6.4" fill="#2b2b2b" text-anchor="end">8</text>
<line x1="222.54" y1="678.50" x2="222.54" y2="681.40" stroke="#231f20" stroke-width="0.9"/>
<text transform="translate(225.84,687.10) rotate(-45)" font-size="6.4" fill="#2b2b2b" text-anchor="end">12</text>
<line x1="229.92" y1="678.50" x2="229.92" y2="681.40" stroke="#231f20" stroke-width="0.9"/>
<text transform="translate(233.22,687.10) rotate(-45)" font-size="6.4" fill="#2b2b2b" text-anchor="end">16</text>
<line x1="237.30" y1="678.50" x2="237.30" y2="681.40" stroke="#231f20" stroke-width="0.9"/>
<text transform="translate(240.60,687.10) rotate(-45)" font-size="6.4" fill="#2b2b2b" text-anchor="end">20</text>
<rect x="257.25" y="672.61" width="5.30" height="5.89" fill="#3c4658"/>
<rect x="264.55" y="672.61" width="5.30" height="5.89" fill="#3c4658"/>
<rect x="271.85" y="671.45" width="5.30" height="7.05" fill="#3c4658"/>
<rect x="279.15" y="672.61" width="5.30" height="5.89" fill="#3c4658"/>
<rect x="286.45" y="672.61" width="5.30" height="5.89" fill="#3c4658"/>
<rect x="293.75" y="673.76" width="5.30" height="4.74" fill="#3c4658"/>
<rect x="306.75" y="672.61" width="5.30" height="5.89" fill="#29a3dc"/>
<rect x="314.13" y="670.30" width="5.30" height="8.20" fill="#29a3dc"/>
<rect x="321.51" y="668.70" width="5.30" height="9.80" fill="#29a3dc"/>
<rect x="328.89" y="665.69" width="5.30" height="12.81" fill="#29a3dc"/>
<rect x="336.27" y="662.49" width="5.30" height="16.01" fill="#29a3dc"/>
<rect x="343.65" y="655.44" width="5.30" height="23.06" fill="#29a3dc"/>
<circle cx="259.20" cy="673.01" r="1.95" fill="#59606c" fill-opacity="0.6" stroke="#151515" stroke-width="0.6"/>
<circle cx="260.70" cy="672.31" r="1.95" fill="#59606c" fill-opacity="0.6" stroke="#151515" stroke-width="0.6"/>
<circle cx="259.90" cy="673.11" r="1.95" fill="#59606c" fill-opacity="0.6" stroke="#151515" stroke-width="0.6"/>
<circle cx="266.50" cy="673.01" r="1.95" fill="#59606c" fill-opacity="0.6" stroke="#151515" stroke-width="0.6"/>
<circle cx="268.00" cy="672.31" r="1.95" fill="#59606c" fill-opacity="0.6" stroke="#151515" stroke-width="0.6"/>
<circle cx="267.20" cy="673.11" r="1.95" fill="#59606c" fill-opacity="0.6" stroke="#151515" stroke-width="0.6"/>
<circle cx="273.80" cy="671.85" r="1.95" fill="#59606c" fill-opacity="0.6" stroke="#151515" stroke-width="0.6"/>
<circle cx="275.30" cy="671.15" r="1.95" fill="#59606c" fill-opacity="0.6" stroke="#151515" stroke-width="0.6"/>
<circle cx="274.50" cy="671.95" r="1.95" fill="#59606c" fill-opacity="0.6" stroke="#151515" stroke-width="0.6"/>
<circle cx="281.10" cy="673.01" r="1.95" fill="#59606c" fill-opacity="0.6" stroke="#151515" stroke-width="0.6"/>
<circle cx="282.60" cy="672.31" r="1.95" fill="#59606c" fill-opacity="0.6" stroke="#151515" stroke-width="0.6"/>
<circle cx="281.80" cy="673.11" r="1.95" fill="#59606c" fill-opacity="0.6" stroke="#151515" stroke-width="0.6"/>
<circle cx="288.40" cy="673.01" r="1.95" fill="#59606c" fill-opacity="0.6" stroke="#151515" stroke-width="0.6"/>
<circle cx="289.90" cy="672.31" r="1.95" fill="#59606c" fill-opacity="0.6" stroke="#151515" stroke-width="0.6"/>
<circle cx="289.10" cy="673.11" r="1.95" fill="#59606c" fill-opacity="0.6" stroke="#151515" stroke-width="0.6"/>
<circle cx="295.70" cy="674.16" r="1.95" fill="#59606c" fill-opacity="0.6" stroke="#151515" stroke-width="0.6"/>
<circle cx="297.20" cy="673.46" r="1.95" fill="#59606c" fill-opacity="0.6" stroke="#151515" stroke-width="0.6"/>
<circle cx="296.40" cy="674.26" r="1.95" fill="#59606c" fill-opacity="0.6" stroke="#151515" stroke-width="0.6"/>
<circle cx="308.70" cy="673.01" r="1.95" fill="#b8c8d4" fill-opacity="0.6" stroke="#151515" stroke-width="0.6"/>
<circle cx="310.20" cy="672.31" r="1.95" fill="#b8c8d4" fill-opacity="0.6" stroke="#151515" stroke-width="0.6"/>
<circle cx="309.40" cy="673.11" r="1.95" fill="#b8c8d4" fill-opacity="0.6" stroke="#151515" stroke-width="0.6"/>
<circle cx="316.08" cy="670.70" r="1.95" fill="#b8c8d4" fill-opacity="0.6" stroke="#151515" stroke-width="0.6"/>
<circle cx="317.58" cy="670.00" r="1.95" fill="#b8c8d4" fill-opacity="0.6" stroke="#151515" stroke-width="0.6"/>
<circle cx="316.78" cy="670.80" r="1.95" fill="#b8c8d4" fill-opacity="0.6" stroke="#151515" stroke-width="0.6"/>
<circle cx="323.46" cy="669.10" r="1.95" fill="#b8c8d4" fill-opacity="0.6" stroke="#151515" stroke-width="0.6"/>
<circle cx="324.96" cy="668.40" r="1.95" fill="#b8c8d4" fill-opacity="0.6" stroke="#151515" stroke-width="0.6"/>
<circle cx="324.16" cy="669.20" r="1.95" fill="#b8c8d4" fill-opacity="0.6" stroke="#151515" stroke-width="0.6"/>
<circle cx="324.16" cy="662.70" r="0.78" fill="#333"/>
<circle cx="330.84" cy="666.09" r="1.95" fill="#b8c8d4" fill-opacity="0.6" stroke="#151515" stroke-width="0.6"/>
<circle cx="332.34" cy="665.39" r="1.95" fill="#b8c8d4" fill-opacity="0.6" stroke="#151515" stroke-width="0.6"/>
<circle cx="331.54" cy="666.19" r="1.95" fill="#b8c8d4" fill-opacity="0.6" stroke="#151515" stroke-width="0.6"/>
<circle cx="331.54" cy="659.69" r="0.78" fill="#333"/>
<circle cx="331.54" cy="656.79" r="0.78" fill="#333"/>
<circle cx="338.22" cy="662.89" r="1.95" fill="#b8c8d4" fill-opacity="0.6" stroke="#151515" stroke-width="0.6"/>
<circle cx="339.72" cy="662.19" r="1.95" fill="#b8c8d4" fill-opacity="0.6" stroke="#151515" stroke-width="0.6"/>
<circle cx="338.92" cy="662.99" r="1.95" fill="#b8c8d4" fill-opacity="0.6" stroke="#151515" stroke-width="0.6"/>
<circle cx="338.92" cy="656.49" r="0.78" fill="#333"/>
<circle cx="338.92" cy="653.59" r="0.78" fill="#333"/>
<circle cx="338.92" cy="650.69" r="0.78" fill="#333"/>
<circle cx="345.60" cy="655.84" r="1.95" fill="#b8c8d4" fill-opacity="0.6" stroke="#151515" stroke-width="0.6"/>
<circle cx="347.10" cy="655.14" r="1.95" fill="#b8c8d4" fill-opacity="0.6" stroke="#151515" stroke-width="0.6"/>
<circle cx="346.30" cy="655.94" r="1.95" fill="#b8c8d4" fill-opacity="0.6" stroke="#151515" stroke-width="0.6"/>
<circle cx="346.30" cy="649.44" r="0.78" fill="#333"/>
<circle cx="346.30" cy="646.54" r="0.78" fill="#333"/>
<circle cx="346.30" cy="643.64" r="0.78" fill="#333"/>
<circle cx="346.30" cy="640.74" r="0.78" fill="#333"/>
<line x1="254.60" y1="610.50" x2="254.60" y2="679.10" stroke="#231f20" stroke-width="1.2"/>
<line x1="251.40" y1="678.50" x2="350.60" y2="678.50" stroke="#3a3a3a" stroke-width="1.6"/>
<line x1="251.60" y1="665.69" x2="254.60" y2="665.69" stroke="#231f20" stroke-width="0.9"/>
<line x1="251.60" y1="652.88" x2="254.60" y2="652.88" stroke="#231f20" stroke-width="0.9"/>
<line x1="251.60" y1="640.07" x2="254.60" y2="640.07" stroke="#231f20" stroke-width="0.9"/>
<line x1="251.60" y1="627.26" x2="254.60" y2="627.26" stroke="#231f20" stroke-width="0.9"/>
<line x1="251.60" y1="614.45" x2="254.60" y2="614.45" stroke="#231f20" stroke-width="0.9"/>
<line x1="259.90" y1="678.50" x2="259.90" y2="681.40" stroke="#231f20" stroke-width="0.9"/>
<text transform="translate(263.20,687.10) rotate(-45)" font-size="6.4" fill="#2b2b2b" text-anchor="end">0</text>
<line x1="267.20" y1="678.50" x2="267.20" y2="681.40" stroke="#231f20" stroke-width="0.9"/>
<text transform="translate(270.50,687.10) rotate(-45)" font-size="6.4" fill="#2b2b2b" text-anchor="end">4</text>
<line x1="274.50" y1="678.50" x2="274.50" y2="681.40" stroke="#231f20" stroke-width="0.9"/>
<text transform="translate(277.80,687.10) rotate(-45)" font-size="6.4" fill="#2b2b2b" text-anchor="end">8</text>
<line x1="281.80" y1="678.50" x2="281.80" y2="681.40" stroke="#231f20" stroke-width="0.9"/>
<text transform="translate(285.10,687.10) rotate(-45)" font-size="6.4" fill="#2b2b2b" text-anchor="end">12</text>
<line x1="289.10" y1="678.50" x2="289.10" y2="681.40" stroke="#231f20" stroke-width="0.9"/>
<text transform="translate(292.40,687.10) rotate(-45)" font-size="6.4" fill="#2b2b2b" text-anchor="end">16</text>
<line x1="296.40" y1="678.50" x2="296.40" y2="681.40" stroke="#231f20" stroke-width="0.9"/>
<text transform="translate(299.70,687.10) rotate(-45)" font-size="6.4" fill="#2b2b2b" text-anchor="end">20</text>
<line x1="309.40" y1="678.50" x2="309.40" y2="681.40" stroke="#231f20" stroke-width="0.9"/>
<text transform="translate(312.70,687.10) rotate(-45)" font-size="6.4" fill="#2b2b2b" text-anchor="end">0</text>
<line x1="316.78" y1="678.50" x2="316.78" y2="681.40" stroke="#231f20" stroke-width="0.9"/>
<text transform="translate(320.08,687.10) rotate(-45)" font-size="6.4" fill="#2b2b2b" text-anchor="end">4</text>
<line x1="324.16" y1="678.50" x2="324.16" y2="681.40" stroke="#231f20" stroke-width="0.9"/>
<text transform="translate(327.46,687.10) rotate(-45)" font-size="6.4" fill="#2b2b2b" text-anchor="end">8</text>
<line x1="331.54" y1="678.50" x2="331.54" y2="681.40" stroke="#231f20" stroke-width="0.9"/>
<text transform="translate(334.84,687.10) rotate(-45)" font-size="6.4" fill="#2b2b2b" text-anchor="end">12</text>
<line x1="338.92" y1="678.50" x2="338.92" y2="681.40" stroke="#231f20" stroke-width="0.9"/>
<text transform="translate(342.22,687.10) rotate(-45)" font-size="6.4" fill="#2b2b2b" text-anchor="end">16</text>
<line x1="346.30" y1="678.50" x2="346.30" y2="681.40" stroke="#231f20" stroke-width="0.9"/>
<text transform="translate(349.60,687.10) rotate(-45)" font-size="6.4" fill="#2b2b2b" text-anchor="end">20</text>
<rect x="367.15" y="672.61" width="5.30" height="5.89" fill="#3c4658"/>
<rect x="374.45" y="672.61" width="5.30" height="5.89" fill="#3c4658"/>
<rect x="381.75" y="672.61" width="5.30" height="5.89" fill="#3c4658"/>
<rect x="389.05" y="671.01" width="5.30" height="7.49" fill="#3c4658"/>
<rect x="396.35" y="671.01" width="5.30" height="7.49" fill="#3c4658"/>
<rect x="403.65" y="668.00" width="5.30" height="10.50" fill="#3c4658"/>
<rect x="416.65" y="672.61" width="5.30" height="5.89" fill="#29a3dc"/>
<rect x="424.03" y="672.10" width="5.30" height="6.40" fill="#29a3dc"/>
<rect x="431.41" y="671.45" width="5.30" height="7.05" fill="#29a3dc"/>
<rect x="438.79" y="670.30" width="5.30" height="8.20" fill="#29a3dc"/>
<rect x="446.17" y="666.97" width="5.30" height="11.53" fill="#29a3dc"/>
<rect x="453.55" y="662.74" width="5.30" height="15.76" fill="#29a3dc"/>
<circle cx="369.10" cy="673.01" r="1.95" fill="#59606c" fill-opacity="0.6" stroke="#151515" stroke-width="0.6"/>
<circle cx="370.60" cy="672.31" r="1.95" fill="#59606c" fill-opacity="0.6" stroke="#151515" stroke-width="0.6"/>
<circle cx="369.80" cy="673.11" r="1.95" fill="#59606c" fill-opacity="0.6" stroke="#151515" stroke-width="0.6"/>
<circle cx="376.40" cy="673.01" r="1.95" fill="#59606c" fill-opacity="0.6" stroke="#151515" stroke-width="0.6"/>
<circle cx="377.90" cy="672.31" r="1.95" fill="#59606c" fill-opacity="0.6" stroke="#151515" stroke-width="0.6"/>
<circle cx="377.10" cy="673.11" r="1.95" fill="#59606c" fill-opacity="0.6" stroke="#151515" stroke-width="0.6"/>
<circle cx="383.70" cy="673.01" r="1.95" fill="#59606c" fill-opacity="0.6" stroke="#151515" stroke-width="0.6"/>
<circle cx="385.20" cy="672.31" r="1.95" fill="#59606c" fill-opacity="0.6" stroke="#151515" stroke-width="0.6"/>
<circle cx="384.40" cy="673.11" r="1.95" fill="#59606c" fill-opacity="0.6" stroke="#151515" stroke-width="0.6"/>
<circle cx="391.00" cy="671.41" r="1.95" fill="#59606c" fill-opacity="0.6" stroke="#151515" stroke-width="0.6"/>
<circle cx="392.50" cy="670.71" r="1.95" fill="#59606c" fill-opacity="0.6" stroke="#151515" stroke-width="0.6"/>
<circle cx="391.70" cy="671.51" r="1.95" fill="#59606c" fill-opacity="0.6" stroke="#151515" stroke-width="0.6"/>
<circle cx="398.30" cy="671.41" r="1.95" fill="#59606c" fill-opacity="0.6" stroke="#151515" stroke-width="0.6"/>
<circle cx="399.80" cy="670.71" r="1.95" fill="#59606c" fill-opacity="0.6" stroke="#151515" stroke-width="0.6"/>
<circle cx="399.00" cy="671.51" r="1.95" fill="#59606c" fill-opacity="0.6" stroke="#151515" stroke-width="0.6"/>
<circle cx="405.60" cy="668.40" r="1.95" fill="#59606c" fill-opacity="0.6" stroke="#151515" stroke-width="0.6"/>
<circle cx="407.10" cy="667.70" r="1.95" fill="#59606c" fill-opacity="0.6" stroke="#151515" stroke-width="0.6"/>
<circle cx="406.30" cy="668.50" r="1.95" fill="#59606c" fill-opacity="0.6" stroke="#151515" stroke-width="0.6"/>
<circle cx="418.60" cy="673.01" r="1.95" fill="#b8c8d4" fill-opacity="0.6" stroke="#151515" stroke-width="0.6"/>
<circle cx="420.10" cy="672.31" r="1.95" fill="#b8c8d4" fill-opacity="0.6" stroke="#151515" stroke-width="0.6"/>
<circle cx="419.30" cy="673.11" r="1.95" fill="#b8c8d4" fill-opacity="0.6" stroke="#151515" stroke-width="0.6"/>
<circle cx="425.98" cy="672.50" r="1.95" fill="#b8c8d4" fill-opacity="0.6" stroke="#151515" stroke-width="0.6"/>
<circle cx="427.48" cy="671.80" r="1.95" fill="#b8c8d4" fill-opacity="0.6" stroke="#151515" stroke-width="0.6"/>
<circle cx="426.68" cy="672.60" r="1.95" fill="#b8c8d4" fill-opacity="0.6" stroke="#151515" stroke-width="0.6"/>
<circle cx="433.36" cy="671.85" r="1.95" fill="#b8c8d4" fill-opacity="0.6" stroke="#151515" stroke-width="0.6"/>
<circle cx="434.86" cy="671.15" r="1.95" fill="#b8c8d4" fill-opacity="0.6" stroke="#151515" stroke-width="0.6"/>
<circle cx="434.06" cy="671.95" r="1.95" fill="#b8c8d4" fill-opacity="0.6" stroke="#151515" stroke-width="0.6"/>
<circle cx="440.74" cy="670.70" r="1.95" fill="#b8c8d4" fill-opacity="0.6" stroke="#151515" stroke-width="0.6"/>
<circle cx="442.24" cy="670.00" r="1.95" fill="#b8c8d4" fill-opacity="0.6" stroke="#151515" stroke-width="0.6"/>
<circle cx="441.44" cy="670.80" r="1.95" fill="#b8c8d4" fill-opacity="0.6" stroke="#151515" stroke-width="0.6"/>
<circle cx="448.12" cy="667.37" r="1.95" fill="#b8c8d4" fill-opacity="0.6" stroke="#151515" stroke-width="0.6"/>
<circle cx="449.62" cy="666.67" r="1.95" fill="#b8c8d4" fill-opacity="0.6" stroke="#151515" stroke-width="0.6"/>
<circle cx="448.82" cy="667.47" r="1.95" fill="#b8c8d4" fill-opacity="0.6" stroke="#151515" stroke-width="0.6"/>
<circle cx="448.82" cy="660.97" r="0.78" fill="#333"/>
<circle cx="455.50" cy="663.14" r="1.95" fill="#b8c8d4" fill-opacity="0.6" stroke="#151515" stroke-width="0.6"/>
<circle cx="457.00" cy="662.44" r="1.95" fill="#b8c8d4" fill-opacity="0.6" stroke="#151515" stroke-width="0.6"/>
<circle cx="456.20" cy="663.24" r="1.95" fill="#b8c8d4" fill-opacity="0.6" stroke="#151515" stroke-width="0.6"/>
<circle cx="456.20" cy="656.74" r="0.78" fill="#333"/>
<circle cx="456.20" cy="653.84" r="0.78" fill="#333"/>
<line x1="364.50" y1="610.50" x2="364.50" y2="679.10" stroke="#231f20" stroke-width="1.2"/>
<line x1="361.30" y1="678.50" x2="460.50" y2="678.50" stroke="#3a3a3a" stroke-width="1.6"/>
<line x1="361.50" y1="665.69" x2="364.50" y2="665.69" stroke="#231f20" stroke-width="0.9"/>
<line x1="361.50" y1="652.88" x2="364.50" y2="652.88" stroke="#231f20" stroke-width="0.9"/>
<line x1="361.50" y1="640.07" x2="364.50" y2="640.07" stroke="#231f20" stroke-width="0.9"/>
<line x1="361.50" y1="627.26" x2="364.50" y2="627.26" stroke="#231f20" stroke-width="0.9"/>
<line x1="361.50" y1="614.45" x2="364.50" y2="614.45" stroke="#231f20" stroke-width="0.9"/>
<line x1="369.80" y1="678.50" x2="369.80" y2="681.40" stroke="#231f20" stroke-width="0.9"/>
<text transform="translate(373.10,687.10) rotate(-45)" font-size="6.4" fill="#2b2b2b" text-anchor="end">0</text>
<line x1="377.10" y1="678.50" x2="377.10" y2="681.40" stroke="#231f20" stroke-width="0.9"/>
<text transform="translate(380.40,687.10) rotate(-45)" font-size="6.4" fill="#2b2b2b" text-anchor="end">4</text>
<line x1="384.40" y1="678.50" x2="384.40" y2="681.40" stroke="#231f20" stroke-width="0.9"/>
<text transform="translate(387.70,687.10) rotate(-45)" font-size="6.4" fill="#2b2b2b" text-anchor="end">8</text>
<line x1="391.70" y1="678.50" x2="391.70" y2="681.40" stroke="#231f20" stroke-width="0.9"/>
<text transform="translate(395.00,687.10) rotate(-45)" font-size="6.4" fill="#2b2b2b" text-anchor="end">12</text>
<line x1="399.00" y1="678.50" x2="399.00" y2="681.40" stroke="#231f20" stroke-width="0.9"/>
<text transform="translate(402.30,687.10) rotate(-45)" font-size="6.4" fill="#2b2b2b" text-anchor="end">16</text>
<line x1="406.30" y1="678.50" x2="406.30" y2="681.40" stroke="#231f20" stroke-width="0.9"/>
<text transform="translate(409.60,687.10) rotate(-45)" font-size="6.4" fill="#2b2b2b" text-anchor="end">20</text>
<line x1="419.30" y1="678.50" x2="419.30" y2="681.40" stroke="#231f20" stroke-width="0.9"/>
<text transform="translate(422.60,687.10) rotate(-45)" font-size="6.4" fill="#2b2b2b" text-anchor="end">0</text>
<line x1="426.68" y1="678.50" x2="426.68" y2="681.40" stroke="#231f20" stroke-width="0.9"/>
<text transform="translate(429.98,687.10) rotate(-45)" font-size="6.4" fill="#2b2b2b" text-anchor="end">4</text>
<line x1="434.06" y1="678.50" x2="434.06" y2="681.40" stroke="#231f20" stroke-width="0.9"/>
<text transform="translate(437.36,687.10) rotate(-45)" font-size="6.4" fill="#2b2b2b" text-anchor="end">8</text>
<line x1="441.44" y1="678.50" x2="441.44" y2="681.40" stroke="#231f20" stroke-width="0.9"/>
<text transform="translate(444.74,687.10) rotate(-45)" font-size="6.4" fill="#2b2b2b" text-anchor="end">12</text>
<line x1="448.82" y1="678.50" x2="448.82" y2="681.40" stroke="#231f20" stroke-width="0.9"/>
<text transform="translate(452.12,687.10) rotate(-45)" font-size="6.4" fill="#2b2b2b" text-anchor="end">16</text>
<line x1="456.20" y1="678.50" x2="456.20" y2="681.40" stroke="#231f20" stroke-width="0.9"/>
<text transform="translate(459.50,687.10) rotate(-45)" font-size="6.4" fill="#2b2b2b" text-anchor="end">20</text>
<path d="M466,607.90 H469.6 V688.10 H466" fill="none" stroke="#333" stroke-width="0.95"/>
<text x="472.6" y="646.70" font-size="6.8" fill="#2b2b2b" textLength="40.0" lengthAdjust="spacingAndGlyphs">MOLM-13<tspan font-size="4.4" dy="-2.7">Cas9</tspan></text>
<text x="477.50" y="654.40" font-size="6.8" fill="#2b2b2b" textLength="29.70" lengthAdjust="spacingAndGlyphs">(MLL-AF9)</text>
<text x="218.50" y="704.00" font-size="8.6" fill="#2b2b2b" textLength="60.50" lengthAdjust="spacingAndGlyphs">Days post treatment</text>
<rect x="0.5" y="0.5" width="519" height="712" fill="none" stroke="#555" stroke-width="1"/>
</svg></body></html>
